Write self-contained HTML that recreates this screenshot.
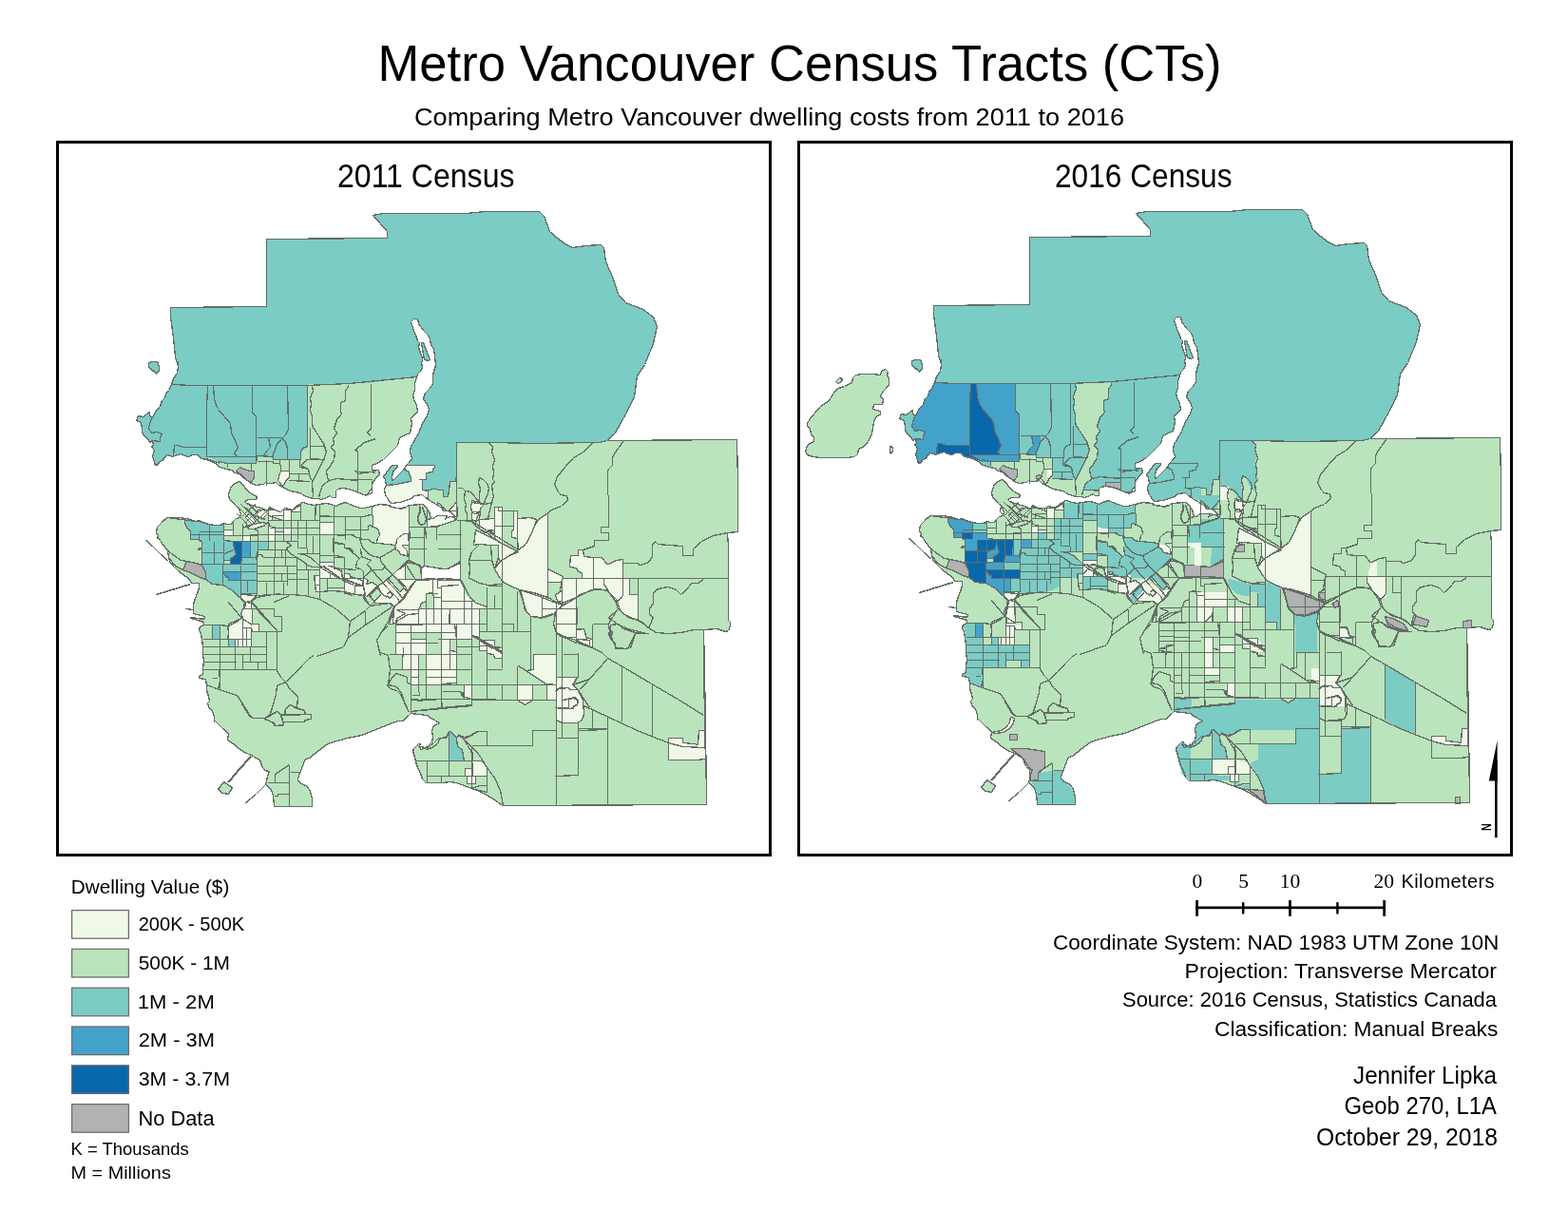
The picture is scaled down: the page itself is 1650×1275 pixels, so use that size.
<!DOCTYPE html>
<html lang="en">
<head>
<meta charset="utf-8">
<title>Metro Vancouver Census Tracts (CTs)</title>
<style>
html,body{margin:0;padding:0;background:#fff;}
body{width:1650px;height:1275px;overflow:hidden;position:relative;}
svg{position:absolute;left:0;top:0;display:block;}
text{font-family:"Liberation Sans",sans-serif;fill:#000;}
.serif{font-family:"Liberation Serif",serif;}
.frame{fill:#fff;stroke:#000;stroke-width:3;}
.sw{stroke:#6e6e6e;stroke-width:1.3;}
.c1{fill:#f0f9e8}.c2{fill:#bae4bc}.c3{fill:#7bccc4}.c4{fill:#43a2ca}.c5{fill:#0868ac}.c0{fill:#b2b2b2}
.w{fill:#fff}
.map polygon,.map polyline{stroke:#646c66;stroke-width:1.3;stroke-linejoin:round;shape-rendering:crispEdges;}
.map .ln{fill:none;}
.map .ns{stroke:none;}
</style>
</head>
<body>
<svg width="1650" height="1275" viewBox="0 0 1650 1275">
<rect x="0" y="0" width="1650" height="1275" fill="#fff"/>
<!-- titles -->
<text x="397.5" y="84.7" font-size="54.5" textLength="888" lengthAdjust="spacingAndGlyphs">Metro Vancouver Census Tracts (CTs)</text>
<text x="436" y="131.5" font-size="25" textLength="747" lengthAdjust="spacingAndGlyphs">Comparing Metro Vancouver dwelling costs from 2011 to 2016</text>
<!-- frames -->
<rect class="frame" x="60.5" y="149.5" width="750" height="750"/>
<rect class="frame" x="840.5" y="149.5" width="750" height="750"/>
<text x="355" y="197" font-size="34.5" textLength="186.5" lengthAdjust="spacingAndGlyphs">2011 Census</text>
<text x="1110" y="197" font-size="34.5" textLength="186.5" lengthAdjust="spacingAndGlyphs">2016 Census</text>
<!-- MAP1 -->
<g class="map" id="map2011">
<g>
<polygon class="c2" points="205.5,548.5 200.5,546.5 194.5,545.5 188.5,544.5 182.5,544.5 176.5,544.5 172.5,547.5 168.5,551.5 165.5,554.5 164.5,560.5 166.5,563.5 165.5,566.5 167.5,566.5 170.5,571.5 173.5,575.5 176.5,579.5 177.5,586.5 178.5,590.5 183.5,596.5 187.5,600.5 191.5,603.5 195.5,606.5 199.5,609.5 201.5,613.5 209.5,613.5 209.5,618.5 207.5,624.5 205.5,629.5 203.5,635.5 203.5,640.5 203.5,645.5 207.5,646.5 215.5,648.5 215.5,650.5 209.5,650.5 200.5,649.5 200.5,650.5 208.5,652.5 214.5,654.5 214.5,657.5 210.5,659.5 209.5,662.5 211.5,666.5 212.5,672.5 213.5,680.5 213.5,688.5 214.5,694.5 213.5,704.5 213.5,709.5 209.5,711.5 209.5,713.5 216.5,714.5 217.5,720.5 217.5,726.5 219.5,732.5 220.5,737.5 218.5,739.5 219.5,743.5 223.5,748.5 225.5,753.5 225.5,759.5 225.5,757.5 230.5,762.5 234.5,766.5 240.5,771.5 239.5,778.5 245.5,782.5 251.5,787.5 257.5,791.5 264.5,794.5 269.5,797.5 273.5,799.5 275.5,805.5 278.5,810.5 283.5,811.5 281.5,816.5 280.5,821.5 279.5,825.5 281.5,826.5 285.5,831.5 287.5,836.5 288.5,848.5 328.5,848.5 328.5,840.5 326.5,832.5 323.5,827.5 317.5,824.5 313.5,821.5 313.5,818.5 315.5,813.5 318.5,805.5 321.5,798.5 325.5,797.5 330.5,793.5 335.5,789.5 339.5,786.5 343.5,783.5 350.5,780.5 358.5,778.5 365.5,776.5 370.5,775.5 380.5,773.5 390.5,769.5 400.5,765.5 410.5,761.5 418.5,758.5 424.5,758.5 427.5,754.5 430.5,752.5 432.5,750.5 440.5,751.5 449.5,752.5 453.5,755.5 462.5,760.5 456.5,763.5 454.5,768.5 455.5,775.5 454.5,780.5 450.5,784.5 446.5,787.5 442.5,788.5 441.5,784.5 442.5,782.5 440.5,782.5 435.5,787.5 434.5,790.5 436.5,796.5 437.5,801.5 439.5,807.5 442.5,813.5 444.5,819.5 448.5,823.5 455.5,823.5 465.5,823.5 473.5,822.5 480.5,823.5 488.5,826.5 496.5,829.5 504.5,832.5 512.5,836.5 520.5,841.5 527.5,846.5 528.5,847.5 743.5,846.5 742.5,764.5 741.5,708.5 740.5,662.5 754.5,661.5 763.5,664.5 766.5,663.5 768.5,658.5 768.5,654.5 766.5,652.5 766.5,608.5 766.5,575.5 765.5,560.5 776.5,559.5 776.5,507.5 775.5,462.5 639.5,463.5 630.5,455.5 475.5,455.5 475.5,505.5 400.5,518.5 300.5,513.5 250.5,510.5 215.5,530.5 205.5,548.5"/>
<polygon class="c3" points="392.5,226.5 404.5,224.5 490.5,224.5 510.5,222.5 567.5,222.5 572.5,227.5 578.5,243.5 586.5,250.5 594.5,256.5 602.5,260.5 616.5,258.5 632.5,257.5 635.5,260.5 637.5,275.5 645.5,293.5 650.5,309.5 658.5,318.5 676.5,325.5 687.5,333.5 691.5,343.5 687.5,361.5 678.5,383.5 670.5,395.5 667.5,417.5 658.5,435.5 647.5,455.5 638.5,463.5 630.5,465.5 626.5,465.5 564.5,466.5 516.5,465.5 480.5,465.5 480.5,500.5 479.5,506.5 473.5,506.5 472.5,516.5 471.5,522.5 466.5,522.5 466.5,515.5 460.5,515.5 459.5,514.5 454.5,514.5 452.5,515.5 444.5,515.5 440.5,520.5 420.5,520.5 400.5,520.5 300.5,515.5 240.5,500.5 163.5,489.5 162.5,486.5 160.5,479.5 162.5,474.5 159.5,469.5 161.5,468.5 160.5,463.5 157.5,465.5 155.5,461.5 151.5,458.5 149.5,454.5 149.5,450.5 148.5,444.5 143.5,442.5 145.5,437.5 150.5,438.5 157.5,433.5 157.5,437.5 160.5,439.5 163.5,433.5 168.5,427.5 170.5,421.5 173.5,418.5 174.5,414.5 177.5,410.5 180.5,404.5 182.5,398.5 186.5,392.5 187.5,386.5 187.5,380.5 187.5,385.5 184.5,375.5 182.5,355.5 179.5,333.5 179.5,323.5 280.5,322.5 280.5,251.5 407.5,250.5 407.5,243.5"/>
<polygon class="c3" points="156.5,381.5 160.5,380.5 165.5,380.5 167.5,385.5 167.5,389.5 164.5,393.5 162.5,390.5 159.5,389.5 156.5,385.5"/>
<polygon class="c2 ns" points="271.5,533.5 267.5,532.5 262.5,530.5 259.5,529.5 257.5,527.5 261.5,525.5 265.5,525.5 269.5,525.5 270.5,522.5 266.5,520.5 261.5,517.5 257.5,512.5 254.5,508.5 251.5,506.5 247.5,508.5 243.5,511.5 241.5,516.5 240.5,520.5 241.5,525.5 245.5,528.5 247.5,531.5 249.5,533.5 251.5,535.5 253.5,540.5 275.5,540.5"/>
</g>
<g>
<polygon class="c2 ns" points="219.5,484.5 218.5,480.5 231.5,486.5 269.5,488.5 269.5,480.5 283.5,480.5 285.5,482.5 316.5,483.5 316.5,475.5 320.5,472.5 323.5,470.5 323.5,440.5 323.5,404.5 370.5,403.5 390.5,402.5 439.5,396.5 445.5,410.5 438.5,440.5 424.5,470.5 400.5,492.5 398.5,508.5 380.5,525.5 345.5,527.5 315.5,524.5 285.5,520.5 275.5,515.5 261.5,510.5 245.5,500.5 225.5,490.5"/>
<polygon class="c1" points="382.5,607.5 387.5,610.5 385.5,614.5 391.5,612.5 397.5,616.5 403.5,612.5 413.5,604.5 427.5,618.5 428.5,622.5 420.5,633.5 415.5,638.5 410.5,634.5 394.5,634.5 393.5,632.5 401.5,624.5 397.5,617.5 384.5,628.5 382.5,629.5 383.5,622.5 382.5,616.5 373.5,615.5 373.5,623.5 370.5,626.5 362.5,623.5 362.5,606.5 368.5,606.5 369.5,608.5 382.5,608.5"/>
<polygon class="c1" points="425.5,595.5 437.5,610.5 443.5,609.5 455.5,608.5 455.5,623.5 448.5,624.5 448.5,632.5 443.5,634.5 439.5,644.5 418.5,655.5 409.5,656.5 411.5,647.5 415.5,638.5 423.5,629.5 428.5,622.5 427.5,618.5 415.5,605.5 413.5,604.5 418.5,599.5"/>
<polygon class="c1 ns" points="455.5,608.5 484.5,609.5 488.5,623.5 496.5,632.5 512.5,639.5 504.5,640.5 504.5,656.5 455.5,656.5"/>
</g>
<g>
<polygon class="c0" points="248.5,495.5 252.5,491.5 256.5,493.5 263.5,495.5 267.5,495.5 267.5,502.5 264.5,507.5 260.5,505.5 256.5,501.5 252.5,498.5"/>
<polygon class="c1" points="294.5,497.5 296.5,495.5 304.5,495.5 304.5,502.5 300.5,505.5 299.5,509.5 296.5,511.5 294.5,507.5 292.5,505.5"/>
<polygon class="c1" points="336.5,596.5 341.5,596.5 350.5,596.5 358.5,600.5 360.5,608.5 353.5,608.5 346.5,602.5 341.5,600.5 336.5,606.5"/>
<polygon class="c1" points="330.5,605.5 336.5,605.5 336.5,622.5 332.5,622.5"/>
<polygon class="c1" points="362.5,604.5 381.5,610.5 382.5,616.5 373.5,613.5 362.5,608.5"/>
<polygon class="c1" points="373.5,616.5 382.5,616.5 384.5,626.5 373.5,625.5"/>
<polygon class="c1" points="253.5,624.5 269.5,624.5 264.5,632.5 257.5,633.5 253.5,630.5"/>
<polygon class="c1" points="257.5,633.5 264.5,632.5 265.5,656.5 272.5,656.5 272.5,664.5 264.5,664.5 264.5,672.5 240.5,672.5 240.5,656.5 254.5,650.5"/>
<polygon class="c3" points="194.5,546.5 200.5,546.5 205.5,548.5 210.5,548.5 215.5,550.5 220.5,551.5 225.5,552.5 230.5,552.5 235.5,551.5 235.5,568.5 245.5,569.5 271.5,569.5 272.5,569.5 282.5,569.5 282.5,578.5 271.5,578.5 271.5,584.5 270.5,586.5 270.5,624.5 253.5,624.5 253.5,629.5 243.5,620.5 234.5,615.5 223.5,614.5 216.5,609.5 216.5,602.5 212.5,594.5 212.5,577.5 208.5,578.5 209.5,576.5 212.5,576.5 212.5,569.5 209.5,568.5 209.5,567.5 200.5,567.5 200.5,558.5 198.5,557.5 196.5,554.5 194.5,550.5"/>
<polygon class="c1" points="235.5,557.5 245.5,557.5 245.5,563.5 235.5,563.5"/>
<polygon class="c1" points="255.5,563.5 263.5,563.5 263.5,569.5 255.5,569.5"/>
<polygon class="c1" points="253.5,624.5 269.5,624.5 269.5,626.5 264.5,632.5 258.5,633.5 253.5,629.5"/>
<polygon class="c1" points="258.5,633.5 264.5,632.5 265.5,657.5 256.5,657.5 255.5,649.5 257.5,640.5"/>
<polygon class="c1" points="282.5,534.5 291.5,537.5 295.5,538.5 298.5,540.5 298.5,547.5 282.5,542.5"/>
<polygon class="c1" points="298.5,536.5 306.5,536.5 306.5,547.5 298.5,547.5"/>
<polygon class="c1" points="306.5,536.5 315.5,530.5 316.5,538.5 306.5,538.5"/>
<polygon class="c1" points="235.5,557.5 245.5,557.5 245.5,563.5 235.5,563.5"/>
<polygon class="c1" points="282.5,555.5 289.5,555.5 289.5,562.5 282.5,562.5"/>
<polygon class="c1" points="298.5,555.5 306.5,555.5 306.5,562.5 298.5,562.5"/>
<polygon class="c1" points="336.5,549.5 351.5,549.5 351.5,562.5 336.5,562.5"/>
<polygon class="c1" points="255.5,563.5 263.5,563.5 263.5,569.5 255.5,569.5"/>
<polygon class="c1" points="250.5,533.5 257.5,540.5 253.5,544.5 249.5,540.5"/>
<polygon class="c1" points="261.5,540.5 269.5,548.5 265.5,551.5 258.5,544.5"/>
<polygon class="c1" points="271.5,536.5 277.5,536.5 281.5,540.5 275.5,546.5 269.5,540.5"/>
<polygon class="c1" points="275.5,549.5 280.5,550.5 279.5,552.5 267.5,556.5 261.5,556.5 259.5,553.5"/>
<polygon class="c1" points="575.5,540.5 566.5,546.5 562.5,553.5 558.5,562.5 553.5,572.5 545.5,578.5 534.5,585.5 526.5,590.5 520.5,598.5 524.5,605.5 529.5,612.5 537.5,616.5 546.5,620.5 561.5,623.5 576.5,628.5 576.5,540.5"/>
<polygon class="c1" points="546.5,620.5 548.5,626.5 550.5,633.5 553.5,642.5 558.5,648.5 570.5,649.5 582.5,645.5 590.5,637.5 591.5,634.5 585.5,633.5 576.5,628.5 561.5,623.5"/>
<polygon class="c1" points="540.5,537.5 544.5,537.5 544.5,545.5 558.5,544.5 564.5,546.5 562.5,553.5 558.5,562.5 553.5,572.5 545.5,578.5 544.5,566.5 538.5,565.5 538.5,558.5 540.5,557.5"/>
<polygon class="c1" points="520.5,533.5 528.5,533.5 528.5,572.5 520.5,566.5"/>
<polygon class="c1" points="504.5,546.5 520.5,546.5 520.5,561.5 513.5,557.5 504.5,554.5"/>
<polygon class="c1" points="500.5,557.5 545.5,580.5 534.5,585.5 526.5,590.5 524.5,586.5 524.5,573.5 516.5,573.5 504.5,572.5 498.5,573.5"/>
<polygon class="c1" points="496.5,526.5 504.5,528.5 505.5,538.5 496.5,537.5"/>
<polygon class="c1" points="496.5,538.5 504.5,538.5 500.5,548.5 496.5,546.5"/>
<polygon class="c1" points="600.5,584.5 608.5,584.5 608.5,578.5 613.5,578.5 614.5,585.5 624.5,586.5 633.5,586.5 638.5,593.5 640.5,593.5 648.5,589.5 655.5,588.5 655.5,608.5 612.5,608.5 612.5,602.5 608.5,601.5 606.5,597.5 599.5,596.5"/>
<polygon class="c1" points="576.5,598.5 592.5,606.5 591.5,612.5 576.5,612.5"/>
<polygon class="c1" points="591.5,608.5 662.5,608.5 662.5,625.5 671.5,625.5 671.5,652.5 660.5,649.5 652.5,641.5 648.5,630.5 638.5,621.5 630.5,619.5 622.5,620.5 614.5,624.5 606.5,628.5 606.5,656.5 585.5,656.5 585.5,633.5 591.5,634.5 591.5,621.5 585.5,625.5 589.5,621.5"/>
<polygon class="c1" points="585.5,656.5 606.5,656.5 606.5,673.5 593.5,669.5 585.5,665.5"/>
<polygon class="c1" points="606.5,661.5 614.5,662.5 617.5,672.5 606.5,672.5"/>
<polygon class="c1" points="608.5,672.5 623.5,672.5 623.5,681.5 608.5,676.5"/>
<polygon class="c1" points="460.5,610.5 484.5,610.5 488.5,618.5 488.5,632.5 464.5,632.5 464.5,618.5 460.5,618.5"/>
<polygon class="c1" points="464.5,632.5 488.5,632.5 488.5,640.5 504.5,640.5 504.5,656.5 480.5,656.5 480.5,672.5 464.5,672.5 464.5,656.5 473.5,648.5 473.5,640.5 464.5,640.5"/>
<polygon class="c1" points="460.5,528.5 470.5,537.5 480.5,537.5 480.5,546.5 460.5,552.5"/>
<polygon class="c1" points="591.5,608.5 606.5,608.5 606.5,628.5 600.5,632.5 591.5,636.5 591.5,632.5 586.5,632.5 584.5,625.5 591.5,621.5"/>
<polygon class="c1" points="606.5,608.5 624.5,608.5 624.5,620.5 610.5,625.5 606.5,628.5"/>
<polygon class="c1" points="624.5,608.5 635.5,608.5 635.5,614.5 639.5,620.5 635.5,620.5 624.5,620.5"/>
<polygon class="c1" points="635.5,608.5 655.5,608.5 655.5,626.5 650.5,632.5 647.5,632.5 642.5,625.5 639.5,620.5 635.5,614.5"/>
<polygon class="c1" points="655.5,608.5 662.5,608.5 662.5,625.5 671.5,625.5 671.5,652.5 663.5,649.5 655.5,645.5 650.5,640.5 647.5,632.5 650.5,632.5 655.5,626.5"/>
<polygon class="c1" points="570.5,628.5 580.5,632.5 591.5,636.5 591.5,637.5 583.5,644.5 570.5,649.5"/>
<polygon class="c1" points="585.5,644.5 591.5,637.5 600.5,632.5 606.5,628.5 607.5,656.5 585.5,656.5"/>
<polygon class="c1" points="585.5,656.5 606.5,656.5 606.5,676.5 600.5,673.5 591.5,669.5 585.5,666.5"/>
<polygon class="c1" points="606.5,662.5 612.5,661.5 615.5,665.5 616.5,670.5 623.5,672.5 623.5,681.5 615.5,678.5 606.5,674.5"/>
<polygon class="c1" points="570.5,688.5 585.5,688.5 585.5,718.5 570.5,717.5"/>
<polygon class="c1" points="585.5,712.5 607.5,712.5 603.5,720.5 608.5,725.5 612.5,732.5 612.5,750.5 614.5,752.5 611.5,758.5 591.5,760.5 585.5,757.5 585.5,744.5 585.5,726.5"/>
<polygon class="c1" points="575.5,720.5 585.5,720.5 585.5,736.5 575.5,736.5"/>
<polygon class="c1" points="703.5,776.5 718.5,776.5 718.5,781.5 730.5,782.5 734.5,783.5 735.5,768.5 741.5,768.5 742.5,798.5 732.5,799.5 703.5,799.5"/>
<polygon class="c1" points="427.5,489.5 457.5,489.5 457.5,492.5 455.5,493.5 455.5,496.5 448.5,497.5 448.5,504.5 442.5,504.5 441.5,504.5 444.5,504.5 444.5,515.5 450.5,516.5 450.5,524.5 447.5,523.5 444.5,520.5 436.5,521.5 432.5,524.5 427.5,526.5 420.5,528.5 411.5,529.5 408.5,525.5 405.5,520.5 404.5,514.5 406.5,510.5 417.5,509.5 426.5,507.5 432.5,506.5 432.5,502.5 429.5,495.5 425.5,494.5"/>
<polygon class="c3" points="223.5,657.5 231.5,657.5 231.5,672.5 223.5,672.5"/>
<polygon class="c3" points="240.5,672.5 247.5,672.5 247.5,680.5 240.5,680.5"/>
<polygon class="c1" points="240.5,658.5 248.5,654.5 255.5,649.5 255.5,660.5 264.5,660.5 264.5,671.5 263.5,672.5 240.5,672.5"/>
<polygon class="c1" points="255.5,649.5 253.5,645.5 255.5,640.5 265.5,640.5 265.5,656.5 272.5,656.5 272.5,664.5 265.5,664.5 264.5,660.5 255.5,660.5"/>
<polygon class="c1" points="247.5,672.5 264.5,672.5 264.5,680.5 247.5,680.5"/>
<polygon class="c1" points="440.5,640.5 448.5,640.5 448.5,656.5 440.5,656.5"/>
<polygon class="c1" points="448.5,640.5 456.5,640.5 456.5,656.5 448.5,656.5"/>
<polygon class="c1" points="456.5,640.5 464.5,640.5 464.5,656.5 456.5,656.5"/>
<polygon class="c1" points="464.5,640.5 473.5,640.5 472.5,656.5 464.5,656.5"/>
<polygon class="c1" points="473.5,640.5 488.5,640.5 488.5,656.5 473.5,656.5"/>
<polygon class="c1" points="488.5,640.5 496.5,640.5 496.5,656.5 488.5,656.5"/>
<polygon class="c1" points="496.5,640.5 504.5,640.5 504.5,656.5 496.5,656.5"/>
<polygon class="c1" points="416.5,656.5 432.5,656.5 432.5,665.5 416.5,665.5"/>
<polygon class="c1" points="432.5,656.5 448.5,656.5 448.5,665.5 432.5,665.5"/>
<polygon class="c1" points="448.5,656.5 464.5,656.5 464.5,665.5 448.5,665.5"/>
<polygon class="c1" points="465.5,656.5 478.5,656.5 480.5,672.5 496.5,672.5 496.5,656.5 480.5,656.5"/>
<polygon class="c1" points="416.5,665.5 432.5,665.5 432.5,671.5 416.5,671.5"/>
<polygon class="c1" points="416.5,671.5 432.5,671.5 432.5,680.5 424.5,680.5 424.5,684.5 416.5,684.5"/>
<polygon class="c1" points="432.5,672.5 448.5,672.5 448.5,688.5 432.5,688.5"/>
<polygon class="c1" points="416.5,684.5 432.5,680.5 432.5,688.5 416.5,686.5"/>
<polygon class="c1" points="464.5,672.5 473.5,672.5 473.5,704.5 464.5,704.5"/>
<polygon class="c1" points="473.5,684.5 480.5,685.5 480.5,704.5 473.5,704.5"/>
<polygon class="c1" points="448.5,688.5 464.5,688.5 464.5,704.5 448.5,704.5"/>
<polygon class="c1" points="423.5,688.5 432.5,688.5 432.5,704.5 423.5,704.5"/>
<polygon class="c1" points="432.5,688.5 440.5,688.5 440.5,704.5 432.5,704.5"/>
<polygon class="c1" points="432.5,704.5 440.5,704.5 440.5,712.5 432.5,712.5"/>
<polygon class="c1" points="448.5,704.5 464.5,704.5 464.5,712.5 448.5,712.5"/>
<polygon class="c1" points="464.5,704.5 480.5,704.5 480.5,712.5 464.5,712.5"/>
<polygon class="c1" points="432.5,712.5 440.5,712.5 440.5,720.5 432.5,720.5"/>
<polygon class="c1" points="448.5,712.5 464.5,712.5 464.5,720.5 448.5,720.5"/>
<polygon class="c1" points="464.5,712.5 480.5,712.5 480.5,718.5 464.5,719.5"/>
<polygon class="c1" points="488.5,720.5 496.5,720.5 496.5,735.5 488.5,734.5 485.5,730.5 488.5,728.5"/>
<polygon class="c1" points="496.5,656.5 504.5,656.5 504.5,670.5 496.5,668.5"/>
<polygon class="c1" points="504.5,673.5 520.5,673.5 520.5,680.5 528.5,681.5 528.5,692.5 520.5,691.5 520.5,688.5 512.5,687.5 512.5,684.5 504.5,684.5"/>
<polygon class="c1" points="561.5,688.5 585.5,688.5 585.5,720.5 574.5,719.5 553.5,705.5 561.5,704.5"/>
<polygon class="c1" points="544.5,720.5 560.5,720.5 560.5,736.5 552.5,741.5 544.5,736.5"/>
<polygon class="c1" points="575.5,720.5 585.5,720.5 585.5,736.5 575.5,736.5"/>
<polygon class="c1" points="585.5,640.5 606.5,640.5 606.5,656.5 585.5,656.5"/>
<polygon class="c1" points="585.5,656.5 606.5,656.5 606.5,670.5 592.5,670.5 585.5,666.5"/>
<polygon class="c1" points="585.5,712.5 591.5,712.5 591.5,722.5 585.5,725.5"/>
<polygon class="c1" points="591.5,712.5 607.5,712.5 602.5,720.5 608.5,726.5 613.5,736.5 614.5,750.5 612.5,757.5 607.5,760.5 591.5,760.5 591.5,744.5 585.5,744.5 585.5,726.5 591.5,722.5"/>
<polygon class="c1" points="606.5,662.5 614.5,661.5 617.5,672.5 606.5,672.5"/>
<polygon class="c1" points="608.5,672.5 620.5,673.5 620.5,680.5 608.5,676.5"/>
<polygon class="c1" points="417.5,641.5 440.5,641.5 440.5,656.5 416.5,656.5 417.5,650.5 426.5,645.5"/>
<polygon class="c1" points="552.5,640.5 586.5,640.5 584.5,645.5 573.5,649.5 560.5,648.5"/>
<polygon class="c3" points="472.5,769.5 474.5,769.5 480.5,776.5 481.5,785.5 486.5,788.5 488.5,800.5 472.5,800.5"/>
<polygon class="c1" points="488.5,778.5 496.5,785.5 497.5,800.5 507.5,800.5 512.5,807.5 512.5,816.5 497.5,816.5 496.5,793.5 495.5,789.5"/>
<polygon class="c1" points="489.5,808.5 496.5,808.5 496.5,816.5 489.5,816.5"/>
<polygon class="c1" points="491.5,816.5 500.5,816.5 500.5,824.5 491.5,824.5"/>
<polygon class="c1" points="488.5,720.5 496.5,720.5 496.5,735.5 489.5,733.5 485.5,729.5 488.5,728.5"/>
<polygon class="c1" points="496.5,528.5 509.5,530.5 506.5,533.5 504.5,538.5 496.5,538.5 495.5,532.5"/>
<polygon class="c1" points="472.5,537.5 478.5,530.5 480.5,527.5 481.5,543.5 478.5,543.5 474.5,538.5"/>
<polygon class="c1" points="520.5,533.5 524.5,533.5 524.5,537.5 528.5,537.5 528.5,553.5 520.5,553.5"/>
<polygon class="c1" points="504.5,546.5 520.5,545.5 520.5,558.5 514.5,557.5 510.5,560.5 504.5,556.5"/>
<polygon class="c1" points="449.5,546.5 455.5,545.5 460.5,542.5 470.5,542.5 478.5,544.5 479.5,547.5 460.5,553.5 449.5,554.5"/>
<polygon class="c1" points="547.5,620.5 570.5,628.5 570.5,650.5 558.5,648.5 552.5,642.5 550.5,631.5"/>
<polygon class="c1" points="488.5,720.5 496.5,720.5 496.5,735.5 488.5,735.5"/>
<polygon class="c1" points="544.5,720.5 560.5,720.5 560.5,736.5 544.5,736.5"/>
<polygon class="c1" points="416.5,656.5 432.5,656.5 432.5,688.5 416.5,688.5"/>
<polygon class="c1" points="504.5,672.5 528.5,687.5 528.5,692.5 520.5,692.5 519.5,688.5 512.5,687.5 512.5,679.5 504.5,679.5"/>
<polygon class="c1" points="336.5,549.5 351.5,549.5 351.5,562.5 336.5,562.5"/>
<polygon class="c1" points="298.5,536.5 306.5,536.5 306.5,547.5 298.5,547.5"/>
<polygon class="c1" points="298.5,555.5 306.5,555.5 306.5,562.5 298.5,562.5"/>
<polygon class="c1" points="282.5,552.5 289.5,555.5 289.5,559.5 298.5,559.5 298.5,562.5 282.5,562.5"/>
<polygon class="c1" points="282.5,562.5 289.5,562.5 289.5,569.5 282.5,569.5"/>
<polygon class="c1" points="282.5,536.5 298.5,536.5 298.5,542.5 286.5,542.5 286.5,547.5 282.5,547.5"/>
<polygon class="c1" points="336.5,591.5 351.5,591.5 351.5,596.5 348.5,601.5 340.5,596.5 336.5,596.5"/>
<polygon class="c1" points="336.5,596.5 340.5,596.5 348.5,601.5 347.5,608.5 336.5,608.5"/>
<polygon class="c1" points="331.5,605.5 336.5,605.5 336.5,615.5 331.5,615.5"/>
<polygon class="c1" points="348.5,601.5 355.5,598.5 358.5,599.5 360.5,608.5 355.5,608.5"/>
<polygon class="c1" points="307.5,536.5 316.5,531.5 316.5,538.5 306.5,538.5"/>
<polygon class="c1" points="336.5,549.5 351.5,549.5 351.5,562.5 336.5,562.5"/>
<polygon class="c1" points="391.5,533.5 398.5,530.5 408.5,531.5 411.5,533.5 416.5,533.5 421.5,535.5 428.5,533.5 430.5,531.5 430.5,561.5 425.5,561.5 420.5,564.5 417.5,567.5 416.5,574.5 414.5,573.5 408.5,572.5 396.5,571.5 396.5,570.5 397.5,565.5 399.5,563.5 398.5,558.5 396.5,555.5 392.5,554.5 392.5,543.5 391.5,541.5 391.5,533.5"/>
<polygon class="c1" points="417.5,567.5 420.5,564.5 425.5,561.5 429.5,561.5 430.5,573.5 423.5,573.5 423.5,574.5 428.5,579.5 429.5,585.5 427.5,584.5 421.5,583.5 419.5,579.5 415.5,577.5 416.5,574.5"/>
<polygon class="c1" points="336.5,591.5 351.5,591.5 351.5,597.5 359.5,598.5 359.5,606.5 361.5,608.5 336.5,608.5"/>
<polygon class="c1" points="362.5,603.5 367.5,603.5 369.5,608.5 375.5,608.5 381.5,608.5 362.5,608.5"/>
<polygon class="c1" points="417.5,609.5 413.5,604.5 421.5,596.5 426.5,592.5 426.5,609.5"/>
</g>
<g>
<polygon class="c5" points="245.5,569.5 254.5,569.5 254.5,586.5 253.5,593.5 242.5,593.5 242.5,587.5 245.5,586.5 248.5,582.5 246.5,577.5"/>
<polygon class="c4" points="254.5,569.5 263.5,569.5 263.5,586.5 254.5,586.5"/>
<polygon class="c4" points="234.5,601.5 253.5,601.5 253.5,610.5 240.5,610.5 240.5,607.5 237.5,606.5"/>
<polygon class="c2" points="235.5,589.5 242.5,589.5 242.5,593.5 235.5,593.5"/>
<polygon class="c0" points="192.5,599.5 196.5,590.5 206.5,592.5 212.5,594.5 216.5,602.5 216.5,609.5 210.5,607.5 200.5,602.5"/>
<polygon class="c0" points="640.5,665.5 643.5,663.5 644.5,666.5 642.5,669.5 640.5,668.5"/>
<polygon class="c2" points="389.5,625.5 397.5,618.5 401.5,624.5 394.5,632.5 391.5,630.5"/>
<polygon class="c2" points="408.5,608.5 413.5,604.5 425.5,618.5 420.5,622.5"/>
<polygon class="c2" points="426.5,591.5 442.5,594.5 443.5,609.5 426.5,609.5"/>
</g>
<g>
<polygon class="c2" points="235.5,822.5 244.5,828.5 240.5,835.5 234.5,834.5 229.5,830.5"/>
</g>
<g>
<polygon class="w ns" points="163.5,489.5 166.5,488.5 167.5,485.5 171.5,484.5 172.5,481.5 176.5,478.5 181.5,480.5 186.5,478.5 190.5,477.5 194.5,479.5 198.5,480.5 202.5,478.5 207.5,478.5 212.5,482.5 217.5,483.5 222.5,485.5 226.5,487.5 231.5,491.5 238.5,493.5 243.5,494.5 247.5,497.5 251.5,498.5 255.5,502.5 257.5,503.5 260.5,505.5 264.5,508.5 269.5,510.5 271.5,510.5 274.5,509.5 277.5,509.5 279.5,507.5 281.5,508.5 285.5,508.5 290.5,507.5 293.5,510.5 297.5,512.5 301.5,514.5 305.5,516.5 310.5,517.5 315.5,518.5 320.5,521.5 325.5,523.5 330.5,524.5 334.5,524.5 338.5,525.5 343.5,523.5 347.5,521.5 349.5,523.5 353.5,523.5 353.5,516.5 355.5,514.5 361.5,513.5 370.5,515.5 375.5,517.5 380.5,519.5 385.5,521.5 391.5,513.5 391.5,509.5 395.5,502.5 399.5,499.5 398.5,494.5 391.5,494.5 391.5,489.5 396.5,487.5 403.5,483.5 410.5,476.5 418.5,468.5 420.5,460.5 426.5,457.5 431.5,455.5 433.5,445.5 432.5,440.5 435.5,436.5 439.5,433.5 438.5,426.5 435.5,420.5 434.5,415.5 436.5,410.5 436.5,402.5 438.5,397.5 439.5,393.5 442.5,390.5 444.5,386.5 443.5,381.5 444.5,379.5 444.5,376.5 442.5,371.5 440.5,365.5 441.5,360.5 439.5,358.5 437.5,352.5 434.5,345.5 432.5,338.5 435.5,335.5 439.5,335.5 440.5,340.5 445.5,347.5 450.5,352.5 452.5,356.5 453.5,362.5 456.5,367.5 457.5,374.5 458.5,384.5 456.5,390.5 455.5,396.5 455.5,403.5 452.5,408.5 447.5,413.5 445.5,419.5 449.5,425.5 451.5,430.5 449.5,437.5 444.5,445.5 440.5,455.5 435.5,464.5 432.5,469.5 431.5,475.5 433.5,482.5 430.5,486.5 427.5,489.5 424.5,494.5 420.5,498.5 414.5,504.5 412.5,505.5 412.5,500.5 414.5,494.5 418.5,491.5 418.5,489.5 412.5,489.5 403.5,501.5 405.5,504.5 406.5,510.5 404.5,514.5 405.5,520.5 408.5,525.5 411.5,529.5 420.5,528.5 427.5,526.5 432.5,524.5 436.5,521.5 444.5,520.5 447.5,523.5 450.5,525.5 455.5,528.5 460.5,531.5 465.5,534.5 466.5,537.5 471.5,537.5 474.5,538.5 478.5,543.5 474.5,543.5 470.5,544.5 468.5,546.5 470.5,542.5 466.5,542.5 460.5,542.5 455.5,545.5 453.5,545.5 452.5,541.5 451.5,538.5 449.5,535.5 447.5,532.5 444.5,530.5 429.5,531.5 428.5,533.5 422.5,534.5 417.5,534.5 412.5,533.5 410.5,531.5 400.5,530.5 391.5,532.5 383.5,534.5 378.5,534.5 370.5,531.5 363.5,528.5 357.5,530.5 353.5,532.5 348.5,530.5 343.5,529.5 335.5,530.5 330.5,531.5 325.5,530.5 318.5,528.5 315.5,530.5 311.5,532.5 307.5,536.5 304.5,535.5 299.5,534.5 295.5,538.5 291.5,537.5 287.5,535.5 283.5,533.5 282.5,537.5 279.5,536.5 275.5,534.5 271.5,533.5 267.5,532.5 262.5,530.5 259.5,529.5 257.5,527.5 261.5,525.5 265.5,525.5 269.5,525.5 270.5,522.5 266.5,520.5 261.5,517.5 257.5,512.5 254.5,508.5 251.5,506.5 247.5,508.5 243.5,511.5 241.5,516.5 240.5,520.5 241.5,525.5 245.5,528.5 247.5,531.5 249.5,533.5 251.5,535.5 253.5,540.5 252.5,544.5 248.5,545.5 245.5,548.5 243.5,551.5 239.5,551.5 235.5,550.5 231.5,552.5 225.5,552.5 219.5,551.5 213.5,549.5 209.5,547.5 205.5,548.5 176.5,544.5 170.5,548.5"/>
<polyline class="ln" points="163.5,489.5 166.5,488.5 167.5,485.5 171.5,484.5 172.5,481.5 176.5,478.5 181.5,480.5 186.5,478.5 190.5,477.5 194.5,479.5 198.5,480.5 202.5,478.5 207.5,478.5 212.5,482.5 217.5,483.5 222.5,485.5 226.5,487.5 231.5,491.5 238.5,493.5 243.5,494.5 247.5,497.5 251.5,498.5 255.5,502.5 257.5,503.5 260.5,505.5 264.5,508.5 269.5,510.5 271.5,510.5 274.5,509.5 277.5,509.5 279.5,507.5 281.5,508.5 285.5,508.5 290.5,507.5 293.5,510.5 297.5,512.5 301.5,514.5 305.5,516.5 310.5,517.5 315.5,518.5 320.5,521.5 325.5,523.5 330.5,524.5 334.5,524.5 338.5,525.5 343.5,523.5 347.5,521.5 349.5,523.5 353.5,523.5 353.5,516.5 355.5,514.5 361.5,513.5 370.5,515.5 375.5,517.5 380.5,519.5 385.5,521.5 391.5,513.5 391.5,509.5 395.5,502.5 399.5,499.5 398.5,494.5 391.5,494.5 391.5,489.5 396.5,487.5 403.5,483.5 410.5,476.5 418.5,468.5 420.5,460.5 426.5,457.5 431.5,455.5 433.5,445.5 432.5,440.5 435.5,436.5 439.5,433.5 438.5,426.5 435.5,420.5 434.5,415.5 436.5,410.5 436.5,402.5 438.5,397.5 439.5,393.5 442.5,390.5 444.5,386.5 443.5,381.5 444.5,379.5 444.5,376.5 442.5,371.5 440.5,365.5 441.5,360.5 439.5,358.5 437.5,352.5 434.5,345.5 432.5,338.5 435.5,335.5 439.5,335.5 440.5,340.5 445.5,347.5 450.5,352.5 452.5,356.5 453.5,362.5 456.5,367.5 457.5,374.5 458.5,384.5 456.5,390.5 455.5,396.5 455.5,403.5 452.5,408.5 447.5,413.5 445.5,419.5 449.5,425.5 451.5,430.5 449.5,437.5 444.5,445.5 440.5,455.5 435.5,464.5 432.5,469.5 431.5,475.5 433.5,482.5 430.5,486.5 427.5,489.5 424.5,494.5 420.5,498.5 414.5,504.5 412.5,505.5 412.5,500.5 414.5,494.5 418.5,491.5 418.5,489.5 412.5,489.5 403.5,501.5 405.5,504.5 406.5,510.5 404.5,514.5 405.5,520.5 408.5,525.5 411.5,529.5 420.5,528.5 427.5,526.5 432.5,524.5 436.5,521.5 444.5,520.5 447.5,523.5 450.5,525.5 455.5,528.5 460.5,531.5 465.5,534.5 466.5,537.5 471.5,537.5 474.5,538.5 478.5,543.5 474.5,543.5 470.5,544.5 468.5,546.5 470.5,542.5 466.5,542.5 460.5,542.5 455.5,545.5 453.5,545.5 452.5,541.5 451.5,538.5 449.5,535.5 447.5,532.5 444.5,530.5 429.5,531.5 428.5,533.5 422.5,534.5 417.5,534.5 412.5,533.5 410.5,531.5 400.5,530.5 391.5,532.5 383.5,534.5 378.5,534.5 370.5,531.5 363.5,528.5 357.5,530.5 353.5,532.5 348.5,530.5 343.5,529.5 335.5,530.5 330.5,531.5 325.5,530.5 318.5,528.5 315.5,530.5 311.5,532.5 307.5,536.5 304.5,535.5 299.5,534.5 295.5,538.5 291.5,537.5 287.5,535.5 283.5,533.5 282.5,537.5 279.5,536.5 275.5,534.5 271.5,533.5 267.5,532.5 262.5,530.5 259.5,529.5 257.5,527.5 261.5,525.5 265.5,525.5 269.5,525.5 270.5,522.5 266.5,520.5 261.5,517.5 257.5,512.5 254.5,508.5 251.5,506.5 247.5,508.5 243.5,511.5 241.5,516.5 240.5,520.5 241.5,525.5 245.5,528.5 247.5,531.5 249.5,533.5 251.5,535.5 253.5,540.5 252.5,544.5 248.5,545.5 245.5,548.5 243.5,551.5 239.5,551.5 235.5,550.5 231.5,552.5 225.5,552.5 219.5,551.5 213.5,549.5 209.5,547.5 205.5,548.5 176.5,544.5 170.5,548.5"/>
</g>
<g>
<polygon class="w ns" points="443.5,597.5 446.5,595.5 453.5,596.5 460.5,597.5 466.5,598.5 471.5,598.5 476.5,595.5 484.5,590.5 484.5,610.5 476.5,609.5 470.5,610.5 460.5,609.5 452.5,608.5 443.5,609.5"/>
<polygon class="ln" points="443.5,597.5 446.5,595.5 453.5,596.5 460.5,597.5 466.5,598.5 471.5,598.5 476.5,595.5 484.5,590.5 484.5,610.5 476.5,609.5 470.5,610.5 460.5,609.5 452.5,608.5 443.5,609.5"/>
</g>
<g>
<polygon class="c3" points="443.5,360.5 445.5,360.5 452.5,378.5 451.5,379.5 446.5,378.5"/>
</g>
<g>
<polyline class="ln" points="230.5,405.5 322.5,405.5 367.5,403.5 438.5,396.5"/>
<polyline class="ln" points="265.5,405.5 265.5,434.5 269.5,437.5 269.5,487.5"/>
<polyline class="ln" points="230.5,480.5 269.5,480.5"/>
<polyline class="ln" points="230.5,431.5 236.5,438.5 242.5,445.5 243.5,455.5 247.5,463.5 250.5,470.5 246.5,477.5 250.5,480.5"/>
<polyline class="ln" points="302.5,405.5 303.5,451.5 300.5,457.5 295.5,462.5 291.5,467.5 288.5,475.5 286.5,480.5"/>
<polyline class="ln" points="270.5,460.5 292.5,460.5 296.5,460.5 300.5,465.5 302.5,471.5 302.5,483.5"/>
<polyline class="ln" points="282.5,460.5 283.5,465.5 284.5,470.5 280.5,474.5 277.5,479.5"/>
<polyline class="ln" points="323.5,405.5 323.5,469.5 318.5,471.5 316.5,475.5 316.5,483.5 287.5,483.5 287.5,480.5 270.5,479.5 269.5,487.5 238.5,487.5 230.5,485.5"/>
<polyline class="ln" points="328.5,405.5 329.5,411.5 326.5,418.5 327.5,425.5 326.5,431.5 328.5,438.5 328.5,446.5 329.5,449.5 340.5,466.5 343.5,475.5 340.5,483.5 336.5,491.5 332.5,499.5 328.5,507.5 329.5,523.5"/>
<polyline class="ln" points="326.5,469.5 340.5,469.5"/>
<polyline class="ln" points="326.5,449.5 326.5,482.5 341.5,483.5 323.5,483.5 316.5,489.5 324.5,493.5 326.5,502.5 329.5,507.5"/>
<polyline class="ln" points="366.5,404.5 366.5,406.5 363.5,411.5 363.5,421.5 358.5,423.5 358.5,433.5 359.5,435.5 354.5,441.5 351.5,450.5 354.5,455.5 350.5,461.5 351.5,466.5 348.5,470.5 352.5,475.5 351.5,483.5 347.5,490.5 343.5,495.5 344.5,502.5 346.5,505.5 339.5,510.5 336.5,518.5 335.5,523.5"/>
<polyline class="ln" points="390.5,403.5 390.5,450.5 386.5,455.5 390.5,458.5"/>
<polyline class="ln" points="395.5,461.5 383.5,465.5 373.5,473.5 376.5,474.5 376.5,495.5 373.5,495.5 376.5,498.5 376.5,518.5"/>
<polyline class="ln" points="346.5,505.5 354.5,503.5 376.5,505.5"/>
<polyline class="ln" points="376.5,498.5 383.5,497.5 396.5,495.5"/>
<polyline class="ln" points="391.5,505.5 391.5,518.5 384.5,521.5"/>
<polyline class="ln" points="239.5,487.5 239.5,491.5"/>
<polyline class="ln" points="264.5,487.5 264.5,495.5"/>
<polyline class="ln" points="280.5,483.5 280.5,510.5"/>
<polyline class="ln" points="270.5,485.5 287.5,485.5 287.5,487.5 294.5,487.5 294.5,483.5"/>
<polyline class="ln" points="294.5,487.5 295.5,491.5 295.5,495.5"/>
<polyline class="ln" points="304.5,483.5 304.5,498.5 324.5,498.5"/>
<polyline class="ln" points="304.5,505.5 326.5,506.5"/>
<polyline class="ln" points="314.5,498.5 314.5,506.5"/>
<polyline class="ln" points="315.5,483.5 315.5,491.5 324.5,493.5"/>
<polyline class="ln" points="336.5,529.5 336.5,630.5"/>
<polyline class="ln" points="362.5,612.5 362.5,624.5"/>
<polyline class="ln" points="344.5,608.5 344.5,621.5"/>
<polyline class="ln" points="280.5,612.5 280.5,626.5"/>
<polyline class="ln" points="260.5,610.5 260.5,622.5"/>
<polyline class="ln" points="336.5,608.5 362.5,608.5"/>
<polyline class="ln" points="344.5,618.5 362.5,618.5"/>
<polyline class="ln" points="288.5,612.5 288.5,625.5"/>
<polyline class="ln" points="298.5,612.5 298.5,625.5"/>
<polyline class="ln" points="312.5,612.5 312.5,624.5"/>
<polyline class="ln" points="324.5,612.5 324.5,626.5"/>
<polyline class="ln" points="336.5,596.5 346.5,602.5 357.5,608.5 373.5,613.5 382.5,616.5"/>
<polyline class="ln" points="253.5,625.5 270.5,626.5 288.5,625.5 305.5,625.5 320.5,626.5 336.5,630.5 353.5,640.5 368.5,653.5 384.5,642.5 389.5,637.5 382.5,626.5 373.5,625.5 362.5,622.5 349.5,621.5 336.5,622.5"/>
<polyline class="ln" points="257.5,633.5 264.5,632.5 270.5,626.5"/>
<polyline class="ln" points="264.5,632.5 292.5,664.5"/>
<polyline class="ln" points="368.5,653.5 366.5,670.5 361.5,680.5 333.5,690.5"/>
<polyline class="ln" points="384.5,642.5 384.5,657.5 366.5,670.5"/>
<polyline class="ln" points="389.5,637.5 410.5,634.5 414.5,638.5 408.5,653.5 396.5,673.5 400.5,690.5"/>
<polyline class="ln" points="384.5,657.5 412.5,638.5"/>
<polyline class="ln" points="426.5,592.5 437.5,610.5 424.5,630.5 414.5,638.5 413.5,657.5"/>
<polyline class="ln" points="426.5,592.5 426.5,609.5 443.5,609.5 443.5,596.5 430.5,589.5"/>
<polyline class="ln" points="430.5,532.5 430.5,589.5"/>
<polyline class="ln" points="430.5,554.5 460.5,554.5"/>
<polyline class="ln" points="446.5,554.5 446.5,594.5"/>
<polyline class="ln" points="430.5,565.5 446.5,565.5"/>
<polyline class="ln" points="430.5,577.5 448.5,577.5"/>
<polyline class="ln" points="240.5,633.5 254.5,650.5 265.5,657.5"/>
<polyline class="ln" points="265.5,640.5 288.5,640.5 288.5,648.5 296.5,648.5 296.5,664.5 272.5,664.5 272.5,656.5 265.5,656.5 265.5,640.5"/>
<polyline class="ln" points="288.5,633.5 304.5,626.5"/>
<polyline class="ln" points="280.5,664.5 280.5,690.5"/>
<polyline class="ln" points="291.5,664.5 291.5,690.5"/>
<polyline class="ln" points="416.5,657.5 460.5,656.5"/>
<polyline class="ln" points="416.5,665.5 460.5,665.5"/>
<polyline class="ln" points="416.5,676.5 460.5,676.5"/>
<polyline class="ln" points="432.5,657.5 432.5,690.5"/>
<polyline class="ln" points="448.5,624.5 448.5,690.5"/>
<polyline class="ln" points="440.5,640.5 440.5,656.5"/>
<polyline class="ln" points="424.5,680.5 424.5,690.5"/>
<polyline class="ln" points="437.5,610.5 460.5,609.5"/>
<polyline class="ln" points="448.5,624.5 460.5,624.5"/>
<polyline class="ln" points="440.5,640.5 460.5,640.5"/>
<polyline class="ln" points="416.5,657.5 417.5,653.5 429.5,646.5 440.5,645.5"/>
<polyline class="ln" points="225.5,569.5 225.5,593.5"/>
<polyline class="ln" points="235.5,569.5 235.5,594.5"/>
<polyline class="ln" points="234.5,594.5 234.5,615.5"/>
<polyline class="ln" points="220.5,551.5 220.5,568.5"/>
<polyline class="ln" points="209.5,560.5 209.5,567.5"/>
<polyline class="ln" points="253.5,594.5 253.5,629.5"/>
<polyline class="ln" points="260.5,610.5 260.5,622.5"/>
<polyline class="ln" points="270.5,586.5 270.5,622.5"/>
<polyline class="ln" points="212.5,593.5 270.5,593.5"/>
<polyline class="ln" points="212.5,581.5 235.5,581.5"/>
<polyline class="ln" points="200.5,562.5 235.5,562.5"/>
<polyline class="ln" points="209.5,559.5 220.5,559.5"/>
<polyline class="ln" points="234.5,601.5 270.5,601.5"/>
<polyline class="ln" points="240.5,610.5 270.5,610.5"/>
<polyline class="ln" points="254.5,586.5 270.5,586.5"/>
<polyline class="ln" points="245.5,569.5 281.5,569.5"/>
<polyline class="ln" points="236.5,563.5 255.5,563.5"/>
<polyline class="ln" points="245.5,551.5 245.5,563.5"/>
<polyline class="ln" points="255.5,550.5 255.5,569.5"/>
<polyline class="ln" points="236.5,582.5 245.5,578.5"/>
<polyline class="ln" points="176.5,579.5 183.5,584.5 190.5,589.5 196.5,590.5"/>
<polyline class="ln" points="177.5,586.5 184.5,595.5 192.5,599.5"/>
<polyline class="ln" points="153.5,568.5 160.5,574.5 168.5,582.5 177.5,590.5"/>
<polyline class="ln" points="258.5,633.5 265.5,634.5 270.5,640.5 280.5,650.5 285.5,657.5"/>
<polyline class="ln" points="264.5,632.5 270.5,628.5 280.5,626.5 295.5,624.5"/>
<polyline class="ln" style="stroke-width:1.6" points="164.5,625.5 200.5,614.5"/>
<polyline class="ln" style="stroke-width:1.4" points="195.5,640.5 203.5,641.5"/>
<polyline class="ln" style="stroke-width:1.4" points="200.5,649.5 215.5,651.5"/>
<polyline class="ln" points="181.5,404.5 202.5,405.5 218.5,405.5 230.5,405.5"/>
<polyline class="ln" points="218.5,405.5 217.5,430.5 217.5,450.5 217.5,480.5 230.5,480.5"/>
<polyline class="ln" points="224.5,405.5 225.5,420.5 228.5,428.5 230.5,430.5"/>
<polyline class="ln" points="183.5,468.5 187.5,468.5 192.5,470.5 217.5,470.5"/>
<polyline class="ln" points="183.5,468.5 182.5,479.5"/>
<polyline class="ln" points="163.5,433.5 158.5,442.5 156.5,450.5 159.5,455.5 165.5,454.5 170.5,456.5 168.5,460.5 168.5,464.5 160.5,463.5"/>
<polyline class="ln" points="217.5,482.5 231.5,487.5"/>
<polyline class="ln" points="249.5,532.5 261.5,544.5 269.5,552.5"/>
<polyline class="ln" points="253.5,530.5 265.5,542.5 275.5,551.5"/>
<polyline class="ln" points="257.5,533.5 267.5,542.5 279.5,546.5"/>
<polyline class="ln" points="261.5,530.5 271.5,539.5"/>
<polyline class="ln" points="249.5,540.5 257.5,548.5 261.5,554.5"/>
<polyline class="ln" points="253.5,544.5 261.5,536.5 269.5,530.5"/>
<polyline class="ln" points="257.5,550.5 265.5,542.5 275.5,536.5"/>
<polyline class="ln" points="261.5,554.5 269.5,548.5 279.5,538.5"/>
<polyline class="ln" points="247.5,546.5 245.5,548.5 245.5,557.5 235.5,557.5 235.5,567.5"/>
<polyline class="ln" points="282.5,533.5 282.5,548.5 283.5,553.5"/>
<polyline class="ln" points="279.5,552.5 282.5,548.5"/>
<polyline class="ln" points="245.5,563.5 255.5,563.5 255.5,555.5 259.5,553.5"/>
<polyline class="ln" points="267.5,556.5 271.5,558.5 271.5,563.5 255.5,563.5"/>
<polyline class="ln" points="220.5,551.5 220.5,567.5"/>
<polyline class="ln" points="209.5,559.5 235.5,559.5"/>
<polyline class="ln" points="298.5,540.5 298.5,567.5"/>
<polyline class="ln" points="306.5,536.5 306.5,567.5"/>
<polyline class="ln" points="282.5,542.5 298.5,547.5"/>
<polyline class="ln" points="283.5,547.5 336.5,547.5"/>
<polyline class="ln" points="316.5,530.5 316.5,547.5"/>
<polyline class="ln" points="332.5,531.5 331.5,547.5"/>
<polyline class="ln" points="336.5,530.5 336.5,567.5"/>
<polyline class="ln" points="283.5,555.5 336.5,555.5"/>
<polyline class="ln" points="283.5,562.5 336.5,562.5"/>
<polyline class="ln" points="313.5,547.5 313.5,567.5"/>
<polyline class="ln" points="322.5,547.5 322.5,567.5"/>
<polyline class="ln" points="289.5,553.5 289.5,567.5"/>
<polyline class="ln" points="351.5,532.5 351.5,567.5"/>
<polyline class="ln" points="337.5,543.5 370.5,543.5"/>
<polyline class="ln" points="363.5,543.5 363.5,567.5"/>
<polyline class="ln" points="336.5,549.5 351.5,549.5"/>
<polyline class="ln" points="576.5,540.5 576.5,628.5"/>
<polyline class="ln" points="640.5,520.5 640.5,554.5"/>
<polyline class="ln" points="528.5,533.5 528.5,640.5"/>
<polyline class="ln" points="520.5,533.5 520.5,566.5"/>
<polyline class="ln" points="544.5,538.5 544.5,578.5"/>
<polyline class="ln" points="484.5,548.5 484.5,610.5"/>
<polyline class="ln" points="624.5,586.5 624.5,618.5"/>
<polyline class="ln" points="655.5,588.5 655.5,608.5"/>
<polyline class="ln" points="606.5,608.5 606.5,673.5"/>
<polyline class="ln" points="671.5,608.5 671.5,653.5"/>
<polyline class="ln" points="662.5,609.5 662.5,625.5"/>
<polyline class="ln" points="585.5,633.5 585.5,690.5"/>
<polyline class="ln" points="591.5,608.5 591.5,634.5"/>
<polyline class="ln" points="576.5,598.5 576.5,629.5"/>
<polyline class="ln" points="464.5,618.5 464.5,690.5"/>
<polyline class="ln" points="488.5,621.5 488.5,656.5"/>
<polyline class="ln" points="496.5,632.5 496.5,690.5"/>
<polyline class="ln" points="504.5,640.5 504.5,664.5"/>
<polyline class="ln" points="512.5,617.5 512.5,664.5"/>
<polyline class="ln" points="520.5,625.5 520.5,640.5"/>
<polyline class="ln" points="540.5,656.5 540.5,664.5"/>
<polyline class="ln" points="544.5,621.5 544.5,664.5"/>
<polyline class="ln" points="558.5,656.5 558.5,690.5"/>
<polyline class="ln" points="623.5,656.5 623.5,681.5"/>
<polyline class="ln" points="480.5,656.5 480.5,690.5"/>
<polyline class="ln" points="473.5,672.5 473.5,690.5"/>
<polyline class="ln" points="591.5,669.5 591.5,690.5"/>
<polyline class="ln" points="591.5,608.5 680.5,608.5"/>
<polyline class="ln" points="460.5,562.5 485.5,562.5"/>
<polyline class="ln" points="460.5,577.5 485.5,577.5"/>
<polyline class="ln" points="480.5,547.5 504.5,547.5"/>
<polyline class="ln" points="460.5,640.5 528.5,640.5"/>
<polyline class="ln" points="464.5,632.5 497.5,632.5"/>
<polyline class="ln" points="460.5,656.5 504.5,656.5"/>
<polyline class="ln" points="585.5,656.5 606.5,656.5"/>
<polyline class="ln" points="504.5,664.5 558.5,664.5"/>
<polyline class="ln" points="460.5,672.5 480.5,672.5"/>
<polyline class="ln" points="529.5,656.5 540.5,656.5"/>
<polyline class="ln" points="528.5,537.5 544.5,537.5"/>
<polyline class="ln" points="528.5,553.5 540.5,553.5"/>
<polyline class="ln" points="577.5,612.5 591.5,612.5"/>
<polyline class="ln" points="513.5,616.5 528.5,616.5"/>
<polyline class="ln" points="480.5,680.5 504.5,680.5"/>
<polyline class="ln" points="575.5,540.5 580.5,536.5 590.5,532.5 597.5,526.5 596.5,521.5 589.5,520.5"/>
<polyline class="ln" points="575.5,540.5 566.5,546.5 562.5,553.5 558.5,562.5 553.5,572.5 545.5,578.5 534.5,585.5 526.5,590.5 520.5,598.5"/>
<polyline class="ln" points="520.5,598.5 524.5,605.5 529.5,612.5 537.5,616.5 546.5,620.5 561.5,623.5 576.5,628.5 585.5,633.5 591.5,634.5"/>
<polyline class="ln" points="496.5,548.5 545.5,578.5"/>
<polyline class="ln" points="546.5,620.5 548.5,626.5 550.5,633.5 553.5,642.5 558.5,648.5 570.5,649.5 582.5,645.5 590.5,637.5 591.5,634.5 606.5,628.5 614.5,624.5 622.5,620.5 630.5,619.5 638.5,621.5 648.5,630.5 652.5,641.5 660.5,649.5 671.5,652.5 680.5,658.5"/>
<polyline class="ln" points="640.5,554.5 632.5,554.5 632.5,560.5 640.5,560.5 640.5,568.5 625.5,568.5 625.5,574.5 613.5,578.5"/>
<polyline class="ln" points="655.5,592.5 670.5,592.5 673.5,594.5 680.5,592.5"/>
<polyline class="ln" points="485.5,610.5 489.5,618.5 493.5,626.5 500.5,634.5 513.5,638.5"/>
<polyline class="ln" points="493.5,589.5 496.5,580.5 504.5,572.5 516.5,573.5 517.5,589.5 493.5,589.5"/>
<polyline class="ln" points="493.5,589.5 494.5,597.5 493.5,609.5"/>
<polyline class="ln" points="494.5,608.5 504.5,613.5 513.5,615.5 528.5,614.5"/>
<polyline class="ln" points="516.5,573.5 524.5,573.5 524.5,586.5 520.5,598.5"/>
<polyline class="ln" points="517.5,589.5 520.5,598.5"/>
<polyline class="ln" points="460.5,598.5 470.5,598.5 484.5,592.5"/>
<polyline class="ln" points="460.5,608.5 484.5,609.5"/>
<polyline class="ln" points="558.5,648.5 558.5,656.5"/>
<polyline class="ln" points="584.5,645.5 582.5,656.5 585.5,665.5 593.5,669.5 606.5,673.5 623.5,681.5 633.5,686.5"/>
<polyline class="ln" points="623.5,656.5 640.5,656.5 649.5,641.5"/>
<polyline class="ln" points="640.5,656.5 641.5,664.5 644.5,673.5 648.5,681.5 660.5,682.5 668.5,666.5 680.5,666.5"/>
<polyline class="ln" points="640.5,649.5 649.5,656.5 660.5,661.5 680.5,666.5"/>
<polyline class="ln" points="500.5,669.5 528.5,685.5"/>
<polyline class="ln" points="505.5,674.5 518.5,682.5"/>
<polyline class="ln" points="460.5,528.5 470.5,537.5 480.5,537.5"/>
<polyline class="ln" points="480.5,528.5 480.5,546.5"/>
<polyline class="ln" points="624.5,465.5 612.5,476.5 603.5,481.5 594.5,491.5 586.5,501.5 583.5,509.5 587.5,517.5 590.5,520.5"/>
<polyline class="ln" points="655.5,464.5 646.5,477.5 644.5,481.5 644.5,489.5 640.5,493.5 639.5,495.5 639.5,520.5"/>
<polyline class="ln" points="680.5,592.5 682.5,591.5 686.5,585.5 686.5,573.5 689.5,569.5 692.5,572.5 703.5,573.5 718.5,574.5 718.5,584.5 729.5,584.5 729.5,577.5 738.5,569.5 750.5,563.5 765.5,560.5"/>
<polyline class="ln" points="680.5,608.5 766.5,608.5"/>
<polyline class="ln" points="671.5,608.5 671.5,652.5"/>
<polyline class="ln" points="585.5,646.5 585.5,770.5"/>
<polyline class="ln" points="591.5,672.5 591.5,770.5"/>
<polyline class="ln" points="606.5,626.5 606.5,662.5"/>
<polyline class="ln" points="608.5,688.5 608.5,712.5"/>
<polyline class="ln" points="623.5,657.5 623.5,681.5"/>
<polyline class="ln" points="623.5,745.5 623.5,766.5"/>
<polyline class="ln" points="654.5,701.5 654.5,758.5"/>
<polyline class="ln" points="686.5,720.5 686.5,770.5"/>
<polyline class="ln" points="639.5,752.5 639.5,766.5"/>
<polyline class="ln" points="608.5,758.5 608.5,770.5"/>
<polyline class="ln" points="592.5,688.5 608.5,688.5"/>
<polyline class="ln" points="623.5,656.5 640.5,656.5"/>
<polyline class="ln" points="608.5,766.5 639.5,766.5"/>
<polyline class="ln" points="740.5,609.5 734.5,613.5 727.5,613.5 722.5,620.5 716.5,625.5 711.5,620.5 703.5,617.5 696.5,618.5 690.5,620.5 687.5,624.5 687.5,634.5 683.5,640.5 683.5,646.5 687.5,649.5 684.5,656.5 682.5,660.5"/>
<polyline class="ln" points="674.5,653.5 682.5,660.5 690.5,665.5 703.5,666.5 716.5,665.5 730.5,662.5 740.5,662.5"/>
<polyline class="ln" points="633.5,686.5 639.5,692.5 655.5,701.5 687.5,720.5 716.5,737.5 740.5,752.5"/>
<polyline class="ln" points="639.5,692.5 634.5,698.5 610.5,725.5"/>
<polyline class="ln" points="640.5,656.5 642.5,652.5 640.5,649.5 650.5,641.5"/>
<polyline class="ln" points="642.5,657.5 650.5,656.5 656.5,661.5 668.5,665.5 682.5,666.5 668.5,666.5 663.5,681.5 656.5,682.5 647.5,682.5 647.5,676.5 642.5,672.5 641.5,666.5 642.5,657.5"/>
<polyline class="ln" points="598.5,733.5 598.5,745.5 591.5,745.5 591.5,736.5 598.5,735.5 603.5,734.5 607.5,736.5 607.5,741.5 603.5,742.5 603.5,745.5 598.5,745.5"/>
<polyline class="ln" points="584.5,726.5 587.5,724.5 598.5,723.5 599.5,725.5 608.5,725.5"/>
<polyline class="ln" points="740.5,662.5 741.5,770.5"/>
<polyline class="ln" points="585.5,724.5 585.5,847.5"/>
<polyline class="ln" points="639.5,752.5 639.5,847.5"/>
<polyline class="ln" points="608.5,768.5 608.5,815.5"/>
<polyline class="ln" points="591.5,760.5 591.5,776.5"/>
<polyline class="ln" points="623.5,748.5 623.5,767.5"/>
<polyline class="ln" points="654.5,702.5 654.5,758.5"/>
<polyline class="ln" points="686.5,720.5 686.5,773.5"/>
<polyline class="ln" points="560.5,769.5 560.5,784.5"/>
<polyline class="ln" points="512.5,769.5 512.5,784.5"/>
<polyline class="ln" points="584.5,776.5 608.5,776.5"/>
<polyline class="ln" points="512.5,784.5 560.5,784.5"/>
<polyline class="ln" points="608.5,768.5 638.5,767.5"/>
<polyline class="ln" points="584.5,816.5 608.5,815.5"/>
<polyline class="ln" points="614.5,742.5 640.5,754.5 670.5,768.5 690.5,776.5 703.5,781.5 718.5,785.5 742.5,786.5"/>
<polyline class="ln" points="502.5,769.5 512.5,769.5"/>
<polyline class="ln" points="213.5,672.5 240.5,672.5"/>
<polyline class="ln" points="213.5,680.5 280.5,680.5"/>
<polyline class="ln" points="213.5,688.5 280.5,688.5"/>
<polyline class="ln" points="214.5,696.5 248.5,696.5"/>
<polyline class="ln" points="255.5,696.5 280.5,696.5"/>
<polyline class="ln" points="213.5,704.5 291.5,704.5"/>
<polyline class="ln" points="231.5,672.5 231.5,724.5"/>
<polyline class="ln" points="247.5,680.5 247.5,704.5"/>
<polyline class="ln" points="255.5,688.5 255.5,704.5"/>
<polyline class="ln" points="263.5,680.5 263.5,696.5"/>
<polyline class="ln" points="280.5,664.5 280.5,704.5"/>
<polyline class="ln" points="291.5,664.5 291.5,705.5"/>
<polyline class="ln" points="223.5,657.5 223.5,672.5"/>
<polyline class="ln" points="271.5,696.5 271.5,704.5"/>
<polyline class="ln" points="250.5,672.5 250.5,680.5"/>
<polyline class="ln" points="255.5,660.5 255.5,680.5"/>
<polyline class="ln" points="259.5,660.5 259.5,680.5"/>
<polyline class="ln" points="214.5,657.5 224.5,657.5 231.5,657.5 239.5,658.5"/>
<polyline class="ln" points="265.5,656.5 272.5,656.5 272.5,664.5 296.5,664.5 296.5,648.5 288.5,648.5 288.5,640.5"/>
<polyline class="ln" points="270.5,641.5 292.5,664.5"/>
<polyline class="ln" points="217.5,720.5 230.5,725.5 249.5,731.5 255.5,740.5 263.5,753.5 266.5,755.5 278.5,755.5 284.5,751.5 290.5,730.5 291.5,721.5 300.5,717.5 310.5,708.5 318.5,699.5 325.5,692.5 330.5,689.5"/>
<polyline class="ln" points="291.5,705.5 295.5,712.5 300.5,717.5 305.5,725.5 313.5,732.5 312.5,745.5 305.5,741.5 300.5,745.5 300.5,751.5 295.5,751.5 291.5,748.5 285.5,751.5"/>
<polyline class="ln" points="295.5,751.5 297.5,757.5 298.5,762.5 289.5,763.5 288.5,760.5 278.5,756.5"/>
<polyline class="ln" points="295.5,751.5 327.5,751.5 327.5,756.5 320.5,757.5 320.5,759.5 298.5,759.5"/>
<polyline class="ln" points="300.5,751.5 320.5,751.5 320.5,747.5 312.5,745.5"/>
<polyline class="ln" points="229.5,725.5 231.5,716.5 230.5,704.5"/>
<polyline class="ln" points="223.5,713.5 228.5,713.5 223.5,713.5"/>
<polyline class="ln" points="239.5,658.5 240.5,665.5 239.5,672.5"/>
<polyline class="ln" points="416.5,657.5 416.5,686.5"/>
<polyline class="ln" points="432.5,657.5 432.5,749.5"/>
<polyline class="ln" points="448.5,656.5 448.5,736.5"/>
<polyline class="ln" points="464.5,656.5 464.5,744.5"/>
<polyline class="ln" points="480.5,672.5 480.5,720.5"/>
<polyline class="ln" points="496.5,672.5 496.5,742.5"/>
<polyline class="ln" points="504.5,670.5 504.5,684.5"/>
<polyline class="ln" points="512.5,640.5 512.5,664.5"/>
<polyline class="ln" points="512.5,684.5 512.5,736.5"/>
<polyline class="ln" points="528.5,640.5 528.5,702.5"/>
<polyline class="ln" points="528.5,720.5 528.5,736.5"/>
<polyline class="ln" points="544.5,700.5 544.5,736.5"/>
<polyline class="ln" points="558.5,656.5 558.5,704.5"/>
<polyline class="ln" points="560.5,768.5 560.5,784.5"/>
<polyline class="ln" points="585.5,640.5 585.5,810.5"/>
<polyline class="ln" points="591.5,670.5 591.5,776.5"/>
<polyline class="ln" points="608.5,686.5 608.5,712.5"/>
<polyline class="ln" points="608.5,760.5 608.5,810.5"/>
<polyline class="ln" points="440.5,704.5 440.5,720.5"/>
<polyline class="ln" points="472.5,800.5 472.5,810.5"/>
<polyline class="ln" points="449.5,800.5 449.5,810.5"/>
<polyline class="ln" points="496.5,786.5 496.5,810.5"/>
<polyline class="ln" points="416.5,656.5 512.5,656.5"/>
<polyline class="ln" points="584.5,656.5 607.5,656.5"/>
<polyline class="ln" points="416.5,665.5 480.5,665.5"/>
<polyline class="ln" points="512.5,664.5 544.5,664.5"/>
<polyline class="ln" points="480.5,680.5 504.5,680.5"/>
<polyline class="ln" points="409.5,688.5 496.5,688.5"/>
<polyline class="ln" points="592.5,688.5 607.5,688.5"/>
<polyline class="ln" points="410.5,704.5 496.5,704.5"/>
<polyline class="ln" points="512.5,704.5 528.5,704.5"/>
<polyline class="ln" points="432.5,720.5 584.5,720.5"/>
<polyline class="ln" points="496.5,736.5 584.5,736.5"/>
<polyline class="ln" points="559.5,768.5 584.5,768.5"/>
<polyline class="ln" points="496.5,784.5 559.5,784.5"/>
<polyline class="ln" points="584.5,776.5 607.5,776.5"/>
<polyline class="ln" points="437.5,800.5 496.5,800.5"/>
<polyline class="ln" points="528.5,656.5 540.5,656.5"/>
<polyline class="ln" points="432.5,748.5 464.5,745.5 496.5,742.5"/>
<polyline class="ln" points="432.5,736.5 464.5,735.5 496.5,735.5"/>
<polyline class="ln" points="497.5,669.5 513.5,677.5 528.5,686.5"/>
<polyline class="ln" points="545.5,700.5 553.5,705.5 574.5,719.5"/>
<polyline class="ln" points="400.5,686.5 408.5,689.5 410.5,704.5 408.5,720.5 417.5,722.5 422.5,729.5 426.5,741.5 430.5,749.5"/>
<polyline class="ln" points="408.5,720.5 412.5,712.5 417.5,708.5 428.5,712.5 428.5,718.5 432.5,719.5"/>
<polyline class="ln" points="400.5,666.5 408.5,657.5 413.5,645.5"/>
<polyline class="ln" points="540.5,656.5 540.5,664.5"/>
<polyline class="ln" points="558.5,656.5 558.5,664.5"/>
<polyline class="ln" points="512.5,769.5 502.5,769.5 496.5,773.5 490.5,776.5 488.5,777.5 482.5,773.5 480.5,776.5"/>
<polyline class="ln" points="512.5,768.5 512.5,784.5"/>
<polyline class="ln" points="440.5,785.5 449.5,786.5 456.5,781.5 461.5,776.5 469.5,776.5 472.5,769.5"/>
<polyline class="ln" points="592.5,736.5 598.5,735.5 604.5,733.5 608.5,736.5 607.5,741.5 600.5,745.5 592.5,744.5"/>
<polyline class="ln" points="584.5,744.5 592.5,745.5"/>
<polyline class="ln" points="602.5,720.5 620.5,714.5"/>
<polyline class="ln" points="608.5,726.5 620.5,744.5"/>
<polyline class="ln" points="432.5,720.5 432.5,749.5"/>
<polyline class="ln" points="448.5,720.5 448.5,736.5"/>
<polyline class="ln" points="464.5,720.5 464.5,735.5"/>
<polyline class="ln" points="512.5,720.5 512.5,735.5"/>
<polyline class="ln" points="528.5,720.5 528.5,736.5"/>
<polyline class="ln" points="449.5,800.5 449.5,823.5"/>
<polyline class="ln" points="472.5,770.5 472.5,816.5"/>
<polyline class="ln" points="464.5,816.5 464.5,823.5"/>
<polyline class="ln" points="436.5,800.5 508.5,800.5"/>
<polyline class="ln" points="449.5,816.5 512.5,816.5"/>
<polyline class="ln" points="496.5,784.5 535.5,784.5"/>
<polyline class="ln" points="433.5,731.5 441.5,731.5 441.5,728.5 440.5,727.5 440.5,720.5"/>
<polyline class="ln" points="432.5,735.5 439.5,735.5 439.5,737.5 448.5,736.5 464.5,735.5"/>
<polyline class="ln" points="432.5,748.5 465.5,744.5 496.5,741.5 496.5,720.5"/>
<polyline class="ln" points="464.5,735.5 465.5,744.5"/>
<polyline class="ln" points="465.5,727.5 484.5,727.5 489.5,733.5 496.5,735.5 535.5,736.5"/>
<polyline class="ln" points="407.5,720.5 410.5,724.5 417.5,726.5 421.5,730.5 426.5,740.5 430.5,749.5"/>
<polyline class="ln" points="481.5,774.5 483.5,773.5 488.5,775.5 493.5,774.5 498.5,771.5 503.5,769.5 512.5,769.5 512.5,784.5"/>
<polyline class="ln" points="482.5,772.5 488.5,778.5 496.5,785.5 504.5,794.5 512.5,807.5 520.5,818.5 526.5,831.5 529.5,847.5"/>
<polyline class="ln" points="512.5,807.5 512.5,833.5"/>
<polyline class="ln" points="496.5,829.5 504.5,826.5 512.5,826.5"/>
<polyline class="ln" points="496.5,816.5 496.5,829.5 512.5,833.5"/>
<polyline class="ln" points="448.5,788.5 454.5,786.5 460.5,782.5 462.5,777.5 470.5,774.5 472.5,769.5"/>
<polyline class="ln" points="254.5,740.5 262.5,753.5 266.5,755.5 278.5,755.5 283.5,753.5 287.5,740.5"/>
<polyline class="ln" points="278.5,755.5 288.5,761.5 288.5,763.5 297.5,763.5 298.5,761.5 295.5,752.5 291.5,748.5 283.5,753.5"/>
<polyline class="ln" points="295.5,752.5 327.5,751.5 327.5,756.5 321.5,757.5 320.5,759.5 298.5,759.5"/>
<polyline class="ln" points="299.5,751.5 300.5,745.5 305.5,741.5 312.5,744.5 320.5,747.5 321.5,751.5"/>
<polyline class="ln" points="304.5,804.5 304.5,848.5"/>
<polyline class="ln" points="281.5,823.5 304.5,823.5"/>
<polyline class="ln" points="288.5,837.5 292.5,837.5 292.5,835.5 304.5,835.5"/>
<polyline class="ln" points="289.5,823.5 289.5,814.5 304.5,804.5"/>
<polyline class="ln" points="305.5,812.5 315.5,812.5"/>
<polyline class="ln" points="264.5,794.5 257.5,802.5 249.5,811.5 244.5,817.5 239.5,823.5"/>
<polyline class="ln" points="265.5,795.5 258.5,802.5 250.5,811.5 245.5,817.5 240.5,823.5"/>
<polyline class="ln" points="279.5,825.5 269.5,835.5 258.5,844.5"/>
<polyline class="ln" points="480.5,500.5 480.5,526.5 480.5,540.5"/>
<polyline class="ln" points="514.5,465.5 518.5,470.5 517.5,475.5 520.5,483.5 518.5,490.5 519.5,497.5 518.5,504.5 520.5,506.5 517.5,510.5 518.5,518.5 519.5,522.5 517.5,527.5 516.5,532.5 514.5,540.5 513.5,545.5"/>
<polyline class="ln" points="504.5,502.5 508.5,504.5 512.5,508.5 514.5,513.5 513.5,519.5 510.5,525.5 509.5,530.5"/>
<polyline class="ln" points="504.5,502.5 503.5,508.5 505.5,514.5 504.5,520.5 504.5,528.5"/>
<polyline class="ln" points="481.5,513.5 486.5,513.5 489.5,516.5 495.5,517.5 500.5,523.5 504.5,528.5 509.5,530.5 519.5,528.5"/>
<polyline class="ln" points="489.5,516.5 488.5,525.5 490.5,530.5 489.5,536.5 491.5,540.5 491.5,548.5"/>
<polyline class="ln" points="480.5,547.5 486.5,547.5 495.5,548.5 504.5,556.5 512.5,560.5 520.5,567.5"/>
<polyline class="ln" points="496.5,538.5 498.5,540.5 505.5,539.5 504.5,545.5 499.5,550.5"/>
<polyline class="ln" points="430.5,532.5 430.5,554.5 449.5,554.5 449.5,535.5"/>
<polyline class="ln" points="430.5,554.5 431.5,567.5"/>
<polyline class="ln" points="447.5,554.5 448.5,567.5"/>
<polyline class="ln" points="459.5,554.5 459.5,567.5"/>
<polyline class="ln" points="484.5,547.5 484.5,567.5"/>
<polyline class="ln" points="442.5,533.5 441.5,538.5 439.5,544.5 440.5,550.5 443.5,552.5 447.5,550.5 448.5,545.5 446.5,539.5 444.5,533.5"/>
<polyline class="ln" points="376.5,494.5 376.5,518.5"/>
<polyline class="ln" points="370.5,504.5 376.5,504.5 391.5,504.5"/>
<polyline class="ln" points="376.5,496.5 390.5,496.5 395.5,497.5"/>
<polyline class="ln" points="448.5,623.5 448.5,656.5"/>
<polyline class="ln" points="456.5,628.5 456.5,656.5"/>
<polyline class="ln" points="464.5,616.5 464.5,656.5"/>
<polyline class="ln" points="488.5,623.5 488.5,656.5"/>
<polyline class="ln" points="496.5,632.5 496.5,656.5"/>
<polyline class="ln" points="448.5,640.5 504.5,640.5"/>
<polyline class="ln" points="464.5,632.5 496.5,632.5"/>
<polyline class="ln" points="448.5,624.5 455.5,624.5 456.5,628.5 464.5,628.5"/>
<polyline class="ln" points="464.5,616.5 483.5,615.5"/>
<polyline class="ln" points="429.5,590.5 425.5,595.5 418.5,599.5 413.5,604.5 406.5,609.5 403.5,612.5 397.5,616.5 388.5,624.5 384.5,628.5"/>
<polyline class="ln" points="389.5,637.5 393.5,633.5 401.5,624.5"/>
<polyline class="ln" points="415.5,638.5 420.5,633.5 423.5,629.5 428.5,622.5 433.5,614.5 437.5,610.5"/>
<polyline class="ln" points="386.5,593.5 391.5,600.5 395.5,604.5 402.5,612.5 407.5,618.5 411.5,622.5 418.5,629.5 420.5,633.5"/>
<polyline class="ln" points="405.5,596.5 413.5,604.5 418.5,610.5 425.5,618.5 427.5,622.5"/>
<polyline class="ln" points="406.5,609.5 411.5,615.5 417.5,621.5 423.5,629.5"/>
<polyline class="ln" points="397.5,616.5 401.5,624.5 407.5,628.5"/>
<polyline class="ln" points="387.5,625.5 393.5,632.5 394.5,634.5"/>
<polyline class="ln" points="382.5,629.5 389.5,637.5"/>
<polyline class="ln" points="413.5,617.5 418.5,622.5 422.5,626.5"/>
<polyline class="ln" points="394.5,634.5 410.5,634.5 411.5,636.5 414.5,637.5"/>
<polyline class="ln" points="382.5,606.5 382.5,616.5 383.5,622.5 382.5,629.5"/>
<polyline class="ln" points="373.5,615.5 382.5,616.5"/>
<polyline class="ln" points="345.5,595.5 351.5,596.5 358.5,600.5 361.5,608.5 362.5,606.5"/>
<polyline class="ln" points="362.5,586.5 362.5,623.5"/>
<polyline class="ln" points="407.5,624.5 410.5,622.5 413.5,626.5 409.5,629.5 407.5,626.5"/>
<polyline class="ln" points="271.5,562.5 271.5,578.5"/>
<polyline class="ln" points="282.5,534.5 282.5,578.5"/>
<polyline class="ln" points="289.5,558.5 289.5,586.5"/>
<polyline class="ln" points="288.5,586.5 288.5,615.5"/>
<polyline class="ln" points="298.5,534.5 298.5,569.5"/>
<polyline class="ln" points="296.5,578.5 296.5,586.5"/>
<polyline class="ln" points="296.5,603.5 296.5,611.5"/>
<polyline class="ln" points="300.5,578.5 300.5,595.5"/>
<polyline class="ln" points="306.5,538.5 306.5,569.5"/>
<polyline class="ln" points="313.5,546.5 313.5,562.5"/>
<polyline class="ln" points="313.5,569.5 313.5,576.5"/>
<polyline class="ln" points="312.5,586.5 312.5,615.5"/>
<polyline class="ln" points="302.5,595.5 302.5,615.5"/>
<polyline class="ln" points="316.5,530.5 316.5,546.5"/>
<polyline class="ln" points="322.5,546.5 322.5,562.5"/>
<polyline class="ln" points="322.5,562.5 322.5,576.5"/>
<polyline class="ln" points="323.5,576.5 323.5,582.5"/>
<polyline class="ln" points="322.5,591.5 322.5,599.5"/>
<polyline class="ln" points="324.5,599.5 324.5,615.5"/>
<polyline class="ln" points="329.5,563.5 329.5,582.5"/>
<polyline class="ln" points="331.5,532.5 331.5,546.5"/>
<polyline class="ln" points="351.5,532.5 351.5,596.5"/>
<polyline class="ln" points="363.5,543.5 363.5,563.5"/>
<polyline class="ln" points="362.5,586.5 362.5,615.5"/>
<polyline class="ln" points="344.5,607.5 344.5,615.5"/>
<polyline class="ln" points="298.5,547.5 336.5,547.5"/>
<polyline class="ln" points="298.5,555.5 336.5,555.5"/>
<polyline class="ln" points="262.5,562.5 372.5,562.5"/>
<polyline class="ln" points="282.5,569.5 313.5,569.5"/>
<polyline class="ln" points="314.5,576.5 322.5,576.5"/>
<polyline class="ln" points="271.5,578.5 301.5,578.5"/>
<polyline class="ln" points="314.5,582.5 336.5,582.5"/>
<polyline class="ln" points="276.5,586.5 311.5,586.5"/>
<polyline class="ln" points="336.5,584.5 351.5,584.5"/>
<polyline class="ln" points="336.5,591.5 351.5,591.5"/>
<polyline class="ln" points="270.5,595.5 311.5,595.5"/>
<polyline class="ln" points="312.5,599.5 336.5,599.5"/>
<polyline class="ln" points="270.5,603.5 312.5,603.5"/>
<polyline class="ln" points="336.5,608.5 347.5,608.5"/>
<polyline class="ln" points="302.5,609.5 324.5,609.5"/>
<polyline class="ln" points="270.5,611.5 302.5,611.5"/>
<polyline class="ln" points="336.5,543.5 351.5,543.5"/>
<polyline class="ln" points="351.5,543.5 372.5,543.5"/>
<polyline class="ln" points="362.5,557.5 372.5,557.5"/>
<polyline class="ln" points="306.5,538.5 316.5,538.5"/>
<polyline class="ln" points="301.5,578.5 307.5,583.5 312.5,586.5 318.5,590.5 323.5,594.5 328.5,596.5 336.5,596.5"/>
<polyline class="ln" points="313.5,582.5 320.5,583.5 326.5,586.5 331.5,590.5 336.5,595.5"/>
<polyline class="ln" points="336.5,595.5 340.5,596.5 348.5,601.5 355.5,606.5 362.5,611.5 372.5,615.5"/>
<polyline class="ln" points="301.5,570.5 304.5,571.5 306.5,574.5 302.5,575.5 301.5,578.5"/>
<polyline class="ln" points="351.5,570.5 358.5,571.5 362.5,572.5 362.5,576.5 367.5,576.5 372.5,580.5"/>
<polyline class="ln" points="351.5,584.5 360.5,585.5 361.5,586.5"/>
<polyline class="ln" points="271.5,578.5 270.5,583.5 269.5,586.5 270.5,590.5 270.5,615.5"/>
<polyline class="ln" points="270.5,583.5 275.5,583.5 276.5,586.5"/>
<polyline class="ln" points="351.5,532.5 351.5,563.5 350.5,571.5 351.5,585.5 351.5,598.5"/>
<polyline class="ln" points="337.5,542.5 351.5,543.5 362.5,543.5 379.5,543.5 383.5,543.5 385.5,542.5 391.5,541.5"/>
<polyline class="ln" points="337.5,549.5 351.5,549.5"/>
<polyline class="ln" points="337.5,562.5 351.5,562.5 360.5,563.5 362.5,562.5 369.5,562.5 375.5,565.5 378.5,565.5"/>
<polyline class="ln" points="337.5,584.5 351.5,584.5"/>
<polyline class="ln" points="337.5,591.5 351.5,591.5"/>
<polyline class="ln" points="363.5,543.5 363.5,557.5 363.5,562.5 362.5,564.5"/>
<polyline class="ln" points="379.5,543.5 379.5,565.5"/>
<polyline class="ln" points="363.5,557.5 379.5,557.5 387.5,557.5 387.5,553.5 389.5,552.5 392.5,554.5"/>
<polyline class="ln" points="378.5,565.5 381.5,567.5 387.5,567.5 391.5,570.5 394.5,571.5 396.5,571.5"/>
<polyline class="ln" points="378.5,565.5 379.5,570.5 381.5,575.5 385.5,580.5 389.5,583.5 393.5,585.5 399.5,586.5 403.5,584.5 408.5,581.5 415.5,577.5"/>
<polyline class="ln" points="350.5,571.5 362.5,572.5 362.5,576.5 366.5,577.5 372.5,582.5 378.5,587.5 375.5,590.5 374.5,597.5 379.5,598.5 382.5,601.5 382.5,610.5"/>
<polyline class="ln" points="379.5,577.5 380.5,585.5 378.5,587.5"/>
<polyline class="ln" points="380.5,585.5 385.5,587.5 390.5,589.5 386.5,593.5 391.5,599.5 395.5,604.5 399.5,609.5"/>
<polyline class="ln" points="399.5,586.5 401.5,591.5 405.5,596.5 411.5,603.5 417.5,609.5"/>
<polyline class="ln" points="429.5,589.5 421.5,596.5 413.5,604.5 407.5,610.5"/>
<polyline class="ln" points="383.5,606.5 391.5,599.5 401.5,599.5 405.5,596.5"/>
<polyline class="ln" points="351.5,586.5 362.5,586.5 362.5,598.5 351.5,598.5"/>
<polyline class="ln" points="361.5,598.5 375.5,599.5"/>
<polyline class="ln" points="429.5,589.5 431.5,591.5 439.5,593.5 443.5,598.5"/>
<polyline class="ln" points="441.5,531.5 442.5,538.5 439.5,545.5 441.5,551.5 445.5,552.5"/>
<polyline class="ln" points="426.5,592.5 426.5,609.5 443.5,609.5 443.5,598.5"/>
<polyline class="ln" points="340.5,595.5 348.5,601.5 355.5,607.5 358.5,610.5"/>
<polyline class="ln" points="347.5,601.5 347.5,607.5"/>
<polyline class="ln" points="205.5,548.5 200.5,546.5 194.5,545.5 188.5,544.5 182.5,544.5 176.5,544.5 172.5,547.5 168.5,551.5 165.5,554.5 164.5,560.5 166.5,563.5 165.5,566.5 167.5,566.5 170.5,571.5 173.5,575.5 176.5,579.5 177.5,586.5 178.5,590.5 183.5,596.5 187.5,600.5 191.5,603.5 195.5,606.5 199.5,609.5 201.5,613.5 209.5,613.5 209.5,618.5 207.5,624.5 205.5,629.5 203.5,635.5 203.5,640.5 203.5,645.5 207.5,646.5 215.5,648.5 215.5,650.5 209.5,650.5 200.5,649.5 200.5,650.5 208.5,652.5 214.5,654.5 214.5,657.5 210.5,659.5 209.5,662.5 211.5,666.5 212.5,672.5 213.5,680.5 213.5,688.5 214.5,694.5 213.5,704.5 213.5,709.5 209.5,711.5 209.5,713.5 216.5,714.5 217.5,720.5 217.5,726.5 219.5,732.5 220.5,737.5 218.5,739.5 219.5,743.5 223.5,748.5 225.5,753.5 225.5,759.5 225.5,757.5 230.5,762.5 234.5,766.5 240.5,771.5 239.5,778.5 245.5,782.5 251.5,787.5 257.5,791.5 264.5,794.5 269.5,797.5 273.5,799.5 275.5,805.5 278.5,810.5 283.5,811.5 281.5,816.5 280.5,821.5 279.5,825.5 281.5,826.5 285.5,831.5 287.5,836.5 288.5,848.5 328.5,848.5 328.5,840.5 326.5,832.5 323.5,827.5 317.5,824.5 313.5,821.5 313.5,818.5 315.5,813.5 318.5,805.5 321.5,798.5 325.5,797.5 330.5,793.5 335.5,789.5 339.5,786.5 343.5,783.5 350.5,780.5 358.5,778.5 365.5,776.5 370.5,775.5 380.5,773.5 390.5,769.5 400.5,765.5 410.5,761.5 418.5,758.5 424.5,758.5 427.5,754.5 430.5,752.5 432.5,750.5 440.5,751.5 449.5,752.5 453.5,755.5 462.5,760.5 456.5,763.5 454.5,768.5 455.5,775.5 454.5,780.5 450.5,784.5 446.5,787.5 442.5,788.5 441.5,784.5 442.5,782.5 440.5,782.5 435.5,787.5 434.5,790.5 436.5,796.5 437.5,801.5 439.5,807.5 442.5,813.5 444.5,819.5 448.5,823.5 455.5,823.5 465.5,823.5 473.5,822.5 480.5,823.5 488.5,826.5 496.5,829.5 504.5,832.5 512.5,836.5 520.5,841.5 527.5,846.5 528.5,847.5 743.5,846.5 742.5,764.5 741.5,708.5 740.5,662.5 754.5,661.5 763.5,664.5 766.5,663.5 768.5,658.5 768.5,654.5 766.5,652.5 766.5,608.5 766.5,575.5 765.5,560.5 776.5,559.5 776.5,507.5 775.5,462.5 639.5,463.5"/>
<polyline class="ln" points="163.5,489.5 162.5,486.5 160.5,479.5 162.5,474.5 159.5,469.5 161.5,468.5 160.5,463.5 157.5,465.5 155.5,461.5 151.5,458.5 149.5,454.5 149.5,450.5 148.5,444.5 143.5,442.5 145.5,437.5 150.5,438.5 157.5,433.5 157.5,437.5 160.5,439.5 163.5,433.5 168.5,427.5 170.5,421.5 173.5,418.5 174.5,414.5 177.5,410.5 180.5,404.5 182.5,398.5 186.5,392.5 187.5,386.5 187.5,380.5 187.5,385.5 184.5,375.5 182.5,355.5 179.5,333.5 179.5,323.5 280.5,322.5 280.5,251.5 407.5,250.5 407.5,243.5 392.5,226.5 404.5,224.5 490.5,224.5 510.5,222.5 567.5,222.5 572.5,227.5 578.5,243.5 586.5,250.5 594.5,256.5 602.5,260.5 616.5,258.5 632.5,257.5 635.5,260.5 637.5,275.5 645.5,293.5 650.5,309.5 658.5,318.5 676.5,325.5 687.5,333.5 691.5,343.5 687.5,361.5 678.5,383.5 670.5,395.5 667.5,417.5 658.5,435.5 647.5,455.5 638.5,463.5 630.5,465.5 626.5,465.5 564.5,466.5 516.5,465.5 480.5,465.5 480.5,500.5 479.5,506.5 473.5,506.5 472.5,516.5 471.5,522.5 466.5,522.5 466.5,515.5 460.5,515.5 459.5,514.5 454.5,514.5 452.5,515.5 444.5,515.5"/>
</g>

</g>
<!-- MAP2 -->
<g class="map" id="map2016">
<g transform="translate(803,-2)">
<g>
<polygon class="c2" points="205.5,548.5 200.5,546.5 194.5,545.5 188.5,544.5 182.5,544.5 176.5,544.5 172.5,547.5 168.5,551.5 165.5,554.5 164.5,560.5 166.5,563.5 165.5,566.5 167.5,566.5 170.5,571.5 173.5,575.5 176.5,579.5 177.5,586.5 178.5,590.5 183.5,596.5 187.5,600.5 191.5,603.5 195.5,606.5 199.5,609.5 201.5,613.5 209.5,613.5 209.5,618.5 207.5,624.5 205.5,629.5 203.5,635.5 203.5,640.5 203.5,645.5 207.5,646.5 215.5,648.5 215.5,650.5 209.5,650.5 200.5,649.5 200.5,650.5 208.5,652.5 214.5,654.5 214.5,657.5 210.5,659.5 209.5,662.5 211.5,666.5 212.5,672.5 213.5,680.5 213.5,688.5 214.5,694.5 213.5,704.5 213.5,709.5 209.5,711.5 209.5,713.5 216.5,714.5 217.5,720.5 217.5,726.5 219.5,732.5 220.5,737.5 218.5,739.5 219.5,743.5 223.5,748.5 225.5,753.5 225.5,759.5 225.5,757.5 230.5,762.5 234.5,766.5 240.5,771.5 239.5,778.5 245.5,782.5 251.5,787.5 257.5,791.5 264.5,794.5 269.5,797.5 273.5,799.5 275.5,805.5 278.5,810.5 283.5,811.5 281.5,816.5 280.5,821.5 279.5,825.5 281.5,826.5 285.5,831.5 287.5,836.5 288.5,848.5 328.5,848.5 328.5,840.5 326.5,832.5 323.5,827.5 317.5,824.5 313.5,821.5 313.5,818.5 315.5,813.5 318.5,805.5 321.5,798.5 325.5,797.5 330.5,793.5 335.5,789.5 339.5,786.5 343.5,783.5 350.5,780.5 358.5,778.5 365.5,776.5 370.5,775.5 380.5,773.5 390.5,769.5 400.5,765.5 410.5,761.5 418.5,758.5 424.5,758.5 427.5,754.5 430.5,752.5 432.5,750.5 440.5,751.5 449.5,752.5 453.5,755.5 462.5,760.5 456.5,763.5 454.5,768.5 455.5,775.5 454.5,780.5 450.5,784.5 446.5,787.5 442.5,788.5 441.5,784.5 442.5,782.5 440.5,782.5 435.5,787.5 434.5,790.5 436.5,796.5 437.5,801.5 439.5,807.5 442.5,813.5 444.5,819.5 448.5,823.5 455.5,823.5 465.5,823.5 473.5,822.5 480.5,823.5 488.5,826.5 496.5,829.5 504.5,832.5 512.5,836.5 520.5,841.5 527.5,846.5 528.5,847.5 743.5,846.5 742.5,764.5 741.5,708.5 740.5,662.5 754.5,661.5 763.5,664.5 766.5,663.5 768.5,658.5 768.5,654.5 766.5,652.5 766.5,608.5 766.5,575.5 765.5,560.5 776.5,559.5 776.5,507.5 775.5,462.5 639.5,463.5 630.5,455.5 475.5,455.5 475.5,505.5 400.5,518.5 300.5,513.5 250.5,510.5 215.5,530.5 205.5,548.5"/>
<polygon class="c3" points="392.5,226.5 404.5,224.5 490.5,224.5 510.5,222.5 567.5,222.5 572.5,227.5 578.5,243.5 586.5,250.5 594.5,256.5 602.5,260.5 616.5,258.5 632.5,257.5 635.5,260.5 637.5,275.5 645.5,293.5 650.5,309.5 658.5,318.5 676.5,325.5 687.5,333.5 691.5,343.5 687.5,361.5 678.5,383.5 670.5,395.5 667.5,417.5 658.5,435.5 647.5,455.5 638.5,463.5 630.5,465.5 626.5,465.5 564.5,466.5 516.5,465.5 480.5,465.5 480.5,500.5 479.5,506.5 473.5,506.5 472.5,516.5 471.5,522.5 466.5,522.5 466.5,515.5 460.5,515.5 459.5,514.5 454.5,514.5 452.5,515.5 444.5,515.5 440.5,520.5 420.5,520.5 400.5,520.5 300.5,515.5 240.5,500.5 163.5,489.5 162.5,486.5 160.5,479.5 162.5,474.5 159.5,469.5 161.5,468.5 160.5,463.5 157.5,465.5 155.5,461.5 151.5,458.5 149.5,454.5 149.5,450.5 148.5,444.5 143.5,442.5 145.5,437.5 150.5,438.5 157.5,433.5 157.5,437.5 160.5,439.5 163.5,433.5 168.5,427.5 170.5,421.5 173.5,418.5 174.5,414.5 177.5,410.5 180.5,404.5 182.5,398.5 186.5,392.5 187.5,386.5 187.5,380.5 187.5,385.5 184.5,375.5 182.5,355.5 179.5,333.5 179.5,323.5 280.5,322.5 280.5,251.5 407.5,250.5 407.5,243.5"/>
<polygon class="c3" points="156.5,381.5 160.5,380.5 165.5,380.5 167.5,385.5 167.5,389.5 164.5,393.5 162.5,390.5 159.5,389.5 156.5,385.5"/>
<polygon class="c2 ns" points="271.5,533.5 267.5,532.5 262.5,530.5 259.5,529.5 257.5,527.5 261.5,525.5 265.5,525.5 269.5,525.5 270.5,522.5 266.5,520.5 261.5,517.5 257.5,512.5 254.5,508.5 251.5,506.5 247.5,508.5 243.5,511.5 241.5,516.5 240.5,520.5 241.5,525.5 245.5,528.5 247.5,531.5 249.5,533.5 251.5,535.5 253.5,540.5 275.5,540.5"/>
</g>
<g>
<polygon class="c4 ns" points="194.5,546.5 200.5,546.5 205.5,548.5 210.5,548.5 215.5,550.5 220.5,551.5 225.5,552.5 230.5,552.5 235.5,551.5 235.5,568.5 245.5,569.5 271.5,569.5 272.5,569.5 282.5,569.5 282.5,578.5 271.5,578.5 271.5,584.5 270.5,586.5 270.5,624.5 253.5,624.5 253.5,629.5 243.5,620.5 234.5,615.5 223.5,614.5 216.5,609.5 216.5,602.5 212.5,594.5 212.5,577.5 208.5,578.5 209.5,576.5 212.5,576.5 212.5,569.5 209.5,568.5 209.5,567.5 200.5,567.5 200.5,558.5 198.5,557.5 196.5,554.5 194.5,550.5"/>
<polygon class="c3 ns" points="336.5,608.5 362.5,608.5 362.5,624.5 349.5,621.5 336.5,622.5"/>
<polygon class="c3 ns" points="446.5,554.5 459.5,554.5 459.5,572.5 446.5,572.5"/>
<polygon class="c2 ns" points="328.5,405.5 366.5,404.5 366.5,406.5 363.5,411.5 363.5,421.5 358.5,423.5 358.5,433.5 359.5,435.5 354.5,441.5 351.5,450.5 354.5,455.5 350.5,461.5 351.5,466.5 348.5,470.5 352.5,475.5 351.5,483.5 347.5,490.5 343.5,495.5 344.5,502.5 346.5,505.5 339.5,510.5 336.5,518.5 335.5,524.5 329.5,524.5 328.5,507.5 332.5,499.5 336.5,491.5 340.5,483.5 343.5,475.5 340.5,466.5 329.5,449.5 328.5,446.5 328.5,438.5 326.5,431.5 327.5,425.5 326.5,418.5 329.5,411.5"/>
<polygon class="c2 ns" points="239.5,487.5 269.5,487.5 270.5,479.5 287.5,480.5 287.5,483.5 304.5,483.5 304.5,505.5 326.5,506.5 329.5,507.5 329.5,525.5 323.5,523.5 315.5,521.5 304.5,515.5 296.5,513.5 290.5,510.5 280.5,511.5 270.5,510.5 263.5,507.5 256.5,502.5 250.5,498.5 243.5,494.5 239.5,491.5"/>
<polygon class="c4 ns" points="163.5,433.5 158.5,442.5 156.5,450.5 159.5,455.5 165.5,454.5 170.5,456.5 168.5,460.5 168.5,464.5 160.5,463.5 161.5,468.5 159.5,469.5 162.5,474.5 160.5,479.5 162.5,486.5 163.5,489.5 166.5,488.5 167.5,485.5 171.5,484.5 172.5,481.5 176.5,478.5 181.5,480.5 186.5,478.5 190.5,477.5 194.5,479.5 198.5,480.5 202.5,478.5 207.5,478.5 212.5,482.5 217.5,482.5 231.5,487.5 269.5,488.5 269.5,480.5 269.5,437.5 265.5,434.5 265.5,405.5 218.5,405.5 202.5,405.5 181.5,404.5 177.5,410.5 174.5,414.5 173.5,418.5 170.5,421.5 168.5,427.5"/>
<polygon class="c3 ns" points="427.5,489.5 457.5,489.5 457.5,492.5 455.5,493.5 455.5,496.5 448.5,497.5 448.5,504.5 442.5,504.5 441.5,504.5 444.5,504.5 444.5,515.5 450.5,516.5 450.5,524.5 447.5,523.5 444.5,520.5 436.5,521.5 432.5,524.5 427.5,526.5 420.5,528.5 411.5,529.5 408.5,525.5 405.5,520.5 404.5,514.5 406.5,510.5 417.5,509.5 426.5,507.5 432.5,506.5 432.5,502.5 429.5,495.5 425.5,494.5"/>
<polygon class="c3 ns" points="460.5,547.5 484.5,547.5 484.5,590.5 470.5,598.5 460.5,597.5"/>
<polygon class="c3 ns" points="488.5,610.5 496.5,612.5 504.5,614.5 512.5,616.5 512.5,628.5 504.5,628.5 498.5,626.5 493.5,622.5 490.5,617.5"/>
<polygon class="c3 ns" points="511.5,616.5 528.5,615.5 528.5,640.5 521.5,640.5 520.5,625.5 512.5,624.5 512.5,626.5"/>
<polygon class="c3 ns" points="528.5,615.5 536.5,614.5 544.5,618.5 544.5,664.5 540.5,664.5 540.5,656.5 528.5,656.5"/>
<polygon class="c3 ns" points="557.5,648.5 570.5,649.5 582.5,646.5 582.5,688.5 560.5,688.5 559.5,657.5"/>
<polygon class="c3 ns" points="460.5,522.5 480.5,522.5 477.5,533.5 472.5,537.5 466.5,536.5 460.5,528.5"/>
<polygon class="c3 ns" points="497.5,520.5 504.5,520.5 502.5,525.5 498.5,525.5"/>
<polygon class="c3 ns" points="210.5,657.5 223.5,657.5 223.5,672.5 231.5,672.5 231.5,680.5 280.5,680.5 280.5,704.5 231.5,704.5 231.5,720.5 229.5,724.5 218.5,721.5 216.5,712.5 210.5,712.5 213.5,704.5 214.5,680.5 212.5,666.5"/>
<polygon class="c3 ns" points="282.5,823.5 289.5,822.5 289.5,815.5 304.5,812.5 314.5,813.5 313.5,820.5 320.5,826.5 326.5,834.5 329.5,848.5 288.5,848.5 286.5,836.5"/>
<polygon class="c3 ns" points="432.5,735.5 450.5,735.5 450.5,752.5 432.5,749.5"/>
<polygon class="c3 ns" points="435.5,787.5 442.5,782.5 449.5,788.5 449.5,822.5 440.5,816.5 437.5,800.5"/>
<polygon class="c3 ns" points="240.5,672.5 247.5,672.5 247.5,680.5 240.5,680.5"/>
<polygon class="c3 ns" points="450.5,747.5 464.5,744.5 496.5,742.5 497.5,738.5 544.5,737.5 552.5,741.5 562.5,736.5 585.5,736.5 585.5,847.5 529.5,847.5 526.5,830.5 520.5,816.5 512.5,804.5 520.5,800.5 520.5,784.5 560.5,784.5 560.5,769.5 512.5,769.5 502.5,769.5 490.5,774.5 482.5,773.5 480.5,778.5 484.5,784.5 488.5,800.5 472.5,800.5 472.5,770.5 470.5,774.5 463.5,776.5 460.5,782.5 455.5,785.5 450.5,787.5 448.5,788.5 446.5,787.5 450.5,784.5 454.5,780.5 455.5,775.5 454.5,768.5 456.5,763.5 462.5,760.5 453.5,755.5 449.5,752.5 440.5,751.5 432.5,750.5 432.5,748.5"/>
<polygon class="c3 ns" points="449.5,800.5 472.5,800.5 472.5,816.5 449.5,816.5"/>
<polygon class="c3 ns" points="449.5,816.5 464.5,816.5 490.5,818.5 496.5,826.5 510.5,832.5 512.5,828.5 504.5,827.5 490.5,822.5 464.5,823.5 449.5,824.5"/>
<polygon class="c3 ns" points="585.5,816.5 608.5,815.5 608.5,768.5 638.5,767.5 639.5,847.5 585.5,847.5"/>
<polygon class="c3 ns" points="654.5,701.5 686.5,720.5 687.5,773.5 670.5,768.5 655.5,759.5"/>
<polygon class="c3 ns" points="557.5,649.5 582.5,645.5 582.5,687.5 560.5,688.5 559.5,658.5"/>
<polygon class="c3 ns" points="528.5,615.5 544.5,617.5 545.5,660.5 540.5,664.5 540.5,656.5 528.5,656.5"/>
<polygon class="c3 ns" points="512.5,617.5 528.5,615.5 528.5,640.5 521.5,640.5 520.5,624.5 512.5,624.5"/>
<polygon class="c3 ns" points="489.5,611.5 510.5,617.5 512.5,628.5 498.5,626.5 492.5,619.5"/>
<polygon class="c3 ns" points="480.5,465.5 516.5,465.5 519.5,480.5 517.5,490.5 520.5,504.5 516.5,512.5 519.5,520.5 514.5,516.5 508.5,506.5 504.5,502.5 503.5,512.5 504.5,526.5 498.5,522.5 490.5,515.5 480.5,514.5 480.5,504.5"/>
<polygon class="c3 ns" points="459.5,555.5 484.5,550.5 484.5,562.5 459.5,562.5"/>
<polygon class="c3 ns" points="459.5,562.5 484.5,562.5 484.5,577.5 473.5,577.5 459.5,577.5"/>
<polygon class="c3 ns" points="473.5,577.5 484.5,577.5 484.5,590.5 472.5,597.5"/>
<polygon class="c3 ns" points="450.5,554.5 459.5,554.5 459.5,572.5 450.5,572.5"/>
<polygon class="c3 ns" points="450.5,514.5 460.5,514.5 460.5,522.5 472.5,522.5 472.5,530.5 480.5,528.5 476.5,538.5 470.5,540.5 462.5,530.5 450.5,524.5"/>
<polygon class="c2" points="97.5,396.5 104.5,395.5 115.5,395.5 123.5,396.5 124.5,392.5 128.5,390.5 131.5,393.5 130.5,396.5 132.5,400.5 132.5,406.5 129.5,410.5 126.5,413.5 123.5,418.5 126.5,422.5 125.5,427.5 116.5,427.5 115.5,432.5 123.5,434.5 123.5,438.5 119.5,439.5 116.5,445.5 115.5,452.5 114.5,458.5 110.5,466.5 106.5,471.5 100.5,474.5 99.5,479.5 96.5,482.5 87.5,483.5 73.5,483.5 60.5,483.5 52.5,482.5 46.5,480.5 44.5,476.5 47.5,469.5 53.5,466.5 53.5,462.5 50.5,458.5 49.5,452.5 46.5,450.5 46.5,447.5 49.5,442.5 54.5,436.5 60.5,429.5 69.5,423.5 75.5,413.5 79.5,410.5 85.5,408.5 93.5,404.5 94.5,399.5"/>
<polygon class="c2" points="76.5,403.5 80.5,399.5 83.5,400.5 82.5,403.5 78.5,405.5"/>
<polygon class="c2" points="133.5,471.5 136.5,472.5 136.5,476.5 134.5,479.5 133.5,476.5"/>
<polygon class="c1 ns" points="359.5,600.5 363.5,604.5 380.5,608.5 390.5,614.5 403.5,610.5 407.5,615.5 419.5,623.5 424.5,622.5 427.5,623.5 416.5,636.5 394.5,634.5 383.5,628.5 382.5,615.5 372.5,626.5 371.5,616.5 363.5,610.5 359.5,607.5"/>
<polygon class="c3 ns" points="289.5,562.5 298.5,562.5 298.5,569.5 306.5,569.5 306.5,547.5 316.5,547.5 316.5,530.5 336.5,530.5 336.5,615.5 270.5,615.5 270.5,590.5 269.5,586.5 271.5,583.5 271.5,578.5 282.5,578.5 282.5,569.5 289.5,569.5"/>
<polygon class="c3 ns" points="270.5,615.5 312.5,615.5 312.5,618.5 304.5,622.5 298.5,624.5 288.5,625.5 270.5,626.5"/>
<polygon class="c3 ns" points="337.5,529.5 343.5,529.5 351.5,532.5 361.5,527.5 368.5,531.5 376.5,535.5 384.5,533.5 390.5,533.5 391.5,541.5 392.5,554.5 389.5,552.5 387.5,553.5 387.5,557.5 379.5,557.5 379.5,565.5 375.5,565.5 369.5,562.5 362.5,562.5 361.5,557.5 357.5,558.5 351.5,555.5 351.5,549.5 336.5,549.5 336.5,542.5"/>
<polygon class="c3 ns" points="379.5,566.5 381.5,567.5 387.5,567.5 391.5,570.5 394.5,571.5 396.5,571.5 408.5,572.5 414.5,573.5 415.5,577.5 419.5,579.5 421.5,583.5 427.5,584.5 429.5,589.5 421.5,596.5 413.5,604.5 417.5,609.5 382.5,610.5 382.5,601.5 379.5,598.5 374.5,597.5 375.5,590.5 378.5,587.5 380.5,585.5 379.5,577.5 381.5,575.5 379.5,570.5"/>
<polygon class="c3 ns" points="351.5,571.5 362.5,572.5 362.5,576.5 366.5,577.5 372.5,582.5 378.5,587.5 375.5,590.5 374.5,597.5 375.5,599.5 362.5,598.5 362.5,586.5 351.5,586.5"/>
<polygon class="c3 ns" points="362.5,598.5 375.5,599.5 379.5,598.5 382.5,601.5 382.5,610.5 375.5,608.5 369.5,608.5 367.5,603.5 362.5,603.5"/>
<polygon class="c3 ns" points="336.5,584.5 351.5,584.5 351.5,591.5 336.5,591.5"/>
</g>
<g>
<polygon class="c3 ns" points="220.5,552.5 235.5,552.5 235.5,562.5 220.5,562.5"/>
<polygon class="c3 ns" points="263.5,569.5 271.5,569.5 271.5,586.5 262.5,586.5 263.5,577.5"/>
<polygon class="c3 ns" points="253.5,593.5 270.5,593.5 270.5,601.5 253.5,601.5"/>
<polygon class="c3 ns" points="260.5,610.5 270.5,610.5 270.5,624.5 260.5,624.5"/>
<polygon class="c5 ns" points="209.5,562.5 220.5,562.5 220.5,568.5 209.5,568.5"/>
<polygon class="c5 ns" points="225.5,569.5 235.5,569.5 235.5,581.5 225.5,581.5"/>
<polygon class="c5 ns" points="235.5,569.5 245.5,569.5 245.5,574.5 243.5,578.5 240.5,580.5 235.5,581.5"/>
<polygon class="c5 ns" points="245.5,569.5 254.5,569.5 254.5,586.5 253.5,593.5 242.5,593.5 242.5,587.5 245.5,586.5 248.5,582.5 246.5,577.5"/>
<polygon class="c5 ns" points="254.5,569.5 263.5,569.5 262.5,577.5 261.5,586.5 254.5,586.5"/>
<polygon class="c5 ns" points="212.5,581.5 225.5,581.5 225.5,593.5 212.5,593.5"/>
<polygon class="c5 ns" points="225.5,581.5 235.5,581.5 235.5,593.5 225.5,593.5"/>
<polygon class="c5 ns" points="213.5,593.5 234.5,593.5 234.5,615.5 223.5,614.5 216.5,609.5 216.5,602.5 213.5,599.5"/>
<polygon class="c5 ns" points="234.5,601.5 253.5,601.5 270.5,602.5 270.5,610.5 240.5,610.5 240.5,607.5 237.5,606.5"/>
<polygon class="c2 ns" points="235.5,589.5 242.5,589.5 242.5,593.5 235.5,593.5"/>
<polygon class="c0" points="192.5,599.5 196.5,590.5 206.5,592.5 212.5,594.5 216.5,602.5 216.5,609.5 210.5,607.5 200.5,602.5"/>
<polygon class="c1 ns" points="253.5,624.5 269.5,624.5 269.5,626.5 264.5,632.5 258.5,633.5 253.5,629.5"/>
<polygon class="c1 ns" points="258.5,633.5 264.5,632.5 265.5,657.5 256.5,657.5 255.5,649.5 257.5,640.5"/>
<polygon class="c0" points="443.5,596.5 460.5,596.5 460.5,608.5 443.5,608.5"/>
<polygon class="c1 ns" points="336.5,596.5 346.5,602.5 348.5,608.5 336.5,608.5"/>
<polygon class="c1 ns" points="253.5,624.5 269.5,624.5 269.5,626.5 264.5,632.5 257.5,633.5 253.5,630.5"/>
<polygon class="c1 ns" points="362.5,604.5 381.5,610.5 382.5,616.5 373.5,613.5 362.5,608.5"/>
<polygon class="c1 ns" points="373.5,616.5 382.5,616.5 384.5,626.5 373.5,625.5"/>
<polygon class="c1 ns" points="382.5,606.5 386.5,606.5 386.5,613.5 382.5,614.5"/>
<polygon class="c1 ns" points="446.5,572.5 460.5,572.5 460.5,577.5 446.5,577.5"/>
<polygon class="c1 ns" points="453.5,577.5 460.5,577.5 460.5,596.5 453.5,596.5"/>
<polygon class="c5 ns" points="218.5,405.5 224.5,405.5 225.5,420.5 228.5,428.5 234.5,435.5 240.5,442.5 242.5,450.5 246.5,460.5 250.5,470.5 248.5,476.5 246.5,477.5 248.5,480.5 217.5,480.5 217.5,450.5 217.5,430.5"/>
<polygon class="c5 ns" points="183.5,468.5 187.5,468.5 192.5,470.5 217.5,470.5 217.5,480.5 231.5,487.5 217.5,483.5 212.5,482.5 207.5,478.5 202.5,478.5 198.5,480.5 194.5,479.5 190.5,477.5 186.5,478.5 182.5,479.5"/>
<polygon class="c4 ns" points="282.5,460.5 291.5,461.5 292.5,466.5 290.5,473.5 286.5,480.5 277.5,479.5 280.5,474.5 284.5,470.5 283.5,465.5"/>
<polygon class="c0" points="248.5,495.5 252.5,491.5 256.5,493.5 263.5,495.5 267.5,495.5 267.5,502.5 264.5,507.5 260.5,505.5 256.5,501.5 252.5,498.5"/>
<polygon class="c0" points="287.5,502.5 291.5,501.5 292.5,503.5 290.5,506.5 287.5,505.5"/>
<polygon class="c0" points="360.5,509.5 376.5,509.5 376.5,517.5 368.5,514.5 360.5,513.5"/>
<polygon class="c1 ns" points="299.5,495.5 304.5,495.5 304.5,502.5 300.5,505.5 298.5,502.5"/>
<polygon class="c1 ns" points="575.5,540.5 566.5,546.5 562.5,553.5 558.5,562.5 553.5,572.5 545.5,578.5 534.5,585.5 526.5,590.5 520.5,598.5 524.5,605.5 529.5,612.5 537.5,616.5 546.5,620.5 561.5,623.5 576.5,628.5 576.5,540.5"/>
<polygon class="c1 ns" points="500.5,557.5 545.5,580.5 534.5,585.5 526.5,590.5 524.5,586.5 524.5,573.5 516.5,573.5 504.5,572.5 498.5,573.5"/>
<polygon class="c1 ns" points="640.5,592.5 646.5,592.5 645.5,600.5 644.5,608.5 636.5,608.5 637.5,601.5 640.5,600.5"/>
<polygon class="c1 ns" points="635.5,608.5 655.5,608.5 655.5,624.5 652.5,629.5 648.5,630.5 638.5,621.5 635.5,614.5"/>
<polygon class="c1 ns" points="606.5,661.5 614.5,662.5 617.5,672.5 606.5,672.5"/>
<polygon class="c1 ns" points="464.5,632.5 488.5,632.5 488.5,640.5 464.5,640.5"/>
<polygon class="c1 ns" points="460.5,640.5 473.5,640.5 473.5,656.5 460.5,656.5"/>
<polygon class="c1 ns" points="488.5,640.5 504.5,640.5 504.5,656.5 488.5,656.5"/>
<polygon class="c1 ns" points="464.5,672.5 473.5,672.5 473.5,688.5 464.5,688.5"/>
<polygon class="c1 ns" points="480.5,680.5 496.5,680.5 496.5,688.5 480.5,688.5"/>
<polygon class="c1 ns" points="504.5,673.5 520.5,673.5 520.5,679.5 504.5,679.5"/>
<polygon class="c1 ns" points="496.5,526.5 504.5,528.5 505.5,538.5 496.5,537.5"/>
<polygon class="c1 ns" points="496.5,538.5 504.5,538.5 500.5,548.5 496.5,546.5"/>
<polygon class="c2 ns" points="460.5,577.5 472.5,577.5 470.5,598.5 460.5,597.5"/>
<polygon class="c4 ns" points="223.5,657.5 231.5,657.5 231.5,672.5 223.5,672.5"/>
<polygon class="c2 ns" points="255.5,696.5 271.5,696.5 271.5,704.5 255.5,704.5"/>
<polygon class="c1 ns" points="247.5,672.5 264.5,672.5 264.5,680.5 247.5,680.5"/>
<polygon class="c1 ns" points="255.5,660.5 264.5,660.5 264.5,672.5 255.5,672.5"/>
<polygon class="c1 ns" points="258.5,633.5 264.5,633.5 265.5,658.5 272.5,659.5 272.5,664.5 264.5,664.5 263.5,660.5 255.5,660.5 255.5,640.5"/>
<polygon class="c0" points="260.5,789.5 276.5,789.5 296.5,792.5 296.5,809.5 289.5,815.5 289.5,822.5 281.5,823.5 280.5,810.5 274.5,800.5 268.5,795.5"/>
<polygon class="c0" points="259.5,774.5 267.5,774.5 267.5,780.5 259.5,780.5"/>
<polygon class="c1 ns" points="636.5,608.5 655.5,608.5 655.5,630.5 648.5,630.5 638.5,618.5"/>
<polygon class="c1 ns" points="606.5,662.5 615.5,662.5 616.5,672.5 606.5,672.5"/>
<polygon class="c1 ns" points="576.5,704.5 585.5,704.5 585.5,720.5 576.5,720.5"/>
<polygon class="c1 ns" points="585.5,712.5 606.5,712.5 602.5,720.5 610.5,726.5 613.5,736.5 612.5,744.5 598.5,745.5 585.5,744.5"/>
<polygon class="c1 ns" points="486.5,720.5 496.5,720.5 496.5,735.5 488.5,735.5"/>
<polygon class="c1 ns" points="464.5,672.5 473.5,672.5 473.5,704.5 464.5,704.5"/>
<polygon class="c1 ns" points="480.5,680.5 496.5,680.5 496.5,688.5 480.5,688.5"/>
<polygon class="c1 ns" points="464.5,704.5 480.5,704.5 480.5,712.5 464.5,712.5"/>
<polygon class="c1 ns" points="456.5,633.5 464.5,633.5 464.5,656.5 456.5,656.5"/>
<polygon class="c1 ns" points="464.5,640.5 473.5,640.5 473.5,656.5 464.5,656.5"/>
<polygon class="c1 ns" points="488.5,640.5 504.5,640.5 504.5,656.5 488.5,656.5"/>
<polygon class="c1 ns" points="456.5,624.5 488.5,624.5 488.5,633.5 456.5,633.5"/>
<polygon class="c1 ns" points="504.5,673.5 520.5,673.5 528.5,686.5 520.5,688.5 504.5,680.5"/>
<polygon class="c1 ns" points="472.5,800.5 496.5,800.5 496.5,816.5 472.5,816.5"/>
<polygon class="c1 ns" points="496.5,801.5 512.5,804.5 512.5,816.5 496.5,816.5"/>
<polygon class="c1 ns" points="491.5,816.5 500.5,816.5 500.5,824.5 491.5,824.5"/>
<polygon class="c1 ns" points="703.5,776.5 718.5,776.5 718.5,781.5 730.5,782.5 734.5,783.5 735.5,768.5 741.5,768.5 741.5,786.5 718.5,785.5 703.5,781.5"/>
<polygon class="c1 ns" points="639.5,592.5 646.5,592.5 645.5,608.5 636.5,608.5"/>
<polygon class="c1 ns" points="480.5,513.5 489.5,513.5 489.5,527.5 480.5,527.5"/>
<polygon class="c1 ns" points="496.5,528.5 508.5,528.5 506.5,540.5 496.5,544.5"/>
<polygon class="c3 ns" points="408.5,608.5 414.5,603.5 424.5,618.5 419.5,622.5"/>
<polygon class="c3 ns" points="388.5,623.5 396.5,618.5 400.5,623.5 392.5,630.5"/>
<polygon class="c3 ns" points="384.5,630.5 388.5,626.5 394.5,632.5 388.5,636.5"/>
<polygon class="c2 ns" points="321.5,582.5 336.5,582.5 336.5,595.5 331.5,590.5"/>
<polygon class="c2 ns" points="312.5,609.5 331.5,609.5 331.5,615.5 312.5,615.5"/>
<polygon class="c2 ns" points="331.5,605.5 336.5,605.5 336.5,615.5 331.5,615.5"/>
<polygon class="c4 ns" points="271.5,569.5 282.5,569.5 282.5,578.5 271.5,578.5"/>
<polygon class="c1 ns" points="298.5,536.5 306.5,536.5 306.5,547.5 298.5,547.5"/>
<polygon class="c1 ns" points="307.5,536.5 316.5,531.5 316.5,538.5 306.5,538.5"/>
<polygon class="c1 ns" points="282.5,552.5 289.5,555.5 289.5,559.5 298.5,559.5 298.5,562.5 282.5,562.5"/>
<polygon class="c1 ns" points="351.5,556.5 357.5,558.5 363.5,557.5 363.5,562.5 351.5,562.5"/>
<polygon class="c1 ns" points="336.5,591.5 351.5,591.5 351.5,596.5 336.5,596.5"/>
<polygon class="c1 ns" points="415.5,575.5 421.5,574.5 430.5,579.5 430.5,585.5 427.5,584.5 421.5,583.5 419.5,579.5"/>
<polygon class="c1 ns" points="362.5,603.5 367.5,603.5 369.5,608.5 375.5,608.5 381.5,608.5 362.5,608.5"/>
<polygon class="c1 ns" points="336.5,596.5 341.5,595.5 348.5,601.5 347.5,608.5 336.5,608.5"/>
</g>
<g>
<polygon class="c0" points="546.5,620.5 548.5,626.5 550.5,633.5 553.5,642.5 558.5,648.5 570.5,649.5 582.5,645.5 590.5,637.5 591.5,634.5 585.5,633.5 576.5,628.5 561.5,623.5"/>
<polygon class="c0" points="460.5,597.5 470.5,598.5 484.5,590.5 484.5,610.5 460.5,610.5"/>
<polygon class="c0" points="495.5,581.5 500.5,574.5 506.5,574.5 506.5,582.5 495.5,582.5"/>
<polygon class="c0" points="584.5,625.5 591.5,625.5 591.5,632.5 584.5,632.5"/>
<polygon class="c0" points="598.5,637.5 604.5,633.5 605.5,637.5 601.5,640.5"/>
<polygon class="c0" points="654.5,650.5 660.5,652.5 668.5,656.5 676.5,662.5 677.5,665.5 668.5,664.5 660.5,661.5 656.5,657.5"/>
<polygon class="c0" points="546.5,620.5 558.5,622.5 574.5,630.5 590.5,635.5 588.5,640.5 582.5,645.5 570.5,649.5 558.5,648.5 552.5,640.5"/>
<polygon class="c0" points="584.5,625.5 591.5,625.5 591.5,632.5 584.5,632.5"/>
<polygon class="c0" points="599.5,636.5 604.5,633.5 606.5,638.5 601.5,641.5"/>
<polygon class="c0" points="654.5,650.5 662.5,652.5 674.5,658.5 678.5,665.5 666.5,662.5 656.5,656.5"/>
<polygon class="c0" points="684.5,649.5 700.5,654.5 698.5,661.5 682.5,658.5"/>
<polygon class="c0" points="736.5,655.5 745.5,654.5 745.5,662.5 736.5,662.5"/>
<polygon class="c0" points="728.5,840.5 733.5,840.5 733.5,847.5 728.5,847.5"/>
<polygon class="c0" points="510.5,832.5 526.5,833.5 528.5,846.5 518.5,838.5"/>
<polygon class="c0" points="497.5,576.5 506.5,574.5 506.5,582.5 497.5,582.5"/>
</g>
<g>
<polygon class="c2" points="235.5,822.5 244.5,828.5 240.5,835.5 234.5,834.5 229.5,830.5"/>
</g>
<g>
<polygon class="w ns" points="163.5,489.5 166.5,488.5 167.5,485.5 171.5,484.5 172.5,481.5 176.5,478.5 181.5,480.5 186.5,478.5 190.5,477.5 194.5,479.5 198.5,480.5 202.5,478.5 207.5,478.5 212.5,482.5 217.5,483.5 222.5,485.5 226.5,487.5 231.5,491.5 238.5,493.5 243.5,494.5 247.5,497.5 251.5,498.5 255.5,502.5 257.5,503.5 260.5,505.5 264.5,508.5 269.5,510.5 271.5,510.5 274.5,509.5 277.5,509.5 279.5,507.5 281.5,508.5 285.5,508.5 290.5,507.5 293.5,510.5 297.5,512.5 301.5,514.5 305.5,516.5 310.5,517.5 315.5,518.5 320.5,521.5 325.5,523.5 330.5,524.5 334.5,524.5 338.5,525.5 343.5,523.5 347.5,521.5 349.5,523.5 353.5,523.5 353.5,516.5 355.5,514.5 361.5,513.5 370.5,515.5 375.5,517.5 380.5,519.5 385.5,521.5 391.5,513.5 391.5,509.5 395.5,502.5 399.5,499.5 398.5,494.5 391.5,494.5 391.5,489.5 396.5,487.5 403.5,483.5 410.5,476.5 418.5,468.5 420.5,460.5 426.5,457.5 431.5,455.5 433.5,445.5 432.5,440.5 435.5,436.5 439.5,433.5 438.5,426.5 435.5,420.5 434.5,415.5 436.5,410.5 436.5,402.5 438.5,397.5 439.5,393.5 442.5,390.5 444.5,386.5 443.5,381.5 444.5,379.5 444.5,376.5 442.5,371.5 440.5,365.5 441.5,360.5 439.5,358.5 437.5,352.5 434.5,345.5 432.5,338.5 435.5,335.5 439.5,335.5 440.5,340.5 445.5,347.5 450.5,352.5 452.5,356.5 453.5,362.5 456.5,367.5 457.5,374.5 458.5,384.5 456.5,390.5 455.5,396.5 455.5,403.5 452.5,408.5 447.5,413.5 445.5,419.5 449.5,425.5 451.5,430.5 449.5,437.5 444.5,445.5 440.5,455.5 435.5,464.5 432.5,469.5 431.5,475.5 433.5,482.5 430.5,486.5 427.5,489.5 424.5,494.5 420.5,498.5 414.5,504.5 412.5,505.5 412.5,500.5 414.5,494.5 418.5,491.5 418.5,489.5 412.5,489.5 403.5,501.5 405.5,504.5 406.5,510.5 404.5,514.5 405.5,520.5 408.5,525.5 411.5,529.5 420.5,528.5 427.5,526.5 432.5,524.5 436.5,521.5 444.5,520.5 447.5,523.5 450.5,525.5 455.5,528.5 460.5,531.5 465.5,534.5 466.5,537.5 471.5,537.5 474.5,538.5 478.5,543.5 474.5,543.5 470.5,544.5 468.5,546.5 470.5,542.5 466.5,542.5 460.5,542.5 455.5,545.5 453.5,545.5 452.5,541.5 451.5,538.5 449.5,535.5 447.5,532.5 444.5,530.5 429.5,531.5 428.5,533.5 422.5,534.5 417.5,534.5 412.5,533.5 410.5,531.5 400.5,530.5 391.5,532.5 383.5,534.5 378.5,534.5 370.5,531.5 363.5,528.5 357.5,530.5 353.5,532.5 348.5,530.5 343.5,529.5 335.5,530.5 330.5,531.5 325.5,530.5 318.5,528.5 315.5,530.5 311.5,532.5 307.5,536.5 304.5,535.5 299.5,534.5 295.5,538.5 291.5,537.5 287.5,535.5 283.5,533.5 282.5,537.5 279.5,536.5 275.5,534.5 271.5,533.5 267.5,532.5 262.5,530.5 259.5,529.5 257.5,527.5 261.5,525.5 265.5,525.5 269.5,525.5 270.5,522.5 266.5,520.5 261.5,517.5 257.5,512.5 254.5,508.5 251.5,506.5 247.5,508.5 243.5,511.5 241.5,516.5 240.5,520.5 241.5,525.5 245.5,528.5 247.5,531.5 249.5,533.5 251.5,535.5 253.5,540.5 252.5,544.5 248.5,545.5 245.5,548.5 243.5,551.5 239.5,551.5 235.5,550.5 231.5,552.5 225.5,552.5 219.5,551.5 213.5,549.5 209.5,547.5 205.5,548.5 176.5,544.5 170.5,548.5"/>
<polyline class="ln" points="163.5,489.5 166.5,488.5 167.5,485.5 171.5,484.5 172.5,481.5 176.5,478.5 181.5,480.5 186.5,478.5 190.5,477.5 194.5,479.5 198.5,480.5 202.5,478.5 207.5,478.5 212.5,482.5 217.5,483.5 222.5,485.5 226.5,487.5 231.5,491.5 238.5,493.5 243.5,494.5 247.5,497.5 251.5,498.5 255.5,502.5 257.5,503.5 260.5,505.5 264.5,508.5 269.5,510.5 271.5,510.5 274.5,509.5 277.5,509.5 279.5,507.5 281.5,508.5 285.5,508.5 290.5,507.5 293.5,510.5 297.5,512.5 301.5,514.5 305.5,516.5 310.5,517.5 315.5,518.5 320.5,521.5 325.5,523.5 330.5,524.5 334.5,524.5 338.5,525.5 343.5,523.5 347.5,521.5 349.5,523.5 353.5,523.5 353.5,516.5 355.5,514.5 361.5,513.5 370.5,515.5 375.5,517.5 380.5,519.5 385.5,521.5 391.5,513.5 391.5,509.5 395.5,502.5 399.5,499.5 398.5,494.5 391.5,494.5 391.5,489.5 396.5,487.5 403.5,483.5 410.5,476.5 418.5,468.5 420.5,460.5 426.5,457.5 431.5,455.5 433.5,445.5 432.5,440.5 435.5,436.5 439.5,433.5 438.5,426.5 435.5,420.5 434.5,415.5 436.5,410.5 436.5,402.5 438.5,397.5 439.5,393.5 442.5,390.5 444.5,386.5 443.5,381.5 444.5,379.5 444.5,376.5 442.5,371.5 440.5,365.5 441.5,360.5 439.5,358.5 437.5,352.5 434.5,345.5 432.5,338.5 435.5,335.5 439.5,335.5 440.5,340.5 445.5,347.5 450.5,352.5 452.5,356.5 453.5,362.5 456.5,367.5 457.5,374.5 458.5,384.5 456.5,390.5 455.5,396.5 455.5,403.5 452.5,408.5 447.5,413.5 445.5,419.5 449.5,425.5 451.5,430.5 449.5,437.5 444.5,445.5 440.5,455.5 435.5,464.5 432.5,469.5 431.5,475.5 433.5,482.5 430.5,486.5 427.5,489.5 424.5,494.5 420.5,498.5 414.5,504.5 412.5,505.5 412.5,500.5 414.5,494.5 418.5,491.5 418.5,489.5 412.5,489.5 403.5,501.5 405.5,504.5 406.5,510.5 404.5,514.5 405.5,520.5 408.5,525.5 411.5,529.5 420.5,528.5 427.5,526.5 432.5,524.5 436.5,521.5 444.5,520.5 447.5,523.5 450.5,525.5 455.5,528.5 460.5,531.5 465.5,534.5 466.5,537.5 471.5,537.5 474.5,538.5 478.5,543.5 474.5,543.5 470.5,544.5 468.5,546.5 470.5,542.5 466.5,542.5 460.5,542.5 455.5,545.5 453.5,545.5 452.5,541.5 451.5,538.5 449.5,535.5 447.5,532.5 444.5,530.5 429.5,531.5 428.5,533.5 422.5,534.5 417.5,534.5 412.5,533.5 410.5,531.5 400.5,530.5 391.5,532.5 383.5,534.5 378.5,534.5 370.5,531.5 363.5,528.5 357.5,530.5 353.5,532.5 348.5,530.5 343.5,529.5 335.5,530.5 330.5,531.5 325.5,530.5 318.5,528.5 315.5,530.5 311.5,532.5 307.5,536.5 304.5,535.5 299.5,534.5 295.5,538.5 291.5,537.5 287.5,535.5 283.5,533.5 282.5,537.5 279.5,536.5 275.5,534.5 271.5,533.5 267.5,532.5 262.5,530.5 259.5,529.5 257.5,527.5 261.5,525.5 265.5,525.5 269.5,525.5 270.5,522.5 266.5,520.5 261.5,517.5 257.5,512.5 254.5,508.5 251.5,506.5 247.5,508.5 243.5,511.5 241.5,516.5 240.5,520.5 241.5,525.5 245.5,528.5 247.5,531.5 249.5,533.5 251.5,535.5 253.5,540.5 252.5,544.5 248.5,545.5 245.5,548.5 243.5,551.5 239.5,551.5 235.5,550.5 231.5,552.5 225.5,552.5 219.5,551.5 213.5,549.5 209.5,547.5 205.5,548.5 176.5,544.5 170.5,548.5"/>
<polygon class="c3" points="443.5,360.5 445.5,360.5 452.5,378.5 451.5,379.5 446.5,378.5"/>
<polygon class="w ns" points="260.5,756.5 264.5,757.5 263.5,762.5 259.5,768.5 252.5,772.5 244.5,773.5 240.5,772.5 250.5,770.5 256.5,766.5 259.5,761.5"/>
<polygon class="ln" points="260.5,756.5 264.5,757.5 263.5,762.5 259.5,768.5 252.5,772.5 244.5,773.5 240.5,772.5 250.5,770.5 256.5,766.5 259.5,761.5"/>
</g>
<g>
<polygon class="ln" points="382.5,607.5 387.5,610.5 385.5,614.5 391.5,612.5 397.5,616.5 403.5,612.5 413.5,604.5 427.5,618.5 428.5,622.5 420.5,633.5 415.5,638.5 410.5,634.5 394.5,634.5 393.5,632.5 401.5,624.5 397.5,617.5 384.5,628.5 382.5,629.5 383.5,622.5 382.5,616.5 373.5,615.5 373.5,623.5 370.5,626.5 362.5,623.5 362.5,606.5 368.5,606.5 369.5,608.5 382.5,608.5"/>
<polygon class="ln" points="425.5,595.5 437.5,610.5 443.5,609.5 455.5,608.5 455.5,623.5 448.5,624.5 448.5,632.5 443.5,634.5 439.5,644.5 418.5,655.5 409.5,656.5 411.5,647.5 415.5,638.5 423.5,629.5 428.5,622.5 427.5,618.5 415.5,605.5 413.5,604.5 418.5,599.5"/>
<polygon class="ln" points="248.5,495.5 252.5,491.5 256.5,493.5 263.5,495.5 267.5,495.5 267.5,502.5 264.5,507.5 260.5,505.5 256.5,501.5 252.5,498.5"/>
<polygon class="ln" points="294.5,497.5 296.5,495.5 304.5,495.5 304.5,502.5 300.5,505.5 299.5,509.5 296.5,511.5 294.5,507.5 292.5,505.5"/>
<polygon class="ln" points="336.5,596.5 341.5,596.5 350.5,596.5 358.5,600.5 360.5,608.5 353.5,608.5 346.5,602.5 341.5,600.5 336.5,606.5"/>
<polygon class="ln" points="330.5,605.5 336.5,605.5 336.5,622.5 332.5,622.5"/>
<polygon class="ln" points="362.5,604.5 381.5,610.5 382.5,616.5 373.5,613.5 362.5,608.5"/>
<polygon class="ln" points="373.5,616.5 382.5,616.5 384.5,626.5 373.5,625.5"/>
<polygon class="ln" points="253.5,624.5 269.5,624.5 264.5,632.5 257.5,633.5 253.5,630.5"/>
<polygon class="ln" points="257.5,633.5 264.5,632.5 265.5,656.5 272.5,656.5 272.5,664.5 264.5,664.5 264.5,672.5 240.5,672.5 240.5,656.5 254.5,650.5"/>
<polygon class="ln" points="194.5,546.5 200.5,546.5 205.5,548.5 210.5,548.5 215.5,550.5 220.5,551.5 225.5,552.5 230.5,552.5 235.5,551.5 235.5,568.5 245.5,569.5 271.5,569.5 272.5,569.5 282.5,569.5 282.5,578.5 271.5,578.5 271.5,584.5 270.5,586.5 270.5,624.5 253.5,624.5 253.5,629.5 243.5,620.5 234.5,615.5 223.5,614.5 216.5,609.5 216.5,602.5 212.5,594.5 212.5,577.5 208.5,578.5 209.5,576.5 212.5,576.5 212.5,569.5 209.5,568.5 209.5,567.5 200.5,567.5 200.5,558.5 198.5,557.5 196.5,554.5 194.5,550.5"/>
<polygon class="ln" points="235.5,557.5 245.5,557.5 245.5,563.5 235.5,563.5"/>
<polygon class="ln" points="255.5,563.5 263.5,563.5 263.5,569.5 255.5,569.5"/>
<polygon class="ln" points="253.5,624.5 269.5,624.5 269.5,626.5 264.5,632.5 258.5,633.5 253.5,629.5"/>
<polygon class="ln" points="258.5,633.5 264.5,632.5 265.5,657.5 256.5,657.5 255.5,649.5 257.5,640.5"/>
<polygon class="ln" points="282.5,534.5 291.5,537.5 295.5,538.5 298.5,540.5 298.5,547.5 282.5,542.5"/>
<polygon class="ln" points="298.5,536.5 306.5,536.5 306.5,547.5 298.5,547.5"/>
<polygon class="ln" points="306.5,536.5 315.5,530.5 316.5,538.5 306.5,538.5"/>
<polygon class="ln" points="282.5,555.5 289.5,555.5 289.5,562.5 282.5,562.5"/>
<polygon class="ln" points="298.5,555.5 306.5,555.5 306.5,562.5 298.5,562.5"/>
<polygon class="ln" points="336.5,549.5 351.5,549.5 351.5,562.5 336.5,562.5"/>
<polygon class="ln" points="250.5,533.5 257.5,540.5 253.5,544.5 249.5,540.5"/>
<polygon class="ln" points="261.5,540.5 269.5,548.5 265.5,551.5 258.5,544.5"/>
<polygon class="ln" points="271.5,536.5 277.5,536.5 281.5,540.5 275.5,546.5 269.5,540.5"/>
<polygon class="ln" points="275.5,549.5 280.5,550.5 279.5,552.5 267.5,556.5 261.5,556.5 259.5,553.5"/>
<polygon class="ln" points="575.5,540.5 566.5,546.5 562.5,553.5 558.5,562.5 553.5,572.5 545.5,578.5 534.5,585.5 526.5,590.5 520.5,598.5 524.5,605.5 529.5,612.5 537.5,616.5 546.5,620.5 561.5,623.5 576.5,628.5 576.5,540.5"/>
<polygon class="ln" points="546.5,620.5 548.5,626.5 550.5,633.5 553.5,642.5 558.5,648.5 570.5,649.5 582.5,645.5 590.5,637.5 591.5,634.5 585.5,633.5 576.5,628.5 561.5,623.5"/>
<polygon class="ln" points="540.5,537.5 544.5,537.5 544.5,545.5 558.5,544.5 564.5,546.5 562.5,553.5 558.5,562.5 553.5,572.5 545.5,578.5 544.5,566.5 538.5,565.5 538.5,558.5 540.5,557.5"/>
<polygon class="ln" points="520.5,533.5 528.5,533.5 528.5,572.5 520.5,566.5"/>
<polygon class="ln" points="504.5,546.5 520.5,546.5 520.5,561.5 513.5,557.5 504.5,554.5"/>
<polygon class="ln" points="500.5,557.5 545.5,580.5 534.5,585.5 526.5,590.5 524.5,586.5 524.5,573.5 516.5,573.5 504.5,572.5 498.5,573.5"/>
<polygon class="ln" points="496.5,526.5 504.5,528.5 505.5,538.5 496.5,537.5"/>
<polygon class="ln" points="496.5,538.5 504.5,538.5 500.5,548.5 496.5,546.5"/>
<polygon class="ln" points="600.5,584.5 608.5,584.5 608.5,578.5 613.5,578.5 614.5,585.5 624.5,586.5 633.5,586.5 638.5,593.5 640.5,593.5 648.5,589.5 655.5,588.5 655.5,608.5 612.5,608.5 612.5,602.5 608.5,601.5 606.5,597.5 599.5,596.5"/>
<polygon class="ln" points="576.5,598.5 592.5,606.5 591.5,612.5 576.5,612.5"/>
<polygon class="ln" points="591.5,608.5 662.5,608.5 662.5,625.5 671.5,625.5 671.5,652.5 660.5,649.5 652.5,641.5 648.5,630.5 638.5,621.5 630.5,619.5 622.5,620.5 614.5,624.5 606.5,628.5 606.5,656.5 585.5,656.5 585.5,633.5 591.5,634.5 591.5,621.5 585.5,625.5 589.5,621.5"/>
<polygon class="ln" points="585.5,656.5 606.5,656.5 606.5,673.5 593.5,669.5 585.5,665.5"/>
<polygon class="ln" points="606.5,661.5 614.5,662.5 617.5,672.5 606.5,672.5"/>
<polygon class="ln" points="608.5,672.5 623.5,672.5 623.5,681.5 608.5,676.5"/>
<polygon class="ln" points="460.5,610.5 484.5,610.5 488.5,618.5 488.5,632.5 464.5,632.5 464.5,618.5 460.5,618.5"/>
<polygon class="ln" points="464.5,632.5 488.5,632.5 488.5,640.5 504.5,640.5 504.5,656.5 480.5,656.5 480.5,672.5 464.5,672.5 464.5,656.5 473.5,648.5 473.5,640.5 464.5,640.5"/>
<polygon class="ln" points="460.5,528.5 470.5,537.5 480.5,537.5 480.5,546.5 460.5,552.5"/>
<polygon class="ln" points="591.5,608.5 606.5,608.5 606.5,628.5 600.5,632.5 591.5,636.5 591.5,632.5 586.5,632.5 584.5,625.5 591.5,621.5"/>
<polygon class="ln" points="606.5,608.5 624.5,608.5 624.5,620.5 610.5,625.5 606.5,628.5"/>
<polygon class="ln" points="624.5,608.5 635.5,608.5 635.5,614.5 639.5,620.5 635.5,620.5 624.5,620.5"/>
<polygon class="ln" points="635.5,608.5 655.5,608.5 655.5,626.5 650.5,632.5 647.5,632.5 642.5,625.5 639.5,620.5 635.5,614.5"/>
<polygon class="ln" points="655.5,608.5 662.5,608.5 662.5,625.5 671.5,625.5 671.5,652.5 663.5,649.5 655.5,645.5 650.5,640.5 647.5,632.5 650.5,632.5 655.5,626.5"/>
<polygon class="ln" points="570.5,628.5 580.5,632.5 591.5,636.5 591.5,637.5 583.5,644.5 570.5,649.5"/>
<polygon class="ln" points="585.5,644.5 591.5,637.5 600.5,632.5 606.5,628.5 607.5,656.5 585.5,656.5"/>
<polygon class="ln" points="585.5,656.5 606.5,656.5 606.5,676.5 600.5,673.5 591.5,669.5 585.5,666.5"/>
<polygon class="ln" points="606.5,662.5 612.5,661.5 615.5,665.5 616.5,670.5 623.5,672.5 623.5,681.5 615.5,678.5 606.5,674.5"/>
<polygon class="ln" points="570.5,688.5 585.5,688.5 585.5,718.5 570.5,717.5"/>
<polygon class="ln" points="585.5,712.5 607.5,712.5 603.5,720.5 608.5,725.5 612.5,732.5 612.5,750.5 614.5,752.5 611.5,758.5 591.5,760.5 585.5,757.5 585.5,744.5 585.5,726.5"/>
<polygon class="ln" points="575.5,720.5 585.5,720.5 585.5,736.5 575.5,736.5"/>
<polygon class="ln" points="703.5,776.5 718.5,776.5 718.5,781.5 730.5,782.5 734.5,783.5 735.5,768.5 741.5,768.5 742.5,798.5 732.5,799.5 703.5,799.5"/>
<polygon class="ln" points="427.5,489.5 457.5,489.5 457.5,492.5 455.5,493.5 455.5,496.5 448.5,497.5 448.5,504.5 442.5,504.5 441.5,504.5 444.5,504.5 444.5,515.5 450.5,516.5 450.5,524.5 447.5,523.5 444.5,520.5 436.5,521.5 432.5,524.5 427.5,526.5 420.5,528.5 411.5,529.5 408.5,525.5 405.5,520.5 404.5,514.5 406.5,510.5 417.5,509.5 426.5,507.5 432.5,506.5 432.5,502.5 429.5,495.5 425.5,494.5"/>
<polygon class="ln" points="223.5,657.5 231.5,657.5 231.5,672.5 223.5,672.5"/>
<polygon class="ln" points="240.5,672.5 247.5,672.5 247.5,680.5 240.5,680.5"/>
<polygon class="ln" points="240.5,658.5 248.5,654.5 255.5,649.5 255.5,660.5 264.5,660.5 264.5,671.5 263.5,672.5 240.5,672.5"/>
<polygon class="ln" points="255.5,649.5 253.5,645.5 255.5,640.5 265.5,640.5 265.5,656.5 272.5,656.5 272.5,664.5 265.5,664.5 264.5,660.5 255.5,660.5"/>
<polygon class="ln" points="247.5,672.5 264.5,672.5 264.5,680.5 247.5,680.5"/>
<polygon class="ln" points="440.5,640.5 448.5,640.5 448.5,656.5 440.5,656.5"/>
<polygon class="ln" points="448.5,640.5 456.5,640.5 456.5,656.5 448.5,656.5"/>
<polygon class="ln" points="456.5,640.5 464.5,640.5 464.5,656.5 456.5,656.5"/>
<polygon class="ln" points="464.5,640.5 473.5,640.5 472.5,656.5 464.5,656.5"/>
<polygon class="ln" points="473.5,640.5 488.5,640.5 488.5,656.5 473.5,656.5"/>
<polygon class="ln" points="488.5,640.5 496.5,640.5 496.5,656.5 488.5,656.5"/>
<polygon class="ln" points="496.5,640.5 504.5,640.5 504.5,656.5 496.5,656.5"/>
<polygon class="ln" points="416.5,656.5 432.5,656.5 432.5,665.5 416.5,665.5"/>
<polygon class="ln" points="432.5,656.5 448.5,656.5 448.5,665.5 432.5,665.5"/>
<polygon class="ln" points="448.5,656.5 464.5,656.5 464.5,665.5 448.5,665.5"/>
<polygon class="ln" points="465.5,656.5 478.5,656.5 480.5,672.5 496.5,672.5 496.5,656.5 480.5,656.5"/>
<polygon class="ln" points="416.5,665.5 432.5,665.5 432.5,671.5 416.5,671.5"/>
<polygon class="ln" points="416.5,671.5 432.5,671.5 432.5,680.5 424.5,680.5 424.5,684.5 416.5,684.5"/>
<polygon class="ln" points="432.5,672.5 448.5,672.5 448.5,688.5 432.5,688.5"/>
<polygon class="ln" points="416.5,684.5 432.5,680.5 432.5,688.5 416.5,686.5"/>
<polygon class="ln" points="464.5,672.5 473.5,672.5 473.5,704.5 464.5,704.5"/>
<polygon class="ln" points="473.5,684.5 480.5,685.5 480.5,704.5 473.5,704.5"/>
<polygon class="ln" points="448.5,688.5 464.5,688.5 464.5,704.5 448.5,704.5"/>
<polygon class="ln" points="423.5,688.5 432.5,688.5 432.5,704.5 423.5,704.5"/>
<polygon class="ln" points="432.5,688.5 440.5,688.5 440.5,704.5 432.5,704.5"/>
<polygon class="ln" points="432.5,704.5 440.5,704.5 440.5,712.5 432.5,712.5"/>
<polygon class="ln" points="448.5,704.5 464.5,704.5 464.5,712.5 448.5,712.5"/>
<polygon class="ln" points="464.5,704.5 480.5,704.5 480.5,712.5 464.5,712.5"/>
<polygon class="ln" points="432.5,712.5 440.5,712.5 440.5,720.5 432.5,720.5"/>
<polygon class="ln" points="448.5,712.5 464.5,712.5 464.5,720.5 448.5,720.5"/>
<polygon class="ln" points="464.5,712.5 480.5,712.5 480.5,718.5 464.5,719.5"/>
<polygon class="ln" points="488.5,720.5 496.5,720.5 496.5,735.5 488.5,734.5 485.5,730.5 488.5,728.5"/>
<polygon class="ln" points="496.5,656.5 504.5,656.5 504.5,670.5 496.5,668.5"/>
<polygon class="ln" points="504.5,673.5 520.5,673.5 520.5,680.5 528.5,681.5 528.5,692.5 520.5,691.5 520.5,688.5 512.5,687.5 512.5,684.5 504.5,684.5"/>
<polygon class="ln" points="561.5,688.5 585.5,688.5 585.5,720.5 574.5,719.5 553.5,705.5 561.5,704.5"/>
<polygon class="ln" points="544.5,720.5 560.5,720.5 560.5,736.5 552.5,741.5 544.5,736.5"/>
<polygon class="ln" points="585.5,640.5 606.5,640.5 606.5,656.5 585.5,656.5"/>
<polygon class="ln" points="585.5,656.5 606.5,656.5 606.5,670.5 592.5,670.5 585.5,666.5"/>
<polygon class="ln" points="585.5,712.5 591.5,712.5 591.5,722.5 585.5,725.5"/>
<polygon class="ln" points="591.5,712.5 607.5,712.5 602.5,720.5 608.5,726.5 613.5,736.5 614.5,750.5 612.5,757.5 607.5,760.5 591.5,760.5 591.5,744.5 585.5,744.5 585.5,726.5 591.5,722.5"/>
<polygon class="ln" points="606.5,662.5 614.5,661.5 617.5,672.5 606.5,672.5"/>
<polygon class="ln" points="608.5,672.5 620.5,673.5 620.5,680.5 608.5,676.5"/>
<polygon class="ln" points="417.5,641.5 440.5,641.5 440.5,656.5 416.5,656.5 417.5,650.5 426.5,645.5"/>
<polygon class="ln" points="552.5,640.5 586.5,640.5 584.5,645.5 573.5,649.5 560.5,648.5"/>
<polygon class="ln" points="472.5,769.5 474.5,769.5 480.5,776.5 481.5,785.5 486.5,788.5 488.5,800.5 472.5,800.5"/>
<polygon class="ln" points="488.5,778.5 496.5,785.5 497.5,800.5 507.5,800.5 512.5,807.5 512.5,816.5 497.5,816.5 496.5,793.5 495.5,789.5"/>
<polygon class="ln" points="489.5,808.5 496.5,808.5 496.5,816.5 489.5,816.5"/>
<polygon class="ln" points="491.5,816.5 500.5,816.5 500.5,824.5 491.5,824.5"/>
<polygon class="ln" points="488.5,720.5 496.5,720.5 496.5,735.5 489.5,733.5 485.5,729.5 488.5,728.5"/>
<polygon class="ln" points="496.5,528.5 509.5,530.5 506.5,533.5 504.5,538.5 496.5,538.5 495.5,532.5"/>
<polygon class="ln" points="472.5,537.5 478.5,530.5 480.5,527.5 481.5,543.5 478.5,543.5 474.5,538.5"/>
<polygon class="ln" points="520.5,533.5 524.5,533.5 524.5,537.5 528.5,537.5 528.5,553.5 520.5,553.5"/>
<polygon class="ln" points="504.5,546.5 520.5,545.5 520.5,558.5 514.5,557.5 510.5,560.5 504.5,556.5"/>
<polygon class="ln" points="449.5,546.5 455.5,545.5 460.5,542.5 470.5,542.5 478.5,544.5 479.5,547.5 460.5,553.5 449.5,554.5"/>
<polygon class="ln" points="547.5,620.5 570.5,628.5 570.5,650.5 558.5,648.5 552.5,642.5 550.5,631.5"/>
<polygon class="ln" points="488.5,720.5 496.5,720.5 496.5,735.5 488.5,735.5"/>
<polygon class="ln" points="544.5,720.5 560.5,720.5 560.5,736.5 544.5,736.5"/>
<polygon class="ln" points="416.5,656.5 432.5,656.5 432.5,688.5 416.5,688.5"/>
<polygon class="ln" points="504.5,672.5 528.5,687.5 528.5,692.5 520.5,692.5 519.5,688.5 512.5,687.5 512.5,679.5 504.5,679.5"/>
<polygon class="ln" points="282.5,552.5 289.5,555.5 289.5,559.5 298.5,559.5 298.5,562.5 282.5,562.5"/>
<polygon class="ln" points="282.5,562.5 289.5,562.5 289.5,569.5 282.5,569.5"/>
<polygon class="ln" points="282.5,536.5 298.5,536.5 298.5,542.5 286.5,542.5 286.5,547.5 282.5,547.5"/>
<polygon class="ln" points="336.5,591.5 351.5,591.5 351.5,596.5 348.5,601.5 340.5,596.5 336.5,596.5"/>
<polygon class="ln" points="336.5,596.5 340.5,596.5 348.5,601.5 347.5,608.5 336.5,608.5"/>
<polygon class="ln" points="331.5,605.5 336.5,605.5 336.5,615.5 331.5,615.5"/>
<polygon class="ln" points="348.5,601.5 355.5,598.5 358.5,599.5 360.5,608.5 355.5,608.5"/>
<polygon class="ln" points="307.5,536.5 316.5,531.5 316.5,538.5 306.5,538.5"/>
<polygon class="ln" points="391.5,533.5 398.5,530.5 408.5,531.5 411.5,533.5 416.5,533.5 421.5,535.5 428.5,533.5 430.5,531.5 430.5,561.5 425.5,561.5 420.5,564.5 417.5,567.5 416.5,574.5 414.5,573.5 408.5,572.5 396.5,571.5 396.5,570.5 397.5,565.5 399.5,563.5 398.5,558.5 396.5,555.5 392.5,554.5 392.5,543.5 391.5,541.5 391.5,533.5"/>
<polygon class="ln" points="417.5,567.5 420.5,564.5 425.5,561.5 429.5,561.5 430.5,573.5 423.5,573.5 423.5,574.5 428.5,579.5 429.5,585.5 427.5,584.5 421.5,583.5 419.5,579.5 415.5,577.5 416.5,574.5"/>
<polygon class="ln" points="336.5,591.5 351.5,591.5 351.5,597.5 359.5,598.5 359.5,606.5 361.5,608.5 336.5,608.5"/>
<polygon class="ln" points="362.5,603.5 367.5,603.5 369.5,608.5 375.5,608.5 381.5,608.5 362.5,608.5"/>
<polygon class="ln" points="417.5,609.5 413.5,604.5 421.5,596.5 426.5,592.5 426.5,609.5"/>
<polygon class="ln" points="245.5,569.5 254.5,569.5 254.5,586.5 253.5,593.5 242.5,593.5 242.5,587.5 245.5,586.5 248.5,582.5 246.5,577.5"/>
<polygon class="ln" points="254.5,569.5 263.5,569.5 263.5,586.5 254.5,586.5"/>
<polygon class="ln" points="234.5,601.5 253.5,601.5 253.5,610.5 240.5,610.5 240.5,607.5 237.5,606.5"/>
<polygon class="ln" points="235.5,589.5 242.5,589.5 242.5,593.5 235.5,593.5"/>
<polygon class="ln" points="192.5,599.5 196.5,590.5 206.5,592.5 212.5,594.5 216.5,602.5 216.5,609.5 210.5,607.5 200.5,602.5"/>
<polygon class="ln" points="640.5,665.5 643.5,663.5 644.5,666.5 642.5,669.5 640.5,668.5"/>
<polygon class="ln" points="389.5,625.5 397.5,618.5 401.5,624.5 394.5,632.5 391.5,630.5"/>
<polygon class="ln" points="408.5,608.5 413.5,604.5 425.5,618.5 420.5,622.5"/>
<polygon class="ln" points="426.5,591.5 442.5,594.5 443.5,609.5 426.5,609.5"/>
<polyline class="ln" points="230.5,405.5 322.5,405.5 367.5,403.5 438.5,396.5"/>
<polyline class="ln" points="265.5,405.5 265.5,434.5 269.5,437.5 269.5,487.5"/>
<polyline class="ln" points="230.5,480.5 269.5,480.5"/>
<polyline class="ln" points="230.5,431.5 236.5,438.5 242.5,445.5 243.5,455.5 247.5,463.5 250.5,470.5 246.5,477.5 250.5,480.5"/>
<polyline class="ln" points="302.5,405.5 303.5,451.5 300.5,457.5 295.5,462.5 291.5,467.5 288.5,475.5 286.5,480.5"/>
<polyline class="ln" points="270.5,460.5 292.5,460.5 296.5,460.5 300.5,465.5 302.5,471.5 302.5,483.5"/>
<polyline class="ln" points="282.5,460.5 283.5,465.5 284.5,470.5 280.5,474.5 277.5,479.5"/>
<polyline class="ln" points="323.5,405.5 323.5,469.5 318.5,471.5 316.5,475.5 316.5,483.5 287.5,483.5 287.5,480.5 270.5,479.5 269.5,487.5 238.5,487.5 230.5,485.5"/>
<polyline class="ln" points="328.5,405.5 329.5,411.5 326.5,418.5 327.5,425.5 326.5,431.5 328.5,438.5 328.5,446.5 329.5,449.5 340.5,466.5 343.5,475.5 340.5,483.5 336.5,491.5 332.5,499.5 328.5,507.5 329.5,523.5"/>
<polyline class="ln" points="326.5,469.5 340.5,469.5"/>
<polyline class="ln" points="326.5,449.5 326.5,482.5 341.5,483.5 323.5,483.5 316.5,489.5 324.5,493.5 326.5,502.5 329.5,507.5"/>
<polyline class="ln" points="366.5,404.5 366.5,406.5 363.5,411.5 363.5,421.5 358.5,423.5 358.5,433.5 359.5,435.5 354.5,441.5 351.5,450.5 354.5,455.5 350.5,461.5 351.5,466.5 348.5,470.5 352.5,475.5 351.5,483.5 347.5,490.5 343.5,495.5 344.5,502.5 346.5,505.5 339.5,510.5 336.5,518.5 335.5,523.5"/>
<polyline class="ln" points="390.5,403.5 390.5,450.5 386.5,455.5 390.5,458.5"/>
<polyline class="ln" points="395.5,461.5 383.5,465.5 373.5,473.5 376.5,474.5 376.5,495.5 373.5,495.5 376.5,498.5 376.5,518.5"/>
<polyline class="ln" points="346.5,505.5 354.5,503.5 376.5,505.5"/>
<polyline class="ln" points="376.5,498.5 383.5,497.5 396.5,495.5"/>
<polyline class="ln" points="391.5,505.5 391.5,518.5 384.5,521.5"/>
<polyline class="ln" points="239.5,487.5 239.5,491.5"/>
<polyline class="ln" points="264.5,487.5 264.5,495.5"/>
<polyline class="ln" points="280.5,483.5 280.5,510.5"/>
<polyline class="ln" points="270.5,485.5 287.5,485.5 287.5,487.5 294.5,487.5 294.5,483.5"/>
<polyline class="ln" points="294.5,487.5 295.5,491.5 295.5,495.5"/>
<polyline class="ln" points="304.5,483.5 304.5,498.5 324.5,498.5"/>
<polyline class="ln" points="304.5,505.5 326.5,506.5"/>
<polyline class="ln" points="314.5,498.5 314.5,506.5"/>
<polyline class="ln" points="315.5,483.5 315.5,491.5 324.5,493.5"/>
<polyline class="ln" points="336.5,529.5 336.5,630.5"/>
<polyline class="ln" points="362.5,612.5 362.5,624.5"/>
<polyline class="ln" points="344.5,608.5 344.5,621.5"/>
<polyline class="ln" points="280.5,612.5 280.5,626.5"/>
<polyline class="ln" points="260.5,610.5 260.5,622.5"/>
<polyline class="ln" points="336.5,608.5 362.5,608.5"/>
<polyline class="ln" points="344.5,618.5 362.5,618.5"/>
<polyline class="ln" points="288.5,612.5 288.5,625.5"/>
<polyline class="ln" points="298.5,612.5 298.5,625.5"/>
<polyline class="ln" points="312.5,612.5 312.5,624.5"/>
<polyline class="ln" points="324.5,612.5 324.5,626.5"/>
<polyline class="ln" points="336.5,596.5 346.5,602.5 357.5,608.5 373.5,613.5 382.5,616.5"/>
<polyline class="ln" points="253.5,625.5 270.5,626.5 288.5,625.5 305.5,625.5 320.5,626.5 336.5,630.5 353.5,640.5 368.5,653.5 384.5,642.5 389.5,637.5 382.5,626.5 373.5,625.5 362.5,622.5 349.5,621.5 336.5,622.5"/>
<polyline class="ln" points="257.5,633.5 264.5,632.5 270.5,626.5"/>
<polyline class="ln" points="264.5,632.5 292.5,664.5"/>
<polyline class="ln" points="368.5,653.5 366.5,670.5 361.5,680.5 333.5,690.5"/>
<polyline class="ln" points="384.5,642.5 384.5,657.5 366.5,670.5"/>
<polyline class="ln" points="389.5,637.5 410.5,634.5 414.5,638.5 408.5,653.5 396.5,673.5 400.5,690.5"/>
<polyline class="ln" points="384.5,657.5 412.5,638.5"/>
<polyline class="ln" points="426.5,592.5 437.5,610.5 424.5,630.5 414.5,638.5 413.5,657.5"/>
<polyline class="ln" points="426.5,592.5 426.5,609.5 443.5,609.5 443.5,596.5 430.5,589.5"/>
<polyline class="ln" points="430.5,532.5 430.5,589.5"/>
<polyline class="ln" points="430.5,554.5 460.5,554.5"/>
<polyline class="ln" points="446.5,554.5 446.5,594.5"/>
<polyline class="ln" points="430.5,565.5 446.5,565.5"/>
<polyline class="ln" points="430.5,577.5 448.5,577.5"/>
<polyline class="ln" points="240.5,633.5 254.5,650.5 265.5,657.5"/>
<polyline class="ln" points="265.5,640.5 288.5,640.5 288.5,648.5 296.5,648.5 296.5,664.5 272.5,664.5 272.5,656.5 265.5,656.5 265.5,640.5"/>
<polyline class="ln" points="288.5,633.5 304.5,626.5"/>
<polyline class="ln" points="280.5,664.5 280.5,690.5"/>
<polyline class="ln" points="291.5,664.5 291.5,690.5"/>
<polyline class="ln" points="416.5,657.5 460.5,656.5"/>
<polyline class="ln" points="416.5,665.5 460.5,665.5"/>
<polyline class="ln" points="416.5,676.5 460.5,676.5"/>
<polyline class="ln" points="432.5,657.5 432.5,690.5"/>
<polyline class="ln" points="448.5,624.5 448.5,690.5"/>
<polyline class="ln" points="440.5,640.5 440.5,656.5"/>
<polyline class="ln" points="424.5,680.5 424.5,690.5"/>
<polyline class="ln" points="437.5,610.5 460.5,609.5"/>
<polyline class="ln" points="448.5,624.5 460.5,624.5"/>
<polyline class="ln" points="440.5,640.5 460.5,640.5"/>
<polyline class="ln" points="416.5,657.5 417.5,653.5 429.5,646.5 440.5,645.5"/>
<polyline class="ln" points="225.5,569.5 225.5,593.5"/>
<polyline class="ln" points="235.5,569.5 235.5,594.5"/>
<polyline class="ln" points="234.5,594.5 234.5,615.5"/>
<polyline class="ln" points="220.5,551.5 220.5,568.5"/>
<polyline class="ln" points="209.5,560.5 209.5,567.5"/>
<polyline class="ln" points="253.5,594.5 253.5,629.5"/>
<polyline class="ln" points="270.5,586.5 270.5,622.5"/>
<polyline class="ln" points="212.5,593.5 270.5,593.5"/>
<polyline class="ln" points="212.5,581.5 235.5,581.5"/>
<polyline class="ln" points="200.5,562.5 235.5,562.5"/>
<polyline class="ln" points="209.5,559.5 220.5,559.5"/>
<polyline class="ln" points="234.5,601.5 270.5,601.5"/>
<polyline class="ln" points="240.5,610.5 270.5,610.5"/>
<polyline class="ln" points="254.5,586.5 270.5,586.5"/>
<polyline class="ln" points="245.5,569.5 281.5,569.5"/>
<polyline class="ln" points="236.5,563.5 255.5,563.5"/>
<polyline class="ln" points="245.5,551.5 245.5,563.5"/>
<polyline class="ln" points="255.5,550.5 255.5,569.5"/>
<polyline class="ln" points="236.5,582.5 245.5,578.5"/>
<polyline class="ln" points="176.5,579.5 183.5,584.5 190.5,589.5 196.5,590.5"/>
<polyline class="ln" points="177.5,586.5 184.5,595.5 192.5,599.5"/>
<polyline class="ln" points="153.5,568.5 160.5,574.5 168.5,582.5 177.5,590.5"/>
<polyline class="ln" points="258.5,633.5 265.5,634.5 270.5,640.5 280.5,650.5 285.5,657.5"/>
<polyline class="ln" points="264.5,632.5 270.5,628.5 280.5,626.5 295.5,624.5"/>
<polyline class="ln" style="stroke-width:1.6" points="164.5,625.5 200.5,614.5"/>
<polyline class="ln" style="stroke-width:1.4" points="195.5,640.5 203.5,641.5"/>
<polyline class="ln" style="stroke-width:1.4" points="200.5,649.5 215.5,651.5"/>
<polyline class="ln" points="181.5,404.5 202.5,405.5 218.5,405.5 230.5,405.5"/>
<polyline class="ln" points="218.5,405.5 217.5,430.5 217.5,450.5 217.5,480.5 230.5,480.5"/>
<polyline class="ln" points="224.5,405.5 225.5,420.5 228.5,428.5 230.5,430.5"/>
<polyline class="ln" points="183.5,468.5 187.5,468.5 192.5,470.5 217.5,470.5"/>
<polyline class="ln" points="183.5,468.5 182.5,479.5"/>
<polyline class="ln" points="163.5,433.5 158.5,442.5 156.5,450.5 159.5,455.5 165.5,454.5 170.5,456.5 168.5,460.5 168.5,464.5 160.5,463.5"/>
<polyline class="ln" points="217.5,482.5 231.5,487.5"/>
<polyline class="ln" points="249.5,532.5 261.5,544.5 269.5,552.5"/>
<polyline class="ln" points="253.5,530.5 265.5,542.5 275.5,551.5"/>
<polyline class="ln" points="257.5,533.5 267.5,542.5 279.5,546.5"/>
<polyline class="ln" points="261.5,530.5 271.5,539.5"/>
<polyline class="ln" points="249.5,540.5 257.5,548.5 261.5,554.5"/>
<polyline class="ln" points="253.5,544.5 261.5,536.5 269.5,530.5"/>
<polyline class="ln" points="257.5,550.5 265.5,542.5 275.5,536.5"/>
<polyline class="ln" points="261.5,554.5 269.5,548.5 279.5,538.5"/>
<polyline class="ln" points="247.5,546.5 245.5,548.5 245.5,557.5 235.5,557.5 235.5,567.5"/>
<polyline class="ln" points="282.5,533.5 282.5,548.5 283.5,553.5"/>
<polyline class="ln" points="279.5,552.5 282.5,548.5"/>
<polyline class="ln" points="245.5,563.5 255.5,563.5 255.5,555.5 259.5,553.5"/>
<polyline class="ln" points="267.5,556.5 271.5,558.5 271.5,563.5 255.5,563.5"/>
<polyline class="ln" points="220.5,551.5 220.5,567.5"/>
<polyline class="ln" points="209.5,559.5 235.5,559.5"/>
<polyline class="ln" points="298.5,540.5 298.5,567.5"/>
<polyline class="ln" points="306.5,536.5 306.5,567.5"/>
<polyline class="ln" points="282.5,542.5 298.5,547.5"/>
<polyline class="ln" points="283.5,547.5 336.5,547.5"/>
<polyline class="ln" points="316.5,530.5 316.5,547.5"/>
<polyline class="ln" points="332.5,531.5 331.5,547.5"/>
<polyline class="ln" points="336.5,530.5 336.5,567.5"/>
<polyline class="ln" points="283.5,555.5 336.5,555.5"/>
<polyline class="ln" points="283.5,562.5 336.5,562.5"/>
<polyline class="ln" points="313.5,547.5 313.5,567.5"/>
<polyline class="ln" points="322.5,547.5 322.5,567.5"/>
<polyline class="ln" points="289.5,553.5 289.5,567.5"/>
<polyline class="ln" points="351.5,532.5 351.5,567.5"/>
<polyline class="ln" points="337.5,543.5 370.5,543.5"/>
<polyline class="ln" points="363.5,543.5 363.5,567.5"/>
<polyline class="ln" points="336.5,549.5 351.5,549.5"/>
<polyline class="ln" points="576.5,540.5 576.5,628.5"/>
<polyline class="ln" points="640.5,520.5 640.5,554.5"/>
<polyline class="ln" points="528.5,533.5 528.5,640.5"/>
<polyline class="ln" points="520.5,533.5 520.5,566.5"/>
<polyline class="ln" points="544.5,538.5 544.5,578.5"/>
<polyline class="ln" points="484.5,548.5 484.5,610.5"/>
<polyline class="ln" points="624.5,586.5 624.5,618.5"/>
<polyline class="ln" points="655.5,588.5 655.5,608.5"/>
<polyline class="ln" points="606.5,608.5 606.5,673.5"/>
<polyline class="ln" points="671.5,608.5 671.5,653.5"/>
<polyline class="ln" points="662.5,609.5 662.5,625.5"/>
<polyline class="ln" points="585.5,633.5 585.5,690.5"/>
<polyline class="ln" points="591.5,608.5 591.5,634.5"/>
<polyline class="ln" points="576.5,598.5 576.5,629.5"/>
<polyline class="ln" points="464.5,618.5 464.5,690.5"/>
<polyline class="ln" points="488.5,621.5 488.5,656.5"/>
<polyline class="ln" points="496.5,632.5 496.5,690.5"/>
<polyline class="ln" points="504.5,640.5 504.5,664.5"/>
<polyline class="ln" points="512.5,617.5 512.5,664.5"/>
<polyline class="ln" points="520.5,625.5 520.5,640.5"/>
<polyline class="ln" points="540.5,656.5 540.5,664.5"/>
<polyline class="ln" points="544.5,621.5 544.5,664.5"/>
<polyline class="ln" points="558.5,656.5 558.5,690.5"/>
<polyline class="ln" points="623.5,656.5 623.5,681.5"/>
<polyline class="ln" points="480.5,656.5 480.5,690.5"/>
<polyline class="ln" points="473.5,672.5 473.5,690.5"/>
<polyline class="ln" points="591.5,669.5 591.5,690.5"/>
<polyline class="ln" points="591.5,608.5 680.5,608.5"/>
<polyline class="ln" points="460.5,562.5 485.5,562.5"/>
<polyline class="ln" points="460.5,577.5 485.5,577.5"/>
<polyline class="ln" points="480.5,547.5 504.5,547.5"/>
<polyline class="ln" points="460.5,640.5 528.5,640.5"/>
<polyline class="ln" points="464.5,632.5 497.5,632.5"/>
<polyline class="ln" points="460.5,656.5 504.5,656.5"/>
<polyline class="ln" points="585.5,656.5 606.5,656.5"/>
<polyline class="ln" points="504.5,664.5 558.5,664.5"/>
<polyline class="ln" points="460.5,672.5 480.5,672.5"/>
<polyline class="ln" points="529.5,656.5 540.5,656.5"/>
<polyline class="ln" points="528.5,537.5 544.5,537.5"/>
<polyline class="ln" points="528.5,553.5 540.5,553.5"/>
<polyline class="ln" points="577.5,612.5 591.5,612.5"/>
<polyline class="ln" points="513.5,616.5 528.5,616.5"/>
<polyline class="ln" points="480.5,680.5 504.5,680.5"/>
<polyline class="ln" points="575.5,540.5 580.5,536.5 590.5,532.5 597.5,526.5 596.5,521.5 589.5,520.5"/>
<polyline class="ln" points="575.5,540.5 566.5,546.5 562.5,553.5 558.5,562.5 553.5,572.5 545.5,578.5 534.5,585.5 526.5,590.5 520.5,598.5"/>
<polyline class="ln" points="520.5,598.5 524.5,605.5 529.5,612.5 537.5,616.5 546.5,620.5 561.5,623.5 576.5,628.5 585.5,633.5 591.5,634.5"/>
<polyline class="ln" points="496.5,548.5 545.5,578.5"/>
<polyline class="ln" points="546.5,620.5 548.5,626.5 550.5,633.5 553.5,642.5 558.5,648.5 570.5,649.5 582.5,645.5 590.5,637.5 591.5,634.5 606.5,628.5 614.5,624.5 622.5,620.5 630.5,619.5 638.5,621.5 648.5,630.5 652.5,641.5 660.5,649.5 671.5,652.5 680.5,658.5"/>
<polyline class="ln" points="640.5,554.5 632.5,554.5 632.5,560.5 640.5,560.5 640.5,568.5 625.5,568.5 625.5,574.5 613.5,578.5"/>
<polyline class="ln" points="655.5,592.5 670.5,592.5 673.5,594.5 680.5,592.5"/>
<polyline class="ln" points="485.5,610.5 489.5,618.5 493.5,626.5 500.5,634.5 513.5,638.5"/>
<polyline class="ln" points="493.5,589.5 496.5,580.5 504.5,572.5 516.5,573.5 517.5,589.5 493.5,589.5"/>
<polyline class="ln" points="493.5,589.5 494.5,597.5 493.5,609.5"/>
<polyline class="ln" points="494.5,608.5 504.5,613.5 513.5,615.5 528.5,614.5"/>
<polyline class="ln" points="516.5,573.5 524.5,573.5 524.5,586.5 520.5,598.5"/>
<polyline class="ln" points="517.5,589.5 520.5,598.5"/>
<polyline class="ln" points="460.5,598.5 470.5,598.5 484.5,592.5"/>
<polyline class="ln" points="460.5,608.5 484.5,609.5"/>
<polyline class="ln" points="558.5,648.5 558.5,656.5"/>
<polyline class="ln" points="584.5,645.5 582.5,656.5 585.5,665.5 593.5,669.5 606.5,673.5 623.5,681.5 633.5,686.5"/>
<polyline class="ln" points="623.5,656.5 640.5,656.5 649.5,641.5"/>
<polyline class="ln" points="640.5,656.5 641.5,664.5 644.5,673.5 648.5,681.5 660.5,682.5 668.5,666.5 680.5,666.5"/>
<polyline class="ln" points="640.5,649.5 649.5,656.5 660.5,661.5 680.5,666.5"/>
<polyline class="ln" points="500.5,669.5 528.5,685.5"/>
<polyline class="ln" points="505.5,674.5 518.5,682.5"/>
<polyline class="ln" points="460.5,528.5 470.5,537.5 480.5,537.5"/>
<polyline class="ln" points="480.5,528.5 480.5,546.5"/>
<polyline class="ln" points="624.5,465.5 612.5,476.5 603.5,481.5 594.5,491.5 586.5,501.5 583.5,509.5 587.5,517.5 590.5,520.5"/>
<polyline class="ln" points="655.5,464.5 646.5,477.5 644.5,481.5 644.5,489.5 640.5,493.5 639.5,495.5 639.5,520.5"/>
<polyline class="ln" points="680.5,592.5 682.5,591.5 686.5,585.5 686.5,573.5 689.5,569.5 692.5,572.5 703.5,573.5 718.5,574.5 718.5,584.5 729.5,584.5 729.5,577.5 738.5,569.5 750.5,563.5 765.5,560.5"/>
<polyline class="ln" points="680.5,608.5 766.5,608.5"/>
<polyline class="ln" points="671.5,608.5 671.5,652.5"/>
<polyline class="ln" points="585.5,646.5 585.5,770.5"/>
<polyline class="ln" points="591.5,672.5 591.5,770.5"/>
<polyline class="ln" points="606.5,626.5 606.5,662.5"/>
<polyline class="ln" points="608.5,688.5 608.5,712.5"/>
<polyline class="ln" points="623.5,657.5 623.5,681.5"/>
<polyline class="ln" points="623.5,745.5 623.5,766.5"/>
<polyline class="ln" points="654.5,701.5 654.5,758.5"/>
<polyline class="ln" points="686.5,720.5 686.5,770.5"/>
<polyline class="ln" points="639.5,752.5 639.5,766.5"/>
<polyline class="ln" points="608.5,758.5 608.5,770.5"/>
<polyline class="ln" points="592.5,688.5 608.5,688.5"/>
<polyline class="ln" points="623.5,656.5 640.5,656.5"/>
<polyline class="ln" points="608.5,766.5 639.5,766.5"/>
<polyline class="ln" points="740.5,609.5 734.5,613.5 727.5,613.5 722.5,620.5 716.5,625.5 711.5,620.5 703.5,617.5 696.5,618.5 690.5,620.5 687.5,624.5 687.5,634.5 683.5,640.5 683.5,646.5 687.5,649.5 684.5,656.5 682.5,660.5"/>
<polyline class="ln" points="674.5,653.5 682.5,660.5 690.5,665.5 703.5,666.5 716.5,665.5 730.5,662.5 740.5,662.5"/>
<polyline class="ln" points="633.5,686.5 639.5,692.5 655.5,701.5 687.5,720.5 716.5,737.5 740.5,752.5"/>
<polyline class="ln" points="639.5,692.5 634.5,698.5 610.5,725.5"/>
<polyline class="ln" points="640.5,656.5 642.5,652.5 640.5,649.5 650.5,641.5"/>
<polyline class="ln" points="642.5,657.5 650.5,656.5 656.5,661.5 668.5,665.5 682.5,666.5 668.5,666.5 663.5,681.5 656.5,682.5 647.5,682.5 647.5,676.5 642.5,672.5 641.5,666.5 642.5,657.5"/>
<polyline class="ln" points="598.5,733.5 598.5,745.5 591.5,745.5 591.5,736.5 598.5,735.5 603.5,734.5 607.5,736.5 607.5,741.5 603.5,742.5 603.5,745.5 598.5,745.5"/>
<polyline class="ln" points="584.5,726.5 587.5,724.5 598.5,723.5 599.5,725.5 608.5,725.5"/>
<polyline class="ln" points="740.5,662.5 741.5,770.5"/>
<polyline class="ln" points="585.5,724.5 585.5,847.5"/>
<polyline class="ln" points="639.5,752.5 639.5,847.5"/>
<polyline class="ln" points="608.5,768.5 608.5,815.5"/>
<polyline class="ln" points="591.5,760.5 591.5,776.5"/>
<polyline class="ln" points="623.5,748.5 623.5,767.5"/>
<polyline class="ln" points="654.5,702.5 654.5,758.5"/>
<polyline class="ln" points="686.5,720.5 686.5,773.5"/>
<polyline class="ln" points="560.5,769.5 560.5,784.5"/>
<polyline class="ln" points="512.5,769.5 512.5,784.5"/>
<polyline class="ln" points="584.5,776.5 608.5,776.5"/>
<polyline class="ln" points="512.5,784.5 560.5,784.5"/>
<polyline class="ln" points="608.5,768.5 638.5,767.5"/>
<polyline class="ln" points="584.5,816.5 608.5,815.5"/>
<polyline class="ln" points="614.5,742.5 640.5,754.5 670.5,768.5 690.5,776.5 703.5,781.5 718.5,785.5 742.5,786.5"/>
<polyline class="ln" points="502.5,769.5 512.5,769.5"/>
<polyline class="ln" points="213.5,672.5 240.5,672.5"/>
<polyline class="ln" points="213.5,680.5 280.5,680.5"/>
<polyline class="ln" points="213.5,688.5 280.5,688.5"/>
<polyline class="ln" points="214.5,696.5 248.5,696.5"/>
<polyline class="ln" points="255.5,696.5 280.5,696.5"/>
<polyline class="ln" points="213.5,704.5 291.5,704.5"/>
<polyline class="ln" points="231.5,672.5 231.5,724.5"/>
<polyline class="ln" points="247.5,680.5 247.5,704.5"/>
<polyline class="ln" points="255.5,688.5 255.5,704.5"/>
<polyline class="ln" points="263.5,680.5 263.5,696.5"/>
<polyline class="ln" points="280.5,664.5 280.5,704.5"/>
<polyline class="ln" points="291.5,664.5 291.5,705.5"/>
<polyline class="ln" points="223.5,657.5 223.5,672.5"/>
<polyline class="ln" points="271.5,696.5 271.5,704.5"/>
<polyline class="ln" points="250.5,672.5 250.5,680.5"/>
<polyline class="ln" points="255.5,660.5 255.5,680.5"/>
<polyline class="ln" points="259.5,660.5 259.5,680.5"/>
<polyline class="ln" points="214.5,657.5 224.5,657.5 231.5,657.5 239.5,658.5"/>
<polyline class="ln" points="265.5,656.5 272.5,656.5 272.5,664.5 296.5,664.5 296.5,648.5 288.5,648.5 288.5,640.5"/>
<polyline class="ln" points="270.5,641.5 292.5,664.5"/>
<polyline class="ln" points="217.5,720.5 230.5,725.5 249.5,731.5 255.5,740.5 263.5,753.5 266.5,755.5 278.5,755.5 284.5,751.5 290.5,730.5 291.5,721.5 300.5,717.5 310.5,708.5 318.5,699.5 325.5,692.5 330.5,689.5"/>
<polyline class="ln" points="291.5,705.5 295.5,712.5 300.5,717.5 305.5,725.5 313.5,732.5 312.5,745.5 305.5,741.5 300.5,745.5 300.5,751.5 295.5,751.5 291.5,748.5 285.5,751.5"/>
<polyline class="ln" points="295.5,751.5 297.5,757.5 298.5,762.5 289.5,763.5 288.5,760.5 278.5,756.5"/>
<polyline class="ln" points="295.5,751.5 327.5,751.5 327.5,756.5 320.5,757.5 320.5,759.5 298.5,759.5"/>
<polyline class="ln" points="300.5,751.5 320.5,751.5 320.5,747.5 312.5,745.5"/>
<polyline class="ln" points="229.5,725.5 231.5,716.5 230.5,704.5"/>
<polyline class="ln" points="223.5,713.5 228.5,713.5 223.5,713.5"/>
<polyline class="ln" points="239.5,658.5 240.5,665.5 239.5,672.5"/>
<polyline class="ln" points="416.5,657.5 416.5,686.5"/>
<polyline class="ln" points="432.5,657.5 432.5,749.5"/>
<polyline class="ln" points="448.5,656.5 448.5,736.5"/>
<polyline class="ln" points="464.5,656.5 464.5,744.5"/>
<polyline class="ln" points="480.5,672.5 480.5,720.5"/>
<polyline class="ln" points="496.5,672.5 496.5,742.5"/>
<polyline class="ln" points="504.5,670.5 504.5,684.5"/>
<polyline class="ln" points="512.5,640.5 512.5,664.5"/>
<polyline class="ln" points="512.5,684.5 512.5,736.5"/>
<polyline class="ln" points="528.5,640.5 528.5,702.5"/>
<polyline class="ln" points="528.5,720.5 528.5,736.5"/>
<polyline class="ln" points="544.5,700.5 544.5,736.5"/>
<polyline class="ln" points="558.5,656.5 558.5,704.5"/>
<polyline class="ln" points="560.5,768.5 560.5,784.5"/>
<polyline class="ln" points="585.5,640.5 585.5,810.5"/>
<polyline class="ln" points="591.5,670.5 591.5,776.5"/>
<polyline class="ln" points="608.5,686.5 608.5,712.5"/>
<polyline class="ln" points="608.5,760.5 608.5,810.5"/>
<polyline class="ln" points="440.5,704.5 440.5,720.5"/>
<polyline class="ln" points="472.5,800.5 472.5,810.5"/>
<polyline class="ln" points="449.5,800.5 449.5,810.5"/>
<polyline class="ln" points="496.5,786.5 496.5,810.5"/>
<polyline class="ln" points="416.5,656.5 512.5,656.5"/>
<polyline class="ln" points="584.5,656.5 607.5,656.5"/>
<polyline class="ln" points="416.5,665.5 480.5,665.5"/>
<polyline class="ln" points="512.5,664.5 544.5,664.5"/>
<polyline class="ln" points="409.5,688.5 496.5,688.5"/>
<polyline class="ln" points="592.5,688.5 607.5,688.5"/>
<polyline class="ln" points="410.5,704.5 496.5,704.5"/>
<polyline class="ln" points="512.5,704.5 528.5,704.5"/>
<polyline class="ln" points="432.5,720.5 584.5,720.5"/>
<polyline class="ln" points="496.5,736.5 584.5,736.5"/>
<polyline class="ln" points="559.5,768.5 584.5,768.5"/>
<polyline class="ln" points="496.5,784.5 559.5,784.5"/>
<polyline class="ln" points="584.5,776.5 607.5,776.5"/>
<polyline class="ln" points="437.5,800.5 496.5,800.5"/>
<polyline class="ln" points="528.5,656.5 540.5,656.5"/>
<polyline class="ln" points="432.5,748.5 464.5,745.5 496.5,742.5"/>
<polyline class="ln" points="432.5,736.5 464.5,735.5 496.5,735.5"/>
<polyline class="ln" points="497.5,669.5 513.5,677.5 528.5,686.5"/>
<polyline class="ln" points="545.5,700.5 553.5,705.5 574.5,719.5"/>
<polyline class="ln" points="400.5,686.5 408.5,689.5 410.5,704.5 408.5,720.5 417.5,722.5 422.5,729.5 426.5,741.5 430.5,749.5"/>
<polyline class="ln" points="408.5,720.5 412.5,712.5 417.5,708.5 428.5,712.5 428.5,718.5 432.5,719.5"/>
<polyline class="ln" points="400.5,666.5 408.5,657.5 413.5,645.5"/>
<polyline class="ln" points="558.5,656.5 558.5,664.5"/>
<polyline class="ln" points="512.5,769.5 502.5,769.5 496.5,773.5 490.5,776.5 488.5,777.5 482.5,773.5 480.5,776.5"/>
<polyline class="ln" points="512.5,768.5 512.5,784.5"/>
<polyline class="ln" points="440.5,785.5 449.5,786.5 456.5,781.5 461.5,776.5 469.5,776.5 472.5,769.5"/>
<polyline class="ln" points="592.5,736.5 598.5,735.5 604.5,733.5 608.5,736.5 607.5,741.5 600.5,745.5 592.5,744.5"/>
<polyline class="ln" points="584.5,744.5 592.5,745.5"/>
<polyline class="ln" points="602.5,720.5 620.5,714.5"/>
<polyline class="ln" points="608.5,726.5 620.5,744.5"/>
<polyline class="ln" points="432.5,720.5 432.5,749.5"/>
<polyline class="ln" points="448.5,720.5 448.5,736.5"/>
<polyline class="ln" points="464.5,720.5 464.5,735.5"/>
<polyline class="ln" points="512.5,720.5 512.5,735.5"/>
<polyline class="ln" points="449.5,800.5 449.5,823.5"/>
<polyline class="ln" points="472.5,770.5 472.5,816.5"/>
<polyline class="ln" points="464.5,816.5 464.5,823.5"/>
<polyline class="ln" points="436.5,800.5 508.5,800.5"/>
<polyline class="ln" points="449.5,816.5 512.5,816.5"/>
<polyline class="ln" points="496.5,784.5 535.5,784.5"/>
<polyline class="ln" points="433.5,731.5 441.5,731.5 441.5,728.5 440.5,727.5 440.5,720.5"/>
<polyline class="ln" points="432.5,735.5 439.5,735.5 439.5,737.5 448.5,736.5 464.5,735.5"/>
<polyline class="ln" points="432.5,748.5 465.5,744.5 496.5,741.5 496.5,720.5"/>
<polyline class="ln" points="464.5,735.5 465.5,744.5"/>
<polyline class="ln" points="465.5,727.5 484.5,727.5 489.5,733.5 496.5,735.5 535.5,736.5"/>
<polyline class="ln" points="407.5,720.5 410.5,724.5 417.5,726.5 421.5,730.5 426.5,740.5 430.5,749.5"/>
<polyline class="ln" points="481.5,774.5 483.5,773.5 488.5,775.5 493.5,774.5 498.5,771.5 503.5,769.5 512.5,769.5 512.5,784.5"/>
<polyline class="ln" points="482.5,772.5 488.5,778.5 496.5,785.5 504.5,794.5 512.5,807.5 520.5,818.5 526.5,831.5 529.5,847.5"/>
<polyline class="ln" points="512.5,807.5 512.5,833.5"/>
<polyline class="ln" points="496.5,829.5 504.5,826.5 512.5,826.5"/>
<polyline class="ln" points="496.5,816.5 496.5,829.5 512.5,833.5"/>
<polyline class="ln" points="448.5,788.5 454.5,786.5 460.5,782.5 462.5,777.5 470.5,774.5 472.5,769.5"/>
<polyline class="ln" points="254.5,740.5 262.5,753.5 266.5,755.5 278.5,755.5 283.5,753.5 287.5,740.5"/>
<polyline class="ln" points="278.5,755.5 288.5,761.5 288.5,763.5 297.5,763.5 298.5,761.5 295.5,752.5 291.5,748.5 283.5,753.5"/>
<polyline class="ln" points="295.5,752.5 327.5,751.5 327.5,756.5 321.5,757.5 320.5,759.5 298.5,759.5"/>
<polyline class="ln" points="299.5,751.5 300.5,745.5 305.5,741.5 312.5,744.5 320.5,747.5 321.5,751.5"/>
<polyline class="ln" points="304.5,804.5 304.5,848.5"/>
<polyline class="ln" points="281.5,823.5 304.5,823.5"/>
<polyline class="ln" points="288.5,837.5 292.5,837.5 292.5,835.5 304.5,835.5"/>
<polyline class="ln" points="289.5,823.5 289.5,814.5 304.5,804.5"/>
<polyline class="ln" points="305.5,812.5 315.5,812.5"/>
<polyline class="ln" points="264.5,794.5 257.5,802.5 249.5,811.5 244.5,817.5 239.5,823.5"/>
<polyline class="ln" points="265.5,795.5 258.5,802.5 250.5,811.5 245.5,817.5 240.5,823.5"/>
<polyline class="ln" points="279.5,825.5 269.5,835.5 258.5,844.5"/>
<polyline class="ln" points="480.5,500.5 480.5,526.5 480.5,540.5"/>
<polyline class="ln" points="514.5,465.5 518.5,470.5 517.5,475.5 520.5,483.5 518.5,490.5 519.5,497.5 518.5,504.5 520.5,506.5 517.5,510.5 518.5,518.5 519.5,522.5 517.5,527.5 516.5,532.5 514.5,540.5 513.5,545.5"/>
<polyline class="ln" points="504.5,502.5 508.5,504.5 512.5,508.5 514.5,513.5 513.5,519.5 510.5,525.5 509.5,530.5"/>
<polyline class="ln" points="504.5,502.5 503.5,508.5 505.5,514.5 504.5,520.5 504.5,528.5"/>
<polyline class="ln" points="481.5,513.5 486.5,513.5 489.5,516.5 495.5,517.5 500.5,523.5 504.5,528.5 509.5,530.5 519.5,528.5"/>
<polyline class="ln" points="489.5,516.5 488.5,525.5 490.5,530.5 489.5,536.5 491.5,540.5 491.5,548.5"/>
<polyline class="ln" points="480.5,547.5 486.5,547.5 495.5,548.5 504.5,556.5 512.5,560.5 520.5,567.5"/>
<polyline class="ln" points="496.5,538.5 498.5,540.5 505.5,539.5 504.5,545.5 499.5,550.5"/>
<polyline class="ln" points="430.5,532.5 430.5,554.5 449.5,554.5 449.5,535.5"/>
<polyline class="ln" points="430.5,554.5 431.5,567.5"/>
<polyline class="ln" points="447.5,554.5 448.5,567.5"/>
<polyline class="ln" points="459.5,554.5 459.5,567.5"/>
<polyline class="ln" points="484.5,547.5 484.5,567.5"/>
<polyline class="ln" points="442.5,533.5 441.5,538.5 439.5,544.5 440.5,550.5 443.5,552.5 447.5,550.5 448.5,545.5 446.5,539.5 444.5,533.5"/>
<polyline class="ln" points="376.5,494.5 376.5,518.5"/>
<polyline class="ln" points="370.5,504.5 376.5,504.5 391.5,504.5"/>
<polyline class="ln" points="376.5,496.5 390.5,496.5 395.5,497.5"/>
<polyline class="ln" points="448.5,623.5 448.5,656.5"/>
<polyline class="ln" points="456.5,628.5 456.5,656.5"/>
<polyline class="ln" points="464.5,616.5 464.5,656.5"/>
<polyline class="ln" points="488.5,623.5 488.5,656.5"/>
<polyline class="ln" points="496.5,632.5 496.5,656.5"/>
<polyline class="ln" points="448.5,640.5 504.5,640.5"/>
<polyline class="ln" points="464.5,632.5 496.5,632.5"/>
<polyline class="ln" points="448.5,624.5 455.5,624.5 456.5,628.5 464.5,628.5"/>
<polyline class="ln" points="464.5,616.5 483.5,615.5"/>
<polyline class="ln" points="429.5,590.5 425.5,595.5 418.5,599.5 413.5,604.5 406.5,609.5 403.5,612.5 397.5,616.5 388.5,624.5 384.5,628.5"/>
<polyline class="ln" points="389.5,637.5 393.5,633.5 401.5,624.5"/>
<polyline class="ln" points="415.5,638.5 420.5,633.5 423.5,629.5 428.5,622.5 433.5,614.5 437.5,610.5"/>
<polyline class="ln" points="386.5,593.5 391.5,600.5 395.5,604.5 402.5,612.5 407.5,618.5 411.5,622.5 418.5,629.5 420.5,633.5"/>
<polyline class="ln" points="405.5,596.5 413.5,604.5 418.5,610.5 425.5,618.5 427.5,622.5"/>
<polyline class="ln" points="406.5,609.5 411.5,615.5 417.5,621.5 423.5,629.5"/>
<polyline class="ln" points="397.5,616.5 401.5,624.5 407.5,628.5"/>
<polyline class="ln" points="387.5,625.5 393.5,632.5 394.5,634.5"/>
<polyline class="ln" points="382.5,629.5 389.5,637.5"/>
<polyline class="ln" points="413.5,617.5 418.5,622.5 422.5,626.5"/>
<polyline class="ln" points="394.5,634.5 410.5,634.5 411.5,636.5 414.5,637.5"/>
<polyline class="ln" points="382.5,606.5 382.5,616.5 383.5,622.5 382.5,629.5"/>
<polyline class="ln" points="373.5,615.5 382.5,616.5"/>
<polyline class="ln" points="345.5,595.5 351.5,596.5 358.5,600.5 361.5,608.5 362.5,606.5"/>
<polyline class="ln" points="362.5,586.5 362.5,623.5"/>
<polyline class="ln" points="407.5,624.5 410.5,622.5 413.5,626.5 409.5,629.5 407.5,626.5"/>
<polyline class="ln" points="271.5,562.5 271.5,578.5"/>
<polyline class="ln" points="282.5,534.5 282.5,578.5"/>
<polyline class="ln" points="289.5,558.5 289.5,586.5"/>
<polyline class="ln" points="288.5,586.5 288.5,615.5"/>
<polyline class="ln" points="298.5,534.5 298.5,569.5"/>
<polyline class="ln" points="296.5,578.5 296.5,586.5"/>
<polyline class="ln" points="296.5,603.5 296.5,611.5"/>
<polyline class="ln" points="300.5,578.5 300.5,595.5"/>
<polyline class="ln" points="306.5,538.5 306.5,569.5"/>
<polyline class="ln" points="313.5,546.5 313.5,562.5"/>
<polyline class="ln" points="313.5,569.5 313.5,576.5"/>
<polyline class="ln" points="312.5,586.5 312.5,615.5"/>
<polyline class="ln" points="302.5,595.5 302.5,615.5"/>
<polyline class="ln" points="316.5,530.5 316.5,546.5"/>
<polyline class="ln" points="322.5,546.5 322.5,562.5"/>
<polyline class="ln" points="322.5,562.5 322.5,576.5"/>
<polyline class="ln" points="323.5,576.5 323.5,582.5"/>
<polyline class="ln" points="322.5,591.5 322.5,599.5"/>
<polyline class="ln" points="324.5,599.5 324.5,615.5"/>
<polyline class="ln" points="329.5,563.5 329.5,582.5"/>
<polyline class="ln" points="331.5,532.5 331.5,546.5"/>
<polyline class="ln" points="351.5,532.5 351.5,596.5"/>
<polyline class="ln" points="363.5,543.5 363.5,563.5"/>
<polyline class="ln" points="362.5,586.5 362.5,615.5"/>
<polyline class="ln" points="344.5,607.5 344.5,615.5"/>
<polyline class="ln" points="298.5,547.5 336.5,547.5"/>
<polyline class="ln" points="298.5,555.5 336.5,555.5"/>
<polyline class="ln" points="262.5,562.5 372.5,562.5"/>
<polyline class="ln" points="282.5,569.5 313.5,569.5"/>
<polyline class="ln" points="314.5,576.5 322.5,576.5"/>
<polyline class="ln" points="271.5,578.5 301.5,578.5"/>
<polyline class="ln" points="314.5,582.5 336.5,582.5"/>
<polyline class="ln" points="276.5,586.5 311.5,586.5"/>
<polyline class="ln" points="336.5,584.5 351.5,584.5"/>
<polyline class="ln" points="336.5,591.5 351.5,591.5"/>
<polyline class="ln" points="270.5,595.5 311.5,595.5"/>
<polyline class="ln" points="312.5,599.5 336.5,599.5"/>
<polyline class="ln" points="270.5,603.5 312.5,603.5"/>
<polyline class="ln" points="336.5,608.5 347.5,608.5"/>
<polyline class="ln" points="302.5,609.5 324.5,609.5"/>
<polyline class="ln" points="270.5,611.5 302.5,611.5"/>
<polyline class="ln" points="336.5,543.5 351.5,543.5"/>
<polyline class="ln" points="351.5,543.5 372.5,543.5"/>
<polyline class="ln" points="362.5,557.5 372.5,557.5"/>
<polyline class="ln" points="306.5,538.5 316.5,538.5"/>
<polyline class="ln" points="301.5,578.5 307.5,583.5 312.5,586.5 318.5,590.5 323.5,594.5 328.5,596.5 336.5,596.5"/>
<polyline class="ln" points="313.5,582.5 320.5,583.5 326.5,586.5 331.5,590.5 336.5,595.5"/>
<polyline class="ln" points="336.5,595.5 340.5,596.5 348.5,601.5 355.5,606.5 362.5,611.5 372.5,615.5"/>
<polyline class="ln" points="301.5,570.5 304.5,571.5 306.5,574.5 302.5,575.5 301.5,578.5"/>
<polyline class="ln" points="351.5,570.5 358.5,571.5 362.5,572.5 362.5,576.5 367.5,576.5 372.5,580.5"/>
<polyline class="ln" points="351.5,584.5 360.5,585.5 361.5,586.5"/>
<polyline class="ln" points="271.5,578.5 270.5,583.5 269.5,586.5 270.5,590.5 270.5,615.5"/>
<polyline class="ln" points="270.5,583.5 275.5,583.5 276.5,586.5"/>
<polyline class="ln" points="351.5,532.5 351.5,563.5 350.5,571.5 351.5,585.5 351.5,598.5"/>
<polyline class="ln" points="337.5,542.5 351.5,543.5 362.5,543.5 379.5,543.5 383.5,543.5 385.5,542.5 391.5,541.5"/>
<polyline class="ln" points="337.5,549.5 351.5,549.5"/>
<polyline class="ln" points="337.5,562.5 351.5,562.5 360.5,563.5 362.5,562.5 369.5,562.5 375.5,565.5 378.5,565.5"/>
<polyline class="ln" points="337.5,584.5 351.5,584.5"/>
<polyline class="ln" points="337.5,591.5 351.5,591.5"/>
<polyline class="ln" points="363.5,543.5 363.5,557.5 363.5,562.5 362.5,564.5"/>
<polyline class="ln" points="379.5,543.5 379.5,565.5"/>
<polyline class="ln" points="363.5,557.5 379.5,557.5 387.5,557.5 387.5,553.5 389.5,552.5 392.5,554.5"/>
<polyline class="ln" points="378.5,565.5 381.5,567.5 387.5,567.5 391.5,570.5 394.5,571.5 396.5,571.5"/>
<polyline class="ln" points="378.5,565.5 379.5,570.5 381.5,575.5 385.5,580.5 389.5,583.5 393.5,585.5 399.5,586.5 403.5,584.5 408.5,581.5 415.5,577.5"/>
<polyline class="ln" points="350.5,571.5 362.5,572.5 362.5,576.5 366.5,577.5 372.5,582.5 378.5,587.5 375.5,590.5 374.5,597.5 379.5,598.5 382.5,601.5 382.5,610.5"/>
<polyline class="ln" points="379.5,577.5 380.5,585.5 378.5,587.5"/>
<polyline class="ln" points="380.5,585.5 385.5,587.5 390.5,589.5 386.5,593.5 391.5,599.5 395.5,604.5 399.5,609.5"/>
<polyline class="ln" points="399.5,586.5 401.5,591.5 405.5,596.5 411.5,603.5 417.5,609.5"/>
<polyline class="ln" points="429.5,589.5 421.5,596.5 413.5,604.5 407.5,610.5"/>
<polyline class="ln" points="383.5,606.5 391.5,599.5 401.5,599.5 405.5,596.5"/>
<polyline class="ln" points="351.5,586.5 362.5,586.5 362.5,598.5 351.5,598.5"/>
<polyline class="ln" points="361.5,598.5 375.5,599.5"/>
<polyline class="ln" points="429.5,589.5 431.5,591.5 439.5,593.5 443.5,598.5"/>
<polyline class="ln" points="441.5,531.5 442.5,538.5 439.5,545.5 441.5,551.5 445.5,552.5"/>
<polyline class="ln" points="426.5,592.5 426.5,609.5 443.5,609.5 443.5,598.5"/>
<polyline class="ln" points="340.5,595.5 348.5,601.5 355.5,607.5 358.5,610.5"/>
<polyline class="ln" points="347.5,601.5 347.5,607.5"/>
<polyline class="ln" points="205.5,548.5 200.5,546.5 194.5,545.5 188.5,544.5 182.5,544.5 176.5,544.5 172.5,547.5 168.5,551.5 165.5,554.5 164.5,560.5 166.5,563.5 165.5,566.5 167.5,566.5 170.5,571.5 173.5,575.5 176.5,579.5 177.5,586.5 178.5,590.5 183.5,596.5 187.5,600.5 191.5,603.5 195.5,606.5 199.5,609.5 201.5,613.5 209.5,613.5 209.5,618.5 207.5,624.5 205.5,629.5 203.5,635.5 203.5,640.5 203.5,645.5 207.5,646.5 215.5,648.5 215.5,650.5 209.5,650.5 200.5,649.5 200.5,650.5 208.5,652.5 214.5,654.5 214.5,657.5 210.5,659.5 209.5,662.5 211.5,666.5 212.5,672.5 213.5,680.5 213.5,688.5 214.5,694.5 213.5,704.5 213.5,709.5 209.5,711.5 209.5,713.5 216.5,714.5 217.5,720.5 217.5,726.5 219.5,732.5 220.5,737.5 218.5,739.5 219.5,743.5 223.5,748.5 225.5,753.5 225.5,759.5 225.5,757.5 230.5,762.5 234.5,766.5 240.5,771.5 239.5,778.5 245.5,782.5 251.5,787.5 257.5,791.5 264.5,794.5 269.5,797.5 273.5,799.5 275.5,805.5 278.5,810.5 283.5,811.5 281.5,816.5 280.5,821.5 279.5,825.5 281.5,826.5 285.5,831.5 287.5,836.5 288.5,848.5 328.5,848.5 328.5,840.5 326.5,832.5 323.5,827.5 317.5,824.5 313.5,821.5 313.5,818.5 315.5,813.5 318.5,805.5 321.5,798.5 325.5,797.5 330.5,793.5 335.5,789.5 339.5,786.5 343.5,783.5 350.5,780.5 358.5,778.5 365.5,776.5 370.5,775.5 380.5,773.5 390.5,769.5 400.5,765.5 410.5,761.5 418.5,758.5 424.5,758.5 427.5,754.5 430.5,752.5 432.5,750.5 440.5,751.5 449.5,752.5 453.5,755.5 462.5,760.5 456.5,763.5 454.5,768.5 455.5,775.5 454.5,780.5 450.5,784.5 446.5,787.5 442.5,788.5 441.5,784.5 442.5,782.5 440.5,782.5 435.5,787.5 434.5,790.5 436.5,796.5 437.5,801.5 439.5,807.5 442.5,813.5 444.5,819.5 448.5,823.5 455.5,823.5 465.5,823.5 473.5,822.5 480.5,823.5 488.5,826.5 496.5,829.5 504.5,832.5 512.5,836.5 520.5,841.5 527.5,846.5 528.5,847.5 743.5,846.5 742.5,764.5 741.5,708.5 740.5,662.5 754.5,661.5 763.5,664.5 766.5,663.5 768.5,658.5 768.5,654.5 766.5,652.5 766.5,608.5 766.5,575.5 765.5,560.5 776.5,559.5 776.5,507.5 775.5,462.5 639.5,463.5"/>
<polyline class="ln" points="163.5,489.5 162.5,486.5 160.5,479.5 162.5,474.5 159.5,469.5 161.5,468.5 160.5,463.5 157.5,465.5 155.5,461.5 151.5,458.5 149.5,454.5 149.5,450.5 148.5,444.5 143.5,442.5 145.5,437.5 150.5,438.5 157.5,433.5 157.5,437.5 160.5,439.5 163.5,433.5 168.5,427.5 170.5,421.5 173.5,418.5 174.5,414.5 177.5,410.5 180.5,404.5 182.5,398.5 186.5,392.5 187.5,386.5 187.5,380.5 187.5,385.5 184.5,375.5 182.5,355.5 179.5,333.5 179.5,323.5 280.5,322.5 280.5,251.5 407.5,250.5 407.5,243.5 392.5,226.5 404.5,224.5 490.5,224.5 510.5,222.5 567.5,222.5 572.5,227.5 578.5,243.5 586.5,250.5 594.5,256.5 602.5,260.5 616.5,258.5 632.5,257.5 635.5,260.5 637.5,275.5 645.5,293.5 650.5,309.5 658.5,318.5 676.5,325.5 687.5,333.5 691.5,343.5 687.5,361.5 678.5,383.5 670.5,395.5 667.5,417.5 658.5,435.5 647.5,455.5 638.5,463.5 630.5,465.5 626.5,465.5 564.5,466.5 516.5,465.5 480.5,465.5 480.5,500.5 479.5,506.5 473.5,506.5 472.5,516.5 471.5,522.5 466.5,522.5 466.5,515.5 460.5,515.5 459.5,514.5 454.5,514.5 452.5,515.5 444.5,515.5"/>
</g>
</g>
</g>
<!-- north arrow -->
<g id="north">
<rect x="1573" y="800" width="2.6" height="81.2" fill="#000"/>
<polygon points="1575.6,779 1575.6,821.6 1566.8,821.6" fill="#000"/>
<text transform="translate(1558.9,866.3) rotate(90)" font-size="14.6" font-weight="bold" x="0" y="0" textLength="7.8" lengthAdjust="spacingAndGlyphs">N</text>
</g>
<!-- legend -->
<g id="legend">
<text x="74.8" y="940" font-size="20.5" textLength="166.5" lengthAdjust="spacingAndGlyphs">Dwelling Value ($)</text>
<rect class="sw c1" x="75.6" y="957.6" width="59.8" height="29.6"/>
<rect class="sw c2" x="75.6" y="998.4" width="59.8" height="29.6"/>
<rect class="sw c3" x="75.6" y="1039.2" width="59.8" height="29.6"/>
<rect class="sw c4" x="75.6" y="1080" width="59.8" height="29.6"/>
<rect class="sw c5" x="75.6" y="1120.8" width="59.8" height="29.6"/>
<rect class="sw c0" x="75.6" y="1161.6" width="59.8" height="29.6"/>
<text x="145.7" y="979" font-size="20.5" textLength="111.5" lengthAdjust="spacingAndGlyphs">200K - 500K</text>
<text x="145.7" y="1020" font-size="20.5" textLength="96.3" lengthAdjust="spacingAndGlyphs">500K - 1M</text>
<text x="144.8" y="1061" font-size="20.5" textLength="81" lengthAdjust="spacingAndGlyphs">1M - 2M</text>
<text x="145.7" y="1101" font-size="20.5" textLength="80.3" lengthAdjust="spacingAndGlyphs">2M - 3M</text>
<text x="145.7" y="1142" font-size="20.5" textLength="96.3" lengthAdjust="spacingAndGlyphs">3M - 3.7M</text>
<text x="145.4" y="1183.7" font-size="21.5" textLength="80.2" lengthAdjust="spacingAndGlyphs">No Data</text>
<text x="74.6" y="1215" font-size="19" textLength="124.2" lengthAdjust="spacingAndGlyphs">K = Thousands</text>
<text x="74.6" y="1239.7" font-size="19" textLength="105.2" lengthAdjust="spacingAndGlyphs">M = Millions</text>
</g>
<!-- scale bar -->
<g id="scalebar">
<text class="serif" x="1259.8" y="934.2" font-size="21.5" text-anchor="middle">0</text>
<text class="serif" x="1308.5" y="934.2" font-size="21.5" text-anchor="middle">5</text>
<text class="serif" x="1357.4" y="934.2" font-size="21.5" text-anchor="middle">10</text>
<text class="serif" x="1456.2" y="934.2" font-size="21.5" text-anchor="middle">20</text>
<text x="1474.5" y="934.2" font-size="20" textLength="98" lengthAdjust="spacing">Kilometers</text>
<rect x="1258.2" y="953.5" width="199.8" height="2.7" fill="#000"/>
<rect x="1258.2" y="947" width="2.7" height="16.8" fill="#000"/>
<rect x="1356.1" y="947" width="2.7" height="16.8" fill="#000"/>
<rect x="1455.3" y="947" width="2.7" height="16.8" fill="#000"/>
<rect x="1307" y="949.2" width="2.4" height="12.3" fill="#000"/>
<rect x="1406.2" y="949.2" width="2.4" height="12.3" fill="#000"/>
</g>
<!-- credits -->
<g id="credits" font-size="22.5">
<text x="1108" y="998.7" textLength="469.4" lengthAdjust="spacingAndGlyphs">Coordinate System: NAD 1983 UTM Zone 10N</text>
<text x="1246.5" y="1029" textLength="328.5" lengthAdjust="spacingAndGlyphs">Projection: Transverse Mercator</text>
<text x="1181" y="1059.4" textLength="394" lengthAdjust="spacingAndGlyphs">Source: 2016 Census, Statistics Canada</text>
<text x="1278" y="1089.6" textLength="298.3" lengthAdjust="spacingAndGlyphs">Classification: Manual Breaks</text>
</g>
<g id="author" font-size="25">
<text x="1424" y="1140" textLength="151" lengthAdjust="spacingAndGlyphs">Jennifer Lipka</text>
<text x="1414.5" y="1171.6" textLength="160.5" lengthAdjust="spacingAndGlyphs">Geob 270, L1A</text>
<text x="1385" y="1204.6" textLength="191" lengthAdjust="spacingAndGlyphs">October 29, 2018</text>
</g>
</svg>
</body>
</html>
